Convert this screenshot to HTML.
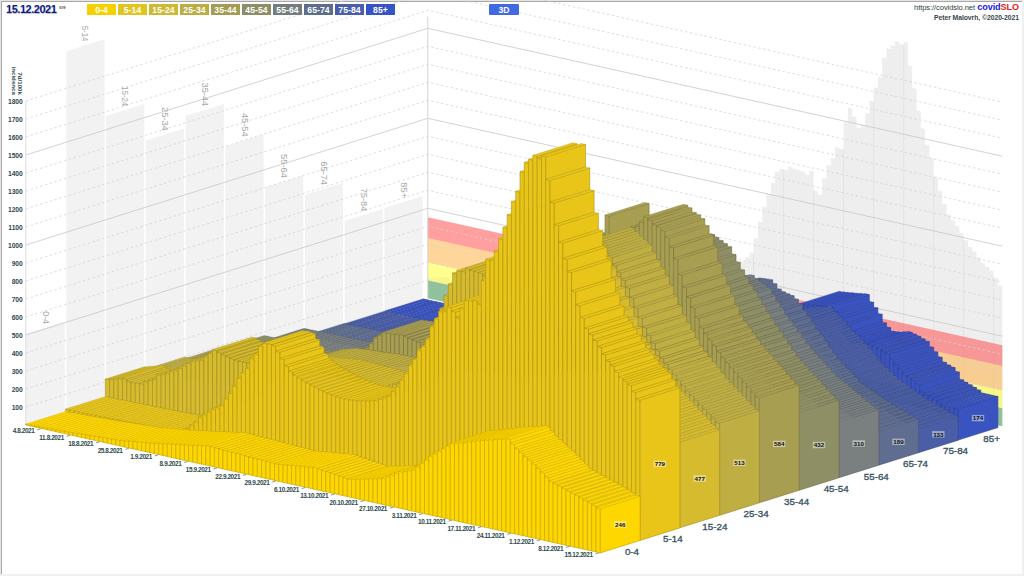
<!DOCTYPE html>
<html><head><meta charset="utf-8"><style>
html,body{margin:0;padding:0;background:#fff;}
body{width:1024px;height:576px;position:relative;overflow:hidden;font-family:"Liberation Sans","DejaVu Sans",sans-serif;}
.lg,#b3d,#date,#dow,#url,#brand,#auth{z-index:5}
#frame{position:absolute;left:0;top:0;width:1024px;height:576px;box-sizing:border-box;}
.bt{position:absolute;left:0;top:0;width:1024px;height:1px;background:#e4e4e4}
.bt2{position:absolute;left:1px;top:1px;width:1021px;height:1px;background:#a8a8a8}
.bl{position:absolute;left:0;top:0;width:1px;height:576px;background:#e4e4e4}
.bl2{position:absolute;left:1px;top:1px;width:1px;height:573px;background:#a8a8a8}
.br{position:absolute;left:1022px;top:0;width:2px;height:576px;background:#f0f0f0}
.bb{position:absolute;left:0;top:574px;width:1024px;height:2px;background:#f0f0f0}
#date{position:absolute;left:5.5px;top:3.2px;font:bold 11.5px "Liberation Sans",sans-serif;color:#0d1a8c;letter-spacing:-0.45px;text-shadow:0.6px 0.8px 0.6px rgba(0,0,0,0.25);transform:scaleX(0.95);transform-origin:0 0;}
#dow{position:absolute;left:59px;top:4.5px;font:bold 4.5px "Liberation Sans",sans-serif;color:#555;}
.lg{position:absolute;top:4px;width:29px;height:10.5px;color:#fff;font:bold 8.6px "Liberation Sans",sans-serif;text-align:center;line-height:12px;letter-spacing:0.1px;overflow:hidden}
#b3d{position:absolute;left:489px;top:4px;width:30px;height:10.6px;background:#4169e1;color:#fff;font:bold 8.6px "Liberation Sans",sans-serif;text-align:center;line-height:12px;border-radius:1px;overflow:hidden}
#url{position:absolute;right:49px;top:3.3px;font:7.6px "Liberation Sans",sans-serif;color:#2f3f40;letter-spacing:-0.1px}
#brand{position:absolute;right:5px;top:2.3px;font:bold 9.1px "Liberation Sans",sans-serif;letter-spacing:-0.1px}
#auth{position:absolute;right:5px;top:13.5px;font:bold 6.8px "Liberation Sans",sans-serif;color:#34464a;letter-spacing:-0.05px}
svg text{font-family:"Liberation Sans","DejaVu Sans",sans-serif;}
.wl{font-size:9.2px;fill:#a8a8a8;}
.vl{font-size:6.2px;fill:#111;font-weight:bold}
.al{font-size:9.8px;fill:#3b5464;stroke:#3b5464;stroke-width:0.35px}
.dl{font-size:6.4px;fill:#2e4a4e;font-weight:bold;letter-spacing:-0.4px}
.yl{font-size:6.7px;fill:#2e4a4e;font-weight:bold;letter-spacing:0px}
.yt{font-size:6.2px;fill:#2e4a4e;font-weight:bold}
</style></head><body>
<div class="bt"></div><div class="bl"></div><div class="bt2"></div><div class="bl2"></div><div class="br"></div><div class="bb"></div>
<div id="date">15.12.2021</div><div id="dow">sre</div>
<div class="lg" style="left:87px;background:#f7d000">0-4</div>
<div class="lg" style="left:118px;background:#e2c41e">5-14</div>
<div class="lg" style="left:149px;background:#d0b832">15-24</div>
<div class="lg" style="left:180px;background:#bcac44">25-34</div>
<div class="lg" style="left:211px;background:#a49c52">35-44</div>
<div class="lg" style="left:242px;background:#8e8e66">45-54</div>
<div class="lg" style="left:273px;background:#737d7e">55-64</div>
<div class="lg" style="left:304px;background:#5e6c8e">65-74</div>
<div class="lg" style="left:335px;background:#4a5eac">75-84</div>
<div class="lg" style="left:366px;background:#3654c6">85+</div>
<div id="b3d">3D</div>
<div id="url">https://covidslo.net</div>
<div id="brand"><span style="color:#1414f0">covid</span><span style="color:#f01818">SLO</span></div>
<div id="auth">Peter Malovrh, ©2020-2021</div>
<svg width="1024" height="576" viewBox="0 0 1024 576" style="position:absolute;left:0;top:0">
<style>.t{stroke-opacity:0.5}</style>
<polygon points="25.8,425.0 64.8,412.7 64.8,321.8 25.8,334.1" fill="#f2f2f2"/>
<polygon points="66.3,412.2 104.6,400.2 104.6,39.1 66.3,51.2" fill="#f2f2f2"/>
<polygon points="106.1,399.7 144.3,387.6 144.3,104.0 106.1,116.0" fill="#f2f2f2"/>
<polygon points="145.8,387.2 184.1,375.1 184.1,128.5 145.8,140.6" fill="#f2f2f2"/>
<polygon points="185.6,374.6 223.8,362.6 223.8,103.9 185.6,116.0" fill="#f2f2f2"/>
<polygon points="225.4,362.1 263.6,350.1 263.6,134.4 225.4,146.5" fill="#f2f2f2"/>
<polygon points="265.1,349.6 303.4,337.5 303.4,175.5 265.1,187.6" fill="#f2f2f2"/>
<polygon points="304.9,337.1 343.1,325.0 343.1,182.8 304.9,194.9" fill="#f2f2f2"/>
<polygon points="344.6,324.5 382.9,312.5 382.9,209.0 344.6,221.0" fill="#f2f2f2"/>
<polygon points="384.4,312.0 422.6,299.9 422.6,195.9 384.4,208.0" fill="#f2f2f2"/>
<polygon points="427.8,298.3 427.8,277.4 432.1,278.4 432.1,277.2 436.3,278.1 436.3,276.9 440.6,277.9 440.6,276.7 444.9,277.6 444.9,276.4 449.2,277.4 449.2,279.7 453.5,280.6 453.5,280.3 457.8,281.3 457.8,281.0 462.1,282.0 462.1,281.7 466.4,282.6 466.4,279.6 470.6,280.5 470.6,278.3 474.9,279.3 474.9,277.1 479.2,278.1 479.2,272.7 483.5,273.7 483.5,271.9 487.8,272.9 487.8,271.2 492.1,272.1 492.1,269.6 496.4,270.6 496.4,268.1 500.7,269.0 500.7,265.9 504.9,266.8 504.9,263.7 509.2,264.6 509.2,261.5 513.5,262.4 513.5,259.3 517.8,260.2 517.8,258.7 522.1,259.7 522.1,258.1 526.4,259.1 526.4,254.8 530.7,255.7 530.7,251.4 535.0,252.3 535.0,248.0 539.2,249.0 539.2,250.4 543.5,251.4 543.5,252.8 547.8,253.8 547.8,254.7 552.1,255.7 552.1,256.6 556.4,257.6 556.4,258.6 560.7,259.5 560.7,259.3 565.0,260.3 565.0,260.1 569.3,261.1 569.3,260.9 573.5,261.8 573.5,261.7 577.8,262.6 577.8,262.4 582.1,263.4 582.1,263.2 586.4,264.2 586.4,264.0 590.7,264.9 590.7,264.8 595.0,265.7 595.0,265.5 599.3,266.5 599.3,263.8 603.6,264.7 603.6,258.1 607.8,259.0 607.8,253.8 612.1,254.8 612.1,244.0 616.4,244.9 616.4,239.5 620.7,240.5 620.7,231.8 625.0,232.8 625.0,228.8 629.3,229.8 629.3,229.4 633.6,230.4 633.6,231.1 637.9,232.1 637.9,237.1 642.1,238.0 642.1,244.3 646.4,245.3 646.4,251.6 650.7,252.6 650.7,257.1 655.0,258.0 655.0,260.7 659.3,261.7 659.3,263.5 663.6,264.4 663.6,266.2 667.9,267.2 667.9,268.5 672.1,269.5 672.1,270.8 676.4,271.8 676.4,273.1 680.7,274.1 680.7,275.4 685.0,276.4 685.0,277.3 689.3,278.2 689.3,279.1 693.6,280.1 693.6,281.0 697.9,282.0 697.9,282.3 702.2,283.2 702.2,283.5 706.4,284.5 706.4,284.8 710.7,285.7 710.7,283.6 715.0,284.5 715.0,282.4 719.3,283.3 719.3,281.1 723.6,282.1 723.6,279.9 727.9,280.9 727.9,278.7 732.2,279.7 732.2,274.3 736.5,275.2 736.5,269.8 740.7,270.8 740.7,261.1 745.0,262.0 745.0,256.7 749.3,257.7 749.3,252.4 753.6,253.3 753.6,237.8 757.9,238.8 757.9,221.3 762.2,222.3 762.2,206.6 766.5,207.6 766.5,193.5 770.8,194.5 770.8,182.4 775.0,183.4 775.0,171.3 779.3,172.3 779.3,168.7 783.6,169.6 783.6,169.5 787.9,170.4 787.9,166.6 792.2,167.6 792.2,168.3 796.5,169.3 796.5,169.6 800.8,170.6 800.8,170.9 805.1,171.9 805.1,174.2 809.3,175.2 809.3,170.3 813.6,171.3 813.6,190.4 817.9,191.3 817.9,194.4 822.2,195.3 822.2,177.9 826.5,178.8 826.5,165.0 830.8,165.9 830.8,157.8 835.1,158.8 835.1,146.9 839.4,147.9 839.4,148.6 843.6,149.5 843.6,121.4 847.9,122.4 847.9,107.5 852.2,108.4 852.2,116.2 856.5,117.1 856.5,127.4 860.8,128.3 860.8,124.2 865.1,125.1 865.1,113.1 869.4,114.0 869.4,100.5 873.7,101.5 873.7,87.3 877.9,88.2 877.9,77.1 882.2,78.0 882.2,57.5 886.5,58.5 886.5,48.2 890.8,49.1 890.8,45.0 895.1,46.0 895.1,41.1 899.4,42.1 899.4,44.0 903.7,45.0 903.7,41.8 908.0,42.7 908.0,65.4 912.2,66.3 912.2,87.9 916.5,88.9 916.5,110.6 920.8,111.5 920.8,127.9 925.1,128.9 925.1,144.3 929.4,145.2 929.4,157.3 933.7,158.3 933.7,176.8 938.0,177.7 938.0,190.6 942.2,191.5 942.2,203.4 946.5,204.3 946.5,213.9 950.8,214.9 950.8,219.7 955.1,220.7 955.1,225.8 959.4,226.8 959.4,232.4 963.7,233.4 963.7,239.7 968.0,240.7 968.0,246.4 972.3,247.4 972.3,251.1 976.5,252.0 976.5,257.3 980.8,258.3 980.8,262.8 985.1,263.8 985.1,266.4 989.4,267.3 989.4,270.3 993.7,271.2 993.7,277.3 998.0,278.3 998.0,285.1 1002.3,286.0 1002.3,426.2" fill="#eeeeee"/>
<line x1="453.5" y1="304.0" x2="453.5" y2="280.6" stroke="#e3e3e3" stroke-width="1"/>
<line x1="483.5" y1="310.7" x2="483.5" y2="273.7" stroke="#e3e3e3" stroke-width="1"/>
<line x1="513.5" y1="317.4" x2="513.5" y2="262.4" stroke="#e3e3e3" stroke-width="1"/>
<line x1="543.5" y1="324.1" x2="543.5" y2="252.8" stroke="#e3e3e3" stroke-width="1"/>
<line x1="573.5" y1="330.8" x2="573.5" y2="261.8" stroke="#e3e3e3" stroke-width="1"/>
<line x1="603.6" y1="337.5" x2="603.6" y2="264.7" stroke="#e3e3e3" stroke-width="1"/>
<line x1="633.6" y1="344.1" x2="633.6" y2="231.1" stroke="#e3e3e3" stroke-width="1"/>
<line x1="663.6" y1="350.8" x2="663.6" y2="266.2" stroke="#e3e3e3" stroke-width="1"/>
<line x1="693.6" y1="357.5" x2="693.6" y2="281.0" stroke="#e3e3e3" stroke-width="1"/>
<line x1="723.6" y1="364.2" x2="723.6" y2="282.1" stroke="#e3e3e3" stroke-width="1"/>
<line x1="753.6" y1="370.9" x2="753.6" y2="253.3" stroke="#e3e3e3" stroke-width="1"/>
<line x1="783.6" y1="377.5" x2="783.6" y2="169.6" stroke="#e3e3e3" stroke-width="1"/>
<line x1="813.6" y1="384.2" x2="813.6" y2="190.4" stroke="#e3e3e3" stroke-width="1"/>
<line x1="843.6" y1="390.9" x2="843.6" y2="149.5" stroke="#e3e3e3" stroke-width="1"/>
<line x1="873.7" y1="397.6" x2="873.7" y2="101.5" stroke="#e3e3e3" stroke-width="1"/>
<line x1="903.7" y1="404.3" x2="903.7" y2="45.0" stroke="#e3e3e3" stroke-width="1"/>
<line x1="933.7" y1="411.0" x2="933.7" y2="176.8" stroke="#e3e3e3" stroke-width="1"/>
<line x1="963.7" y1="417.6" x2="963.7" y2="239.7" stroke="#e3e3e3" stroke-width="1"/>
<line x1="993.7" y1="424.3" x2="993.7" y2="277.3" stroke="#e3e3e3" stroke-width="1"/>
<polygon points="427.8,298.3 1002.3,426.2 1002.3,408.2 427.8,280.3" fill="rgba(60,150,80,0.52)"/>
<polygon points="427.8,280.3 1002.3,408.2 1002.3,390.2 427.8,262.3" fill="rgba(255,255,40,0.52)"/>
<polygon points="427.8,262.3 1002.3,390.2 1002.3,365.9 427.8,238.0" fill="rgba(255,175,60,0.52)"/>
<polygon points="427.8,238.0 1002.3,365.9 1002.3,345.2 427.8,217.3" fill="rgba(255,70,70,0.52)"/>
<polyline points="25.8,407.0 427.8,280.3 1002.3,408.2" fill="none" stroke="#d4d4d4" stroke-width="0.8" stroke-dasharray="2.5,2.5"/>
<polyline points="25.8,389.0 427.8,262.3 1002.3,390.2" fill="none" stroke="#d4d4d4" stroke-width="0.8" stroke-dasharray="2.5,2.5"/>
<polyline points="25.8,371.0 427.8,244.3 1002.3,372.2" fill="none" stroke="#d4d4d4" stroke-width="0.8" stroke-dasharray="2.5,2.5"/>
<polyline points="25.8,353.0 427.8,226.3 1002.3,354.2" fill="none" stroke="#d4d4d4" stroke-width="0.8" stroke-dasharray="2.5,2.5"/>
<polyline points="25.8,335.0 427.8,208.3 1002.3,336.2" fill="none" stroke="#c8c8c8" stroke-width="0.8"/>
<polyline points="25.8,317.0 427.8,190.3 1002.3,318.2" fill="none" stroke="#d4d4d4" stroke-width="0.8" stroke-dasharray="2.5,2.5"/>
<polyline points="25.8,299.0 427.8,172.3 1002.3,300.2" fill="none" stroke="#d4d4d4" stroke-width="0.8" stroke-dasharray="2.5,2.5"/>
<polyline points="25.8,281.0 427.8,154.3 1002.3,282.2" fill="none" stroke="#d4d4d4" stroke-width="0.8" stroke-dasharray="2.5,2.5"/>
<polyline points="25.8,263.0 427.8,136.3 1002.3,264.2" fill="none" stroke="#d4d4d4" stroke-width="0.8" stroke-dasharray="2.5,2.5"/>
<polyline points="25.8,245.0 427.8,118.3 1002.3,246.2" fill="none" stroke="#c8c8c8" stroke-width="0.8"/>
<polyline points="25.8,227.0 427.8,100.3 1002.3,228.2" fill="none" stroke="#d4d4d4" stroke-width="0.8" stroke-dasharray="2.5,2.5"/>
<polyline points="25.8,209.0 427.8,82.3 1002.3,210.2" fill="none" stroke="#d4d4d4" stroke-width="0.8" stroke-dasharray="2.5,2.5"/>
<polyline points="25.8,191.0 427.8,64.3 1002.3,192.2" fill="none" stroke="#d4d4d4" stroke-width="0.8" stroke-dasharray="2.5,2.5"/>
<polyline points="25.8,173.0 427.8,46.3 1002.3,174.2" fill="none" stroke="#d4d4d4" stroke-width="0.8" stroke-dasharray="2.5,2.5"/>
<polyline points="25.8,155.0 427.8,28.3 1002.3,156.2" fill="none" stroke="#c8c8c8" stroke-width="0.8"/>
<polyline points="25.8,137.0 427.8,10.3 1002.3,138.2" fill="none" stroke="#d4d4d4" stroke-width="0.8" stroke-dasharray="2.5,2.5"/>
<polyline points="25.8,119.0 427.8,-7.7 1002.3,120.2" fill="none" stroke="#d4d4d4" stroke-width="0.8" stroke-dasharray="2.5,2.5"/>
<polyline points="25.8,101.0 427.8,-25.7 1002.3,102.2" fill="none" stroke="#d4d4d4" stroke-width="0.8" stroke-dasharray="2.5,2.5"/>
<line x1="25.8" y1="425.0" x2="25.8" y2="101.0" stroke="#dcdcdc" stroke-width="1"/>
<line x1="427.8" y1="298.3" x2="427.8" y2="16.6" stroke="#d4d4d4" stroke-width="1"/>
<text transform="translate(42.7,324.0) rotate(90)" text-anchor="end" class="wl" textLength="12.7" lengthAdjust="spacingAndGlyphs">0-4</text>
<text transform="translate(82.4,41.3) rotate(90)" text-anchor="end" class="wl" textLength="15.5" lengthAdjust="spacingAndGlyphs">5-14</text>
<text transform="translate(122.2,106.2) rotate(90)" text-anchor="end" class="wl" textLength="20.1" lengthAdjust="spacingAndGlyphs">15-24</text>
<text transform="translate(162.0,130.7) rotate(90)" text-anchor="end" class="wl" textLength="23.7" lengthAdjust="spacingAndGlyphs">25-34</text>
<text transform="translate(201.7,106.2) rotate(90)" text-anchor="end" class="wl" textLength="23.7" lengthAdjust="spacingAndGlyphs">35-44</text>
<text transform="translate(241.5,136.6) rotate(90)" text-anchor="end" class="wl" textLength="23.7" lengthAdjust="spacingAndGlyphs">45-54</text>
<text transform="translate(281.2,177.8) rotate(90)" text-anchor="end" class="wl" textLength="23.7" lengthAdjust="spacingAndGlyphs">55-64</text>
<text transform="translate(321.0,185.0) rotate(90)" text-anchor="end" class="wl" textLength="23.7" lengthAdjust="spacingAndGlyphs">65-74</text>
<text transform="translate(360.8,211.2) rotate(90)" text-anchor="end" class="wl" textLength="23.3" lengthAdjust="spacingAndGlyphs">75-84</text>
<text transform="translate(400.5,198.1) rotate(90)" text-anchor="end" class="wl" textLength="15.8" lengthAdjust="spacingAndGlyphs">85+</text>
<g fill="#3953c0" stroke="#2b3e90" stroke-width="0.6" stroke-linejoin="round"><path class="t" d="M383.6,311.3l4.3,1l39.8,-12.5l-4.3,-1z"/><path class="t" d="M387.9,312.3l4.3,1l39.8,-12.5l-4.3,-1z"/><path class="t" d="M392.2,313.2l4.3,1l39.8,-12.5l-4.3,-1z"/><path class="t" d="M396.5,314.1l4.3,1l39.8,-12.5l-4.3,-1z"/><path class="t" d="M400.8,315l4.3,1l39.8,-12.5l-4.3,-1z"/><path class="t" d="M405.1,316l4.3,1l39.8,-12.5l-4.3,-1z"/><path class="t" d="M409.4,316.9l4.3,1l39.8,-12.5l-4.3,-1z"/><path class="t" d="M413.7,317.8l4.3,1l39.8,-12.5l-4.3,-1z"/><path class="t" d="M417.9,318.8l4.3,1l39.8,-12.5l-4.3,-1z"/><path class="t" d="M422.2,319.7l4.3,1l39.8,-12.5l-4.3,-1z"/><path class="t" d="M426.5,320.6l4.3,1l39.8,-12.5l-4.3,-1z"/><path class="t" d="M430.8,321.5l4.3,1l39.8,-12.5l-4.3,-1z"/><path class="t" d="M435.1,322.5l4.3,1l39.8,-12.5l-4.3,-1z"/><path class="t" d="M439.4,323.4l4.3,1l39.8,-12.5l-4.3,-1z"/><path class="t" d="M443.7,324.3l4.3,1l39.8,-12.5l-4.3,-1z"/><path class="t" d="M447.9,325.2l4.3,1l39.8,-12.5l-4.3,-1z"/><path class="t" d="M452.2,326.2l4.3,1l39.8,-12.5l-4.3,-1z"/><path class="t" d="M456.5,327.1l4.3,1l39.8,-12.5l-4.3,-1z"/><path class="t" d="M460.8,328l4.3,1l39.8,-12.5l-4.3,-1z"/><path class="t" d="M465.1,329l4.3,1l39.8,-12.5l-4.3,-1z"/><path class="t" d="M469.4,329.9l4.3,1l39.8,-12.5l-4.3,-1z"/><path class="t" d="M473.7,330.6l4.3,1l39.8,-12.5l-4.3,-1z"/><path class="t" d="M478,331.4l4.3,1l39.8,-12.5l-4.3,-1z"/><path class="t" d="M482.2,332.1l4.3,1l39.8,-12.5l-4.3,-1z"/><path class="t" d="M486.5,332.8l4.3,1l39.8,-12.5l-4.3,-1z"/><path class="t" d="M490.8,333.6l4.3,1l39.8,-12.5l-4.3,-1z"/><path class="t" d="M495.1,334.3l4.3,1l39.8,-12.5l-4.3,-1z"/><path class="t" d="M499.4,335l4.3,1l39.8,-12.5l-4.3,-1z"/><path class="t" d="M503.7,335.8l4.3,1l39.8,-12.5l-4.3,-1z"/><path class="t" d="M508,336.5l4.3,1l39.8,-12.5l-4.3,-1z"/><path class="t" d="M512.3,337.3l4.3,1l39.8,-12.5l-4.3,-1z"/><path class="t" d="M516.5,337.9l4.3,1l39.8,-12.5l-4.3,-1z"/><path class="t" d="M520.8,338.5l4.3,1l39.8,-12.5l-4.3,-1z"/><path class="t" d="M525.1,339l4.3,1l39.8,-12.5l-4.3,-1z"/><path class="t" d="M529.4,339.6l4.3,1l39.8,-12.5l-4.3,-1z"/><path class="t" d="M533.7,340.2l4.3,1l39.8,-12.5l-4.3,-1z"/><path class="t" d="M538,340.8l4.3,1l39.8,-12.5l-4.3,-1z"/><path class="t" d="M542.3,341.4l4.3,1l39.8,-12.5l-4.3,-1z"/><path class="t" d="M546.6,342l4.3,1l39.8,-12.5l-4.3,-1z"/><path class="t" d="M550.8,342.6l4.3,1l39.8,-12.5l-4.3,-1z"/><path class="t" d="M555.1,343.2l4.3,1l39.8,-12.5l-4.3,-1z"/><path class="t" d="M559.4,343.8l4.3,1l39.8,-12.5l-4.3,-1z"/><path class="t" d="M563.7,344.4l4.3,1l39.8,-12.5l-4.3,-1z"/><path class="t" d="M568,345l4.3,1l39.8,-12.5l-4.3,-1z"/><path class="t" d="M572.3,345.6l4.3,1l39.8,-12.5l-4.3,-1z"/><path class="t" d="M576.6,346.2l4.3,1l39.8,-12.5l-4.3,-1z"/><path class="t" d="M580.9,346.8l4.3,1l39.8,-12.5l-4.3,-1z"/><path class="t" d="M585.1,347.4l4.3,1l39.8,-12.5l-4.3,-1z"/><path class="t" d="M589.4,348l4.3,1l39.8,-12.5l-4.3,-1z"/><path class="t" d="M593.7,348.6l4.3,1l39.8,-12.5l-4.3,-1z"/><path class="t" d="M598,349.2l4.3,1l39.8,-12.5l-4.3,-1z"/><path class="t" d="M602.3,349.7l4.3,1l39.8,-12.5l-4.3,-1z"/><path class="t" d="M606.6,350.3l4.3,1l39.8,-12.5l-4.3,-1z"/><path class="t" d="M610.9,350.9l4.3,1l39.8,-12.5l-4.3,-1z"/><path class="t" d="M615.2,351.5l4.3,1l39.8,-12.5l-4.3,-1z"/><path class="t" d="M619.4,352.1l4.3,1l39.8,-12.5l-4.3,-1z"/><path class="t" d="M623.7,352.7l4.3,1l39.8,-12.5l-4.3,-1z"/><path class="t" d="M628,353.3l4.3,1l39.8,-12.5l-4.3,-1z"/><path class="t" d="M632.3,353.9l4.3,1l39.8,-12.5l-4.3,-1z"/><path class="t" d="M636.6,354.5l4.3,1l39.8,-12.5l-4.3,-1z"/><path class="t" d="M640.9,355.1l4.3,1l39.8,-12.5l-4.3,-1z"/><path class="t" d="M645.2,355.5l4.3,1l39.8,-12.5l-4.3,-1z"/><path class="t" d="M649.5,355.9l4.3,1l39.8,-12.5l-4.3,-1z"/><path class="t" d="M653.7,356.3l4.3,1l39.8,-12.5l-4.3,-1z"/><path class="t" d="M658,356.8l4.3,1l39.8,-12.5l-4.3,-1z"/><path class="t" d="M662.3,357.2l4.3,1l39.8,-12.5l-4.3,-1z"/><path class="t" d="M666.6,357.6l4.3,1l39.8,-12.5l-4.3,-1z"/><path class="t" d="M670.9,358l4.3,1l39.8,-12.5l-4.3,-1z"/><path class="t" d="M675.2,358.4l4.3,1l39.8,-12.5l-4.3,-1z"/><path class="t" d="M679.5,358.8l4.3,1l39.8,-12.5l-4.3,-1z"/><path class="t" d="M683.8,359.2l4.3,1l39.8,-12.5l-4.3,-1z"/><path class="t" d="M688,357.7l4.3,1l39.8,-12.5l-4.3,-1z"/><path class="t" d="M692.3,356.1l4.3,1l39.8,-12.5l-4.3,-1z"/><path d="M696.6,354.9l4.3,1v-.4l-4.3,-1z"/><path class="t" d="M696.6,354.5l4.3,1l39.8,-12.5l-4.3,-1z"/><path d="M700.9,354.1l4.3,1v-1.1l-4.3,-1z"/><path class="t" d="M700.9,353l4.3,1l39.8,-12.5l-4.3,-1z"/><path d="M705.2,353.2l4.3,1v-1.8l-4.3,-1z"/><path class="t" d="M705.2,351.4l4.3,1l39.8,-12.5l-4.3,-1z"/><path d="M709.5,352.4l4.3,1v-2.5l-4.3,-1z"/><path class="t" d="M709.5,349.9l4.3,1l39.8,-12.5l-4.3,-1z"/><path d="M713.8,351.5l4.3,1v-3.2l-4.3,-1z"/><path class="t" d="M713.8,348.3l4.3,1l39.8,-12.5l-4.3,-1z"/><path d="M718,350.7l4.3,1v-4l-4.3,-1z"/><path class="t" d="M718,346.7l4.3,1l39.8,-12.5l-4.3,-1z"/><path d="M722.3,349.8l4.3,1v-4.7l-4.3,-1z"/><path class="t" d="M722.3,345.2l4.3,1l39.8,-12.5l-4.3,-1z"/><path d="M726.6,349l4.3,1v-5.4l-4.3,-1z"/><path class="t" d="M726.6,343.6l4.3,1l39.8,-12.5l-4.3,-1z"/><path d="M730.9,347l4.3,1v-7.1l-4.3,-1z"/><path class="t" d="M730.9,339.9l4.3,1l39.8,-12.5l-4.3,-1z"/><path d="M735.2,345l4.3,1v-8.8l-4.3,-1z"/><path class="t" d="M735.2,336.2l4.3,1l39.8,-12.5l-4.3,-1z"/><path d="M739.5,343.1l4.3,1v-10.5l-4.3,-1z"/><path class="t" d="M739.5,332.6l4.3,1l39.8,-12.5l-4.3,-1z"/><path d="M743.8,341.1l4.3,1v-12.2l-4.3,-1z"/><path class="t" d="M743.8,328.9l4.3,1l39.8,-12.5l-4.3,-1z"/><path d="M748.1,339.1l4.3,1v-13.9l-4.3,-1z"/><path class="t" d="M748.1,325.2l4.3,1l39.8,-12.5l-4.3,-1z"/><path d="M752.3,337.2l4.3,1v-15.6l-4.3,-1z"/><path class="t" d="M752.3,321.5l4.3,1l39.8,-12.5l-4.3,-1z"/><path d="M756.6,335.2l4.3,1v-17.3l-4.3,-1z"/><path class="t" d="M756.6,317.9l4.3,1l39.8,-12.5l-4.3,-1z"/><path d="M760.9,333.2l4.3,1v-14.7l-4.3,-1z"/><path class="t" d="M760.9,318.5l4.3,1l39.8,-12.5l-4.3,-1z"/><path d="M765.2,331.3l4.3,1v-12.1l-4.3,-1z"/><path class="t" d="M765.2,319.2l4.3,1l39.8,-12.5l-4.3,-1z"/><path d="M769.5,329.3l4.3,1v-9.4l-4.3,-1z"/><path class="t" d="M769.5,319.8l4.3,1l39.8,-12.5l-4.3,-1z"/><path d="M773.8,327.3l4.3,1v-6.8l-4.3,-1z"/><path class="t" d="M773.8,320.5l4.3,1l39.8,-12.5l-4.3,-1z"/><path d="M778.1,325.3l4.3,1v-4.2l-4.3,-1z"/><path class="t" d="M778.1,321.1l4.3,1l39.8,-12.5l-4.3,-1z"/><path d="M782.4,323.4l4.3,1v-1.6l-4.3,-1z"/><path class="t" d="M782.4,321.8l4.3,1l39.8,-12.5l-4.3,-1z"/><path class="t" d="M786.6,322.5l4.3,1l39.8,-12.5l-4.3,-1z"/><path class="t" d="M790.9,323.1l4.3,1l39.8,-12.5l-4.3,-1z"/><path class="t" d="M795.2,323.8l4.3,1l39.8,-12.5l-4.3,-1z"/><path d="M799.5,314.8l4.3,1v-11.2l-4.3,-1z"/><path class="t" d="M799.5,303.7l4.3,1l39.8,-12.5l-4.3,-1z"/><path d="M803.8,312.2l4.3,1v-8l-4.3,-1z"/><path class="t" d="M803.8,304.2l4.3,1l39.8,-12.5l-4.3,-1z"/><path d="M808.1,309.5l4.3,1v-4.9l-4.3,-1z"/><path class="t" d="M808.1,304.7l4.3,1l39.8,-12.5l-4.3,-1z"/><path d="M812.4,306.9l4.3,1v-1.9l-4.3,-1z"/><path class="t" d="M812.4,305l4.3,1l39.8,-12.5l-4.3,-1z"/><path d="M816.7,306.8l4.3,1v-1.5l-4.3,-1z"/><path class="t" d="M816.7,305.4l4.3,1l39.8,-12.5l-4.3,-1z"/><path d="M820.9,306.8l4.3,1v-1.1l-4.3,-1z"/><path class="t" d="M820.9,305.7l4.3,1l39.8,-12.5l-4.3,-1z"/><path d="M825.2,306.8l4.3,1v-.6l-4.3,-1z"/><path d="M829.5,313.8l39.8,-12.5v-6.7l-39.8,12.5z"/><path class="t" d="M825.2,306.1l4.3,1l39.8,-12.5l-4.3,-1z"/><path d="M833.8,319.4l39.8,-12.5v-4.7l-39.8,12.5z"/><path class="t" d="M829.5,313.8l4.3,1l39.8,-12.5l-4.3,-1z"/><path d="M838.1,325.7l39.8,-12.5v-5.4l-39.8,12.5z"/><path class="t" d="M833.8,319.4l4.3,1l39.8,-12.5l-4.3,-1z"/><path d="M842.4,334.4l39.8,-12.5v-7.7l-39.8,12.5z"/><path class="t" d="M838.1,325.7l4.3,1l39.8,-12.5l-4.3,-1z"/><path d="M846.7,339.2l39.8,-12.5v-3.8l-39.8,12.5z"/><path class="t" d="M842.4,334.4l4.3,1l39.8,-12.5l-4.3,-1z"/><path d="M851,343.2l39.8,-12.5v-3.1l-39.8,12.5z"/><path class="t" d="M846.7,339.2l4.3,1l39.8,-12.5l-4.3,-1z"/><path class="t" d="M851,343.2l4.3,1l39.8,-12.5l-4.3,-1z"/><path class="t" d="M855.2,343.7l4.3,1l39.8,-12.5l-4.3,-1z"/><path class="t" d="M859.5,344.2l4.3,1l39.8,-12.5l-4.3,-1z"/><path class="t" d="M863.8,344l4.3,1l39.8,-12.5l-4.3,-1z"/><path d="M868.1,348.5l4.3,1v-4.8l-4.3,-1z"/><path d="M872.4,345.8l39.8,-12.5v-1.1l-39.8,12.5z"/><path class="t" d="M868.1,343.8l4.3,1l39.8,-12.5l-4.3,-1z"/><path d="M872.4,353.5l4.3,1v-7.7l-4.3,-1z"/><path d="M876.7,347.8l39.8,-12.5v-1.1l-39.8,12.5z"/><path class="t" d="M872.4,345.8l4.3,1l39.8,-12.5l-4.3,-1z"/><path d="M876.7,358.5l4.3,1v-10.7l-4.3,-1z"/><path d="M881,350.5l39.8,-12.5v-1.7l-39.8,12.5z"/><path class="t" d="M876.7,347.8l4.3,1l39.8,-12.5l-4.3,-1z"/><path d="M881,363.6l4.3,1v-13l-4.3,-1z"/><path d="M885.3,353.2l39.8,-12.5v-1.7l-39.8,12.5z"/><path class="t" d="M881,350.5l4.3,1l39.8,-12.5l-4.3,-1z"/><path d="M885.3,367.7l4.3,1v-14.5l-4.3,-1z"/><path d="M889.5,358.8l39.8,-12.5v-4.7l-39.8,12.5z"/><path class="t" d="M885.3,353.2l4.3,1l39.8,-12.5l-4.3,-1z"/><path d="M889.5,371.8l4.3,1v-13l-4.3,-1z"/><path d="M893.8,363.5l39.8,-12.5v-3.8l-39.8,12.5z"/><path class="t" d="M889.5,358.8l4.3,1l39.8,-12.5l-4.3,-1z"/><path d="M893.8,375.9l4.3,1v-12.3l-4.3,-1z"/><path d="M898.1,368.8l39.8,-12.5v-4.3l-39.8,12.5z"/><path class="t" d="M893.8,363.5l4.3,1l39.8,-12.5l-4.3,-1z"/><path d="M898.1,380l4.3,1v-11.2l-4.3,-1z"/><path d="M902.4,373.9l39.8,-12.5v-4.1l-39.8,12.5z"/><path class="t" d="M898.1,368.8l4.3,1l39.8,-12.5l-4.3,-1z"/><path d="M902.4,383l4.3,1v-9.1l-4.3,-1z"/><path d="M906.7,376.7l39.8,-12.5v-1.8l-39.8,12.5z"/><path class="t" d="M902.4,373.9l4.3,1l39.8,-12.5l-4.3,-1z"/><path d="M906.7,386.1l4.3,1v-9.4l-4.3,-1z"/><path d="M911,379.1l39.8,-12.5v-1.4l-39.8,12.5z"/><path class="t" d="M906.7,376.7l4.3,1l39.8,-12.5l-4.3,-1z"/><path d="M911,389.1l4.3,1v-10.1l-4.3,-1z"/><path d="M915.3,383.6l39.8,-12.5v-3.6l-39.8,12.5z"/><path class="t" d="M911,379.1l4.3,1l39.8,-12.5l-4.3,-1z"/><path d="M915.3,392.2l4.3,1v-8.6l-4.3,-1z"/><path d="M919.6,391.4l39.8,-12.5v-6.8l-39.8,12.5z"/><path class="t" d="M915.3,383.6l4.3,1l39.8,-12.5l-4.3,-1z"/><path d="M919.6,395.2l4.3,1v-3.8l-4.3,-1z"/><path d="M923.8,394l39.8,-12.5v-1.6l-39.8,12.5z"/><path class="t" d="M919.6,391.4l4.3,1l39.8,-12.5l-4.3,-1z"/><path d="M923.8,398.3l4.3,1v-4.3l-4.3,-1z"/><path d="M928.1,396.4l39.8,-12.5v-1.4l-39.8,12.5z"/><path class="t" d="M923.8,394l4.3,1l39.8,-12.5l-4.3,-1z"/><path d="M928.1,400.7l4.3,1v-4.3l-4.3,-1z"/><path d="M932.4,399.1l39.8,-12.5v-1.8l-39.8,12.5z"/><path class="t" d="M928.1,396.4l4.3,1l39.8,-12.5l-4.3,-1z"/><path d="M932.4,403.1l4.3,1v-4l-4.3,-1z"/><path d="M936.7,401.7l39.8,-12.5v-1.6l-39.8,12.5z"/><path class="t" d="M932.4,399.1l4.3,1l39.8,-12.5l-4.3,-1z"/><path d="M936.7,405.6l4.3,1v-3.9l-4.3,-1z"/><path d="M941,405l39.8,-12.5v-2.3l-39.8,12.5z"/><path class="t" d="M936.7,401.7l4.3,1l39.8,-12.5l-4.3,-1z"/><path d="M941,408l4.3,1v-3l-4.3,-1z"/><path class="t" d="M941,405l4.3,1l39.8,-12.5l-4.3,-1z"/><path d="M945.3,410.4l4.3,1v-4.4l-4.3,-1z"/><path class="t" d="M945.3,405.9l4.3,1l39.8,-12.5l-4.3,-1z"/><path d="M949.6,412.8l4.3,1v-5.9l-4.3,-1z"/><path class="t" d="M949.6,406.9l4.3,1l39.8,-12.5l-4.3,-1z"/><path d="M953.9,415.2l4.3,1v-7.4l-4.3,-1z"/><path d="M958.1,440.1l39.8,-12.5v-31.3l-39.8,12.5z"/><path class="t" d="M953.9,407.9l4.3,1l39.8,-12.5l-4.3,-1z"/></g>
<g fill="#4a5ea8" stroke="#37467e" stroke-width="0.6" stroke-linejoin="round"><path class="t" d="M343.9,323.9l4.3,1l39.8,-12.5l-4.3,-1z"/><path class="t" d="M348.2,324.8l4.3,1l39.8,-12.5l-4.3,-1z"/><path class="t" d="M352.5,325.7l4.3,1l39.8,-12.5l-4.3,-1z"/><path class="t" d="M356.7,326.6l4.3,1l39.8,-12.5l-4.3,-1z"/><path class="t" d="M361,327.5l4.3,1l39.8,-12.5l-4.3,-1z"/><path class="t" d="M365.3,328.4l4.3,1l39.8,-12.5l-4.3,-1z"/><path class="t" d="M369.6,329.3l4.3,1l39.8,-12.5l-4.3,-1z"/><path class="t" d="M373.9,330.2l4.3,1l39.8,-12.5l-4.3,-1z"/><path class="t" d="M378.2,331.1l4.3,1l39.8,-12.5l-4.3,-1z"/><path class="t" d="M382.5,332l4.3,1l39.8,-12.5l-4.3,-1z"/><path class="t" d="M386.8,333l4.3,1l39.8,-12.5l-4.3,-1z"/><path class="t" d="M391,333.9l4.3,1l39.8,-12.5l-4.3,-1z"/><path class="t" d="M395.3,334.8l4.3,1l39.8,-12.5l-4.3,-1z"/><path class="t" d="M399.6,335.7l4.3,1l39.8,-12.5l-4.3,-1z"/><path class="t" d="M403.9,336.6l4.3,1l39.8,-12.5l-4.3,-1z"/><path class="t" d="M408.2,337.5l4.3,1l39.8,-12.5l-4.3,-1z"/><path class="t" d="M412.5,338.4l4.3,1l39.8,-12.5l-4.3,-1z"/><path class="t" d="M416.8,339.3l4.3,1l39.8,-12.5l-4.3,-1z"/><path class="t" d="M421.1,340.2l4.3,1l39.8,-12.5l-4.3,-1z"/><path class="t" d="M425.3,341.1l4.3,1l39.8,-12.5l-4.3,-1z"/><path class="t" d="M429.6,342l4.3,1l39.8,-12.5l-4.3,-1z"/><path class="t" d="M433.9,342.7l4.3,1l39.8,-12.5l-4.3,-1z"/><path class="t" d="M438.2,343.4l4.3,1l39.8,-12.5l-4.3,-1z"/><path class="t" d="M442.5,344.1l4.3,1l39.8,-12.5l-4.3,-1z"/><path class="t" d="M446.8,344.8l4.3,1l39.8,-12.5l-4.3,-1z"/><path class="t" d="M451.1,345.5l4.3,1l39.8,-12.5l-4.3,-1z"/><path class="t" d="M455.3,346.2l4.3,1l39.8,-12.5l-4.3,-1z"/><path class="t" d="M459.6,346.8l4.3,1l39.8,-12.5l-4.3,-1z"/><path class="t" d="M463.9,347.5l4.3,1l39.8,-12.5l-4.3,-1z"/><path class="t" d="M468.2,348.2l4.3,1l39.8,-12.5l-4.3,-1z"/><path class="t" d="M472.5,348.9l4.3,1l39.8,-12.5l-4.3,-1z"/><path class="t" d="M476.8,349.4l4.3,1l39.8,-12.5l-4.3,-1z"/><path class="t" d="M481.1,349.9l4.3,1l39.8,-12.5l-4.3,-1z"/><path class="t" d="M485.4,350.4l4.3,1l39.8,-12.5l-4.3,-1z"/><path class="t" d="M489.6,350.9l4.3,1l39.8,-12.5l-4.3,-1z"/><path class="t" d="M493.9,351.4l4.3,1l39.8,-12.5l-4.3,-1z"/><path class="t" d="M498.2,351.9l4.3,1l39.8,-12.5l-4.3,-1z"/><path class="t" d="M502.5,352.4l4.3,1l39.8,-12.5l-4.3,-1z"/><path class="t" d="M506.8,352.9l4.3,1l39.8,-12.5l-4.3,-1z"/><path class="t" d="M511.1,353.4l4.3,1l39.8,-12.5l-4.3,-1z"/><path class="t" d="M515.4,353.9l4.3,1l39.8,-12.5l-4.3,-1z"/><path class="t" d="M519.7,354.5l4.3,1l39.8,-12.5l-4.3,-1z"/><path class="t" d="M523.9,355.1l4.3,1l39.8,-12.5l-4.3,-1z"/><path class="t" d="M528.2,355.7l4.3,1l39.8,-12.5l-4.3,-1z"/><path class="t" d="M532.5,356.3l4.3,1l39.8,-12.5l-4.3,-1z"/><path class="t" d="M536.8,356.9l4.3,1l39.8,-12.5l-4.3,-1z"/><path class="t" d="M541.1,357.5l4.3,1l39.8,-12.5l-4.3,-1z"/><path class="t" d="M545.4,358.1l4.3,1l39.8,-12.5l-4.3,-1z"/><path class="t" d="M549.7,358.7l4.3,1l39.8,-12.5l-4.3,-1z"/><path class="t" d="M554,359.3l4.3,1l39.8,-12.5l-4.3,-1z"/><path class="t" d="M558.2,359.9l4.3,1l39.8,-12.5l-4.3,-1z"/><path class="t" d="M562.5,360.5l4.3,1l39.8,-12.5l-4.3,-1z"/><path class="t" d="M566.8,361.1l4.3,1l39.8,-12.5l-4.3,-1z"/><path class="t" d="M571.1,361.7l4.3,1l39.8,-12.5l-4.3,-1z"/><path class="t" d="M575.4,362.3l4.3,1l39.8,-12.5l-4.3,-1z"/><path class="t" d="M579.7,362.9l4.3,1l39.8,-12.5l-4.3,-1z"/><path class="t" d="M584,363.5l4.3,1l39.8,-12.5l-4.3,-1z"/><path class="t" d="M588.3,364l4.3,1l39.8,-12.5l-4.3,-1z"/><path class="t" d="M592.5,364.6l4.3,1l39.8,-12.5l-4.3,-1z"/><path class="t" d="M596.8,365.2l4.3,1l39.8,-12.5l-4.3,-1z"/><path class="t" d="M601.1,365.8l4.3,1l39.8,-12.5l-4.3,-1z"/><path class="t" d="M605.4,366.2l4.3,1l39.8,-12.5l-4.3,-1z"/><path class="t" d="M609.7,366.7l4.3,1l39.8,-12.5l-4.3,-1z"/><path class="t" d="M614,367.1l4.3,1l39.8,-12.5l-4.3,-1z"/><path class="t" d="M618.3,367.5l4.3,1l39.8,-12.5l-4.3,-1z"/><path class="t" d="M622.6,367.9l4.3,1l39.8,-12.5l-4.3,-1z"/><path class="t" d="M626.8,368.3l4.3,1l39.8,-12.5l-4.3,-1z"/><path class="t" d="M631.1,368.7l4.3,1l39.8,-12.5l-4.3,-1z"/><path class="t" d="M635.4,369.1l4.3,1l39.8,-12.5l-4.3,-1z"/><path class="t" d="M639.7,369.6l4.3,1l39.8,-12.5l-4.3,-1z"/><path class="t" d="M644,370l4.3,1l39.8,-12.5l-4.3,-1z"/><path class="t" d="M648.3,369.1l4.3,1l39.8,-12.5l-4.3,-1z"/><path class="t" d="M652.6,368.3l4.3,1l39.8,-12.5l-4.3,-1z"/><path class="t" d="M656.9,367.4l4.3,1l39.8,-12.5l-4.3,-1z"/><path class="t" d="M661.1,366.6l4.3,1l39.8,-12.5l-4.3,-1z"/><path class="t" d="M665.4,365.7l4.3,1l39.8,-12.5l-4.3,-1z"/><path class="t" d="M669.7,364.9l4.3,1l39.8,-12.5l-4.3,-1z"/><path class="t" d="M674,364.1l4.3,1l39.8,-12.5l-4.3,-1z"/><path class="t" d="M678.3,363.2l4.3,1l39.8,-12.5l-4.3,-1z"/><path class="t" d="M682.6,362.4l4.3,1l39.8,-12.5l-4.3,-1z"/><path class="t" d="M686.9,361.5l4.3,1l39.8,-12.5l-4.3,-1z"/><path class="t" d="M691.2,359.5l4.3,1l39.8,-12.5l-4.3,-1z"/><path class="t" d="M695.4,357.6l4.3,1l39.8,-12.5l-4.3,-1z"/><path class="t" d="M699.7,355.6l4.3,1l39.8,-12.5l-4.3,-1z"/><path class="t" d="M704,353.6l4.3,1l39.8,-12.5l-4.3,-1z"/><path class="t" d="M708.3,351.7l4.3,1l39.8,-12.5l-4.3,-1z"/><path class="t" d="M712.6,349.7l4.3,1l39.8,-12.5l-4.3,-1z"/><path class="t" d="M716.9,347.7l4.3,1l39.8,-12.5l-4.3,-1z"/><path class="t" d="M721.2,345.8l4.3,1l39.8,-12.5l-4.3,-1z"/><path class="t" d="M725.4,343.8l4.3,1l39.8,-12.5l-4.3,-1z"/><path class="t" d="M729.7,341.8l4.3,1l39.8,-12.5l-4.3,-1z"/><path class="t" d="M734,339.8l4.3,1l39.8,-12.5l-4.3,-1z"/><path class="t" d="M738.3,337.9l4.3,1l39.8,-12.5l-4.3,-1z"/><path class="t" d="M742.6,335.9l4.3,1l39.8,-12.5l-4.3,-1z"/><path class="t" d="M746.9,333.9l4.3,1l39.8,-12.5l-4.3,-1z"/><path class="t" d="M751.2,332l4.3,1l39.8,-12.5l-4.3,-1z"/><path class="t" d="M755.5,330l4.3,1l39.8,-12.5l-4.3,-1z"/><path class="t" d="M759.7,327.3l4.3,1l39.8,-12.5l-4.3,-1z"/><path class="t" d="M764,324.7l4.3,1l39.8,-12.5l-4.3,-1z"/><path class="t" d="M768.3,322.1l4.3,1l39.8,-12.5l-4.3,-1z"/><path class="t" d="M772.6,319.4l4.3,1l39.8,-12.5l-4.3,-1z"/><path class="t" d="M776.9,319.4l4.3,1l39.8,-12.5l-4.3,-1z"/><path class="t" d="M781.2,319.3l4.3,1l39.8,-12.5l-4.3,-1z"/><path class="t" d="M785.5,319.3l4.3,1l39.8,-12.5l-4.3,-1z"/><path d="M794,323.9l39.8,-12.5v-3.7l-39.8,12.5z"/><path class="t" d="M789.8,319.3l4.3,1l39.8,-12.5l-4.3,-1z"/><path d="M798.3,328.6l39.8,-12.5v-3.7l-39.8,12.5z"/><path class="t" d="M794,323.9l4.3,1l39.8,-12.5l-4.3,-1z"/><path d="M802.6,333.2l39.8,-12.5v-3.7l-39.8,12.5z"/><path class="t" d="M798.3,328.6l4.3,1l39.8,-12.5l-4.3,-1z"/><path d="M806.9,337.8l39.8,-12.5v-3.7l-39.8,12.5z"/><path class="t" d="M802.6,333.2l4.3,1l39.8,-12.5l-4.3,-1z"/><path d="M811.2,342.4l39.8,-12.5v-3.6l-39.8,12.5z"/><path class="t" d="M806.9,337.8l4.3,1l39.8,-12.5l-4.3,-1z"/><path d="M815.5,347l39.8,-12.5v-3.6l-39.8,12.5z"/><path class="t" d="M811.2,342.4l4.3,1l39.8,-12.5l-4.3,-1z"/><path d="M819.8,351.5l39.8,-12.5v-3.6l-39.8,12.5z"/><path class="t" d="M815.5,347l4.3,1l39.8,-12.5l-4.3,-1z"/><path d="M824.1,356.1l39.8,-12.5v-3.6l-39.8,12.5z"/><path class="t" d="M819.8,351.5l4.3,1l39.8,-12.5l-4.3,-1z"/><path d="M828.3,361.1l39.8,-12.5v-4l-39.8,12.5z"/><path class="t" d="M824.1,356.1l4.3,1l39.8,-12.5l-4.3,-1z"/><path d="M832.6,366.1l39.8,-12.5v-4l-39.8,12.5z"/><path class="t" d="M828.3,361.1l4.3,1l39.8,-12.5l-4.3,-1z"/><path d="M836.9,371.1l39.8,-12.5v-4l-39.8,12.5z"/><path class="t" d="M832.6,366.1l4.3,1l39.8,-12.5l-4.3,-1z"/><path d="M841.2,376.1l39.8,-12.5v-4l-39.8,12.5z"/><path class="t" d="M836.9,371.1l4.3,1l39.8,-12.5l-4.3,-1z"/><path d="M845.5,380.2l39.8,-12.5v-3.1l-39.8,12.5z"/><path class="t" d="M841.2,376.1l4.3,1l39.8,-12.5l-4.3,-1z"/><path d="M849.8,384.3l39.8,-12.5v-3.1l-39.8,12.5z"/><path class="t" d="M845.5,380.2l4.3,1l39.8,-12.5l-4.3,-1z"/><path d="M854.1,388.4l39.8,-12.5v-3.1l-39.8,12.5z"/><path class="t" d="M849.8,384.3l4.3,1l39.8,-12.5l-4.3,-1z"/><path d="M858.4,392.5l39.8,-12.5v-3.1l-39.8,12.5z"/><path class="t" d="M854.1,388.4l4.3,1l39.8,-12.5l-4.3,-1z"/><path d="M862.6,395.6l39.8,-12.5v-2.1l-39.8,12.5z"/><path class="t" d="M858.4,392.5l4.3,1l39.8,-12.5l-4.3,-1z"/><path d="M866.9,398.6l39.8,-12.5v-2.1l-39.8,12.5z"/><path class="t" d="M862.6,395.6l4.3,1l39.8,-12.5l-4.3,-1z"/><path d="M871.2,401.7l39.8,-12.5v-2.1l-39.8,12.5z"/><path class="t" d="M866.9,398.6l4.3,1l39.8,-12.5l-4.3,-1z"/><path d="M875.5,404.7l39.8,-12.5v-2.1l-39.8,12.5z"/><path class="t" d="M871.2,401.7l4.3,1l39.8,-12.5l-4.3,-1z"/><path d="M879.8,407.8l39.8,-12.5v-2.1l-39.8,12.5z"/><path class="t" d="M875.5,404.7l4.3,1l39.8,-12.5l-4.3,-1z"/><path d="M884.1,410.8l39.8,-12.5v-2.1l-39.8,12.5z"/><path class="t" d="M879.8,407.8l4.3,1l39.8,-12.5l-4.3,-1z"/><path d="M888.4,413.2l39.8,-12.5v-1.5l-39.8,12.5z"/><path class="t" d="M884.1,410.8l4.3,1l39.8,-12.5l-4.3,-1z"/><path d="M892.7,415.7l39.8,-12.5v-1.5l-39.8,12.5z"/><path class="t" d="M888.4,413.2l4.3,1l39.8,-12.5l-4.3,-1z"/><path d="M896.9,418.1l39.8,-12.5v-1.5l-39.8,12.5z"/><path class="t" d="M892.7,415.7l4.3,1l39.8,-12.5l-4.3,-1z"/><path d="M901.2,420.5l39.8,-12.5v-1.5l-39.8,12.5z"/><path class="t" d="M896.9,418.1l4.3,1l39.8,-12.5l-4.3,-1z"/><path d="M905.5,422.9l39.8,-12.5v-1.5l-39.8,12.5z"/><path class="t" d="M901.2,420.5l4.3,1l39.8,-12.5l-4.3,-1z"/><path d="M909.8,425.3l39.8,-12.5v-1.5l-39.8,12.5z"/><path class="t" d="M905.5,422.9l4.3,1l39.8,-12.5l-4.3,-1z"/><path d="M914.1,427.8l39.8,-12.5v-1.5l-39.8,12.5z"/><path class="t" d="M909.8,425.3l4.3,1l39.8,-12.5l-4.3,-1z"/><path d="M918.4,452.7l39.8,-12.5v-23.9l-39.8,12.5z"/><path class="t" d="M914.1,427.8l4.3,1l39.8,-12.5l-4.3,-1z"/></g>
<g fill="#5f6e90" stroke="#475270" stroke-width="0.6" stroke-linejoin="round"><path class="t" d="M304.1,335.9l4.3,1l39.8,-12.5l-4.3,-1z"/><path class="t" d="M308.4,336.7l4.3,1l39.8,-12.5l-4.3,-1z"/><path class="t" d="M312.7,337.6l4.3,1l39.8,-12.5l-4.3,-1z"/><path class="t" d="M317,338.5l4.3,1l39.8,-12.5l-4.3,-1z"/><path class="t" d="M321.3,339.4l4.3,1l39.8,-12.5l-4.3,-1z"/><path class="t" d="M325.6,340.3l4.3,1l39.8,-12.5l-4.3,-1z"/><path class="t" d="M329.8,341.2l4.3,1l39.8,-12.5l-4.3,-1z"/><path class="t" d="M334.1,342.1l4.3,1l39.8,-12.5l-4.3,-1z"/><path class="t" d="M338.4,343l4.3,1l39.8,-12.5l-4.3,-1z"/><path class="t" d="M342.7,343.9l4.3,1l39.8,-12.5l-4.3,-1z"/><path class="t" d="M347,344.8l4.3,1l39.8,-12.5l-4.3,-1z"/><path class="t" d="M351.3,345.7l4.3,1l39.8,-12.5l-4.3,-1z"/><path class="t" d="M355.6,346.5l4.3,1l39.8,-12.5l-4.3,-1z"/><path class="t" d="M359.9,347.4l4.3,1l39.8,-12.5l-4.3,-1z"/><path class="t" d="M364.1,348.3l4.3,1l39.8,-12.5l-4.3,-1z"/><path class="t" d="M368.4,349.2l4.3,1l39.8,-12.5l-4.3,-1z"/><path class="t" d="M372.7,350.1l4.3,1l39.8,-12.5l-4.3,-1z"/><path class="t" d="M377,351l4.3,1l39.8,-12.5l-4.3,-1z"/><path class="t" d="M381.3,351.9l4.3,1l39.8,-12.5l-4.3,-1z"/><path class="t" d="M385.6,352.8l4.3,1l39.8,-12.5l-4.3,-1z"/><path class="t" d="M389.9,353.7l4.3,1l39.8,-12.5l-4.3,-1z"/><path class="t" d="M394.2,354.2l4.3,1l39.8,-12.5l-4.3,-1z"/><path class="t" d="M398.4,354.7l4.3,1l39.8,-12.5l-4.3,-1z"/><path class="t" d="M402.7,355.2l4.3,1l39.8,-12.5l-4.3,-1z"/><path class="t" d="M407,355.7l4.3,1l39.8,-12.5l-4.3,-1z"/><path class="t" d="M411.3,356.2l4.3,1l39.8,-12.5l-4.3,-1z"/><path class="t" d="M415.6,356.7l4.3,1l39.8,-12.5l-4.3,-1z"/><path class="t" d="M419.9,357.2l4.3,1l39.8,-12.5l-4.3,-1z"/><path class="t" d="M424.2,357.7l4.3,1l39.8,-12.5l-4.3,-1z"/><path class="t" d="M428.5,358.2l4.3,1l39.8,-12.5l-4.3,-1z"/><path class="t" d="M432.7,358.7l4.3,1l39.8,-12.5l-4.3,-1z"/><path class="t" d="M437,358.8l4.3,1l39.8,-12.5l-4.3,-1z"/><path class="t" d="M441.3,358.8l4.3,1l39.8,-12.5l-4.3,-1z"/><path class="t" d="M445.6,358.9l4.3,1l39.8,-12.5l-4.3,-1z"/><path class="t" d="M449.9,358.9l4.3,1l39.8,-12.5l-4.3,-1z"/><path class="t" d="M454.2,359l4.3,1l39.8,-12.5l-4.3,-1z"/><path class="t" d="M458.5,359.1l4.3,1l39.8,-12.5l-4.3,-1z"/><path class="t" d="M462.8,359.1l4.3,1l39.8,-12.5l-4.3,-1z"/><path class="t" d="M467,359.2l4.3,1l39.8,-12.5l-4.3,-1z"/><path class="t" d="M471.3,359.2l4.3,1l39.8,-12.5l-4.3,-1z"/><path class="t" d="M475.6,359.3l4.3,1l39.8,-12.5l-4.3,-1z"/><path class="t" d="M479.9,359.7l4.3,1l39.8,-12.5l-4.3,-1z"/><path class="t" d="M484.2,360.1l4.3,1l39.8,-12.5l-4.3,-1z"/><path class="t" d="M488.5,360.5l4.3,1l39.8,-12.5l-4.3,-1z"/><path class="t" d="M492.8,360.9l4.3,1l39.8,-12.5l-4.3,-1z"/><path class="t" d="M497,361.3l4.3,1l39.8,-12.5l-4.3,-1z"/><path class="t" d="M501.3,361.8l4.3,1l39.8,-12.5l-4.3,-1z"/><path class="t" d="M505.6,362.2l4.3,1l39.8,-12.5l-4.3,-1z"/><path class="t" d="M509.9,362.6l4.3,1l39.8,-12.5l-4.3,-1z"/><path class="t" d="M514.2,363l4.3,1l39.8,-12.5l-4.3,-1z"/><path class="t" d="M518.5,363.4l4.3,1l39.8,-12.5l-4.3,-1z"/><path class="t" d="M522.8,364l4.3,1l39.8,-12.5l-4.3,-1z"/><path class="t" d="M527.1,364.6l4.3,1l39.8,-12.5l-4.3,-1z"/><path class="t" d="M531.3,365.2l4.3,1l39.8,-12.5l-4.3,-1z"/><path class="t" d="M535.6,365.8l4.3,1l39.8,-12.5l-4.3,-1z"/><path class="t" d="M539.9,366.4l4.3,1l39.8,-12.5l-4.3,-1z"/><path class="t" d="M544.2,367l4.3,1l39.8,-12.5l-4.3,-1z"/><path class="t" d="M548.5,367.6l4.3,1l39.8,-12.5l-4.3,-1z"/><path class="t" d="M552.8,368.2l4.3,1l39.8,-12.5l-4.3,-1z"/><path class="t" d="M557.1,368.8l4.3,1l39.8,-12.5l-4.3,-1z"/><path class="t" d="M561.4,369.4l4.3,1l39.8,-12.5l-4.3,-1z"/><path class="t" d="M565.6,369.6l4.3,1l39.8,-12.5l-4.3,-1z"/><path class="t" d="M569.9,369.8l4.3,1l39.8,-12.5l-4.3,-1z"/><path class="t" d="M574.2,370.1l4.3,1l39.8,-12.5l-4.3,-1z"/><path class="t" d="M578.5,370.3l4.3,1l39.8,-12.5l-4.3,-1z"/><path class="t" d="M582.8,370.5l4.3,1l39.8,-12.5l-4.3,-1z"/><path class="t" d="M587.1,370.8l4.3,1l39.8,-12.5l-4.3,-1z"/><path class="t" d="M591.4,371l4.3,1l39.8,-12.5l-4.3,-1z"/><path class="t" d="M595.7,371.2l4.3,1l39.8,-12.5l-4.3,-1z"/><path class="t" d="M599.9,371.5l4.3,1l39.8,-12.5l-4.3,-1z"/><path class="t" d="M604.2,371.7l4.3,1l39.8,-12.5l-4.3,-1z"/><path class="t" d="M608.5,370.5l4.3,1l39.8,-12.5l-4.3,-1z"/><path class="t" d="M612.8,369.3l4.3,1l39.8,-12.5l-4.3,-1z"/><path class="t" d="M617.1,368.1l4.3,1l39.8,-12.5l-4.3,-1z"/><path class="t" d="M621.4,366.9l4.3,1l39.8,-12.5l-4.3,-1z"/><path class="t" d="M625.7,365.7l4.3,1l39.8,-12.5l-4.3,-1z"/><path class="t" d="M630,364.5l4.3,1l39.8,-12.5l-4.3,-1z"/><path class="t" d="M634.2,363.3l4.3,1l39.8,-12.5l-4.3,-1z"/><path class="t" d="M638.5,362.1l4.3,1l39.8,-12.5l-4.3,-1z"/><path class="t" d="M642.8,360.9l4.3,1l39.8,-12.5l-4.3,-1z"/><path class="t" d="M647.1,359.7l4.3,1l39.8,-12.5l-4.3,-1z"/><path class="t" d="M651.4,356.6l4.3,1l39.8,-12.5l-4.3,-1z"/><path class="t" d="M655.7,353.5l4.3,1l39.8,-12.5l-4.3,-1z"/><path class="t" d="M660,350.4l4.3,1l39.8,-12.5l-4.3,-1z"/><path class="t" d="M664.3,347.3l4.3,1l39.8,-12.5l-4.3,-1z"/><path class="t" d="M668.5,344.2l4.3,1l39.8,-12.5l-4.3,-1z"/><path class="t" d="M672.8,341.1l4.3,1l39.8,-12.5l-4.3,-1z"/><path class="t" d="M677.1,338l4.3,1l39.8,-12.5l-4.3,-1z"/><path class="t" d="M681.4,334.9l4.3,1l39.8,-12.5l-4.3,-1z"/><path class="t" d="M685.7,328.1l4.3,1l39.8,-12.5l-4.3,-1z"/><path class="t" d="M690,321.3l4.3,1l39.8,-12.5l-4.3,-1z"/><path class="t" d="M694.3,314.4l4.3,1l39.8,-12.5l-4.3,-1z"/><path class="t" d="M698.6,307.6l4.3,1l39.8,-12.5l-4.3,-1z"/><path class="t" d="M702.8,300.8l4.3,1l39.8,-12.5l-4.3,-1z"/><path class="t" d="M707.1,294l4.3,1l39.8,-12.5l-4.3,-1z"/><path class="t" d="M711.4,292.7l4.3,1l39.8,-12.5l-4.3,-1z"/><path class="t" d="M715.7,291.5l4.3,1l39.8,-12.5l-4.3,-1z"/><path class="t" d="M720,290.2l4.3,1l39.8,-12.5l-4.3,-1z"/><path class="t" d="M724.3,290.8l4.3,1l39.8,-12.5l-4.3,-1z"/><path d="M732.9,295.4l39.8,-12.5v-3.1l-39.8,12.5z"/><path class="t" d="M728.6,291.4l4.3,1l39.8,-12.5l-4.3,-1z"/><path d="M737.1,300.7l39.8,-12.5v-4.3l-39.8,12.5z"/><path class="t" d="M732.9,295.4l4.3,1l39.8,-12.5l-4.3,-1z"/><path d="M741.4,303.6l39.8,-12.5v-2l-39.8,12.5z"/><path class="t" d="M737.1,300.7l4.3,1l39.8,-12.5l-4.3,-1z"/><path d="M745.7,305.5l39.8,-12.5v-.9l-39.8,12.5z"/><path class="t" d="M741.4,303.6l4.3,1l39.8,-12.5l-4.3,-1z"/><path d="M750,307.3l39.8,-12.5v-.9l-39.8,12.5z"/><path class="t" d="M745.7,305.5l4.3,1l39.8,-12.5l-4.3,-1z"/><path d="M754.3,310.8l39.8,-12.5v-2.5l-39.8,12.5z"/><path class="t" d="M750,307.3l4.3,1l39.8,-12.5l-4.3,-1z"/><path d="M758.6,315.7l39.8,-12.5v-4l-39.8,12.5z"/><path class="t" d="M754.3,310.8l4.3,1l39.8,-12.5l-4.3,-1z"/><path d="M762.9,322.2l39.8,-12.5v-5.5l-39.8,12.5z"/><path class="t" d="M758.6,315.7l4.3,1l39.8,-12.5l-4.3,-1z"/><path d="M767.1,328.6l39.8,-12.5v-5.5l-39.8,12.5z"/><path class="t" d="M762.9,322.2l4.3,1l39.8,-12.5l-4.3,-1z"/><path d="M771.4,335l39.8,-12.5v-5.5l-39.8,12.5z"/><path class="t" d="M767.1,328.6l4.3,1l39.8,-12.5l-4.3,-1z"/><path d="M775.7,341.5l39.8,-12.5v-5.5l-39.8,12.5z"/><path class="t" d="M771.4,335l4.3,1l39.8,-12.5l-4.3,-1z"/><path d="M780,347.5l39.8,-12.5v-5l-39.8,12.5z"/><path class="t" d="M775.7,341.5l4.3,1l39.8,-12.5l-4.3,-1z"/><path d="M784.3,353.5l39.8,-12.5v-5l-39.8,12.5z"/><path class="t" d="M780,347.5l4.3,1l39.8,-12.5l-4.3,-1z"/><path d="M788.6,359.5l39.8,-12.5v-5l-39.8,12.5z"/><path class="t" d="M784.3,353.5l4.3,1l39.8,-12.5l-4.3,-1z"/><path d="M792.9,365.5l39.8,-12.5v-5l-39.8,12.5z"/><path class="t" d="M788.6,359.5l4.3,1l39.8,-12.5l-4.3,-1z"/><path d="M797.2,371.5l39.8,-12.5v-5l-39.8,12.5z"/><path class="t" d="M792.9,365.5l4.3,1l39.8,-12.5l-4.3,-1z"/><path d="M801.4,376l39.8,-12.5v-3.6l-39.8,12.5z"/><path class="t" d="M797.2,371.5l4.3,1l39.8,-12.5l-4.3,-1z"/><path d="M805.7,380.6l39.8,-12.5v-3.6l-39.8,12.5z"/><path class="t" d="M801.4,376l4.3,1l39.8,-12.5l-4.3,-1z"/><path d="M810,385.1l39.8,-12.5v-3.6l-39.8,12.5z"/><path class="t" d="M805.7,380.6l4.3,1l39.8,-12.5l-4.3,-1z"/><path d="M814.3,389.7l39.8,-12.5v-3.6l-39.8,12.5z"/><path class="t" d="M810,385.1l4.3,1l39.8,-12.5l-4.3,-1z"/><path d="M818.6,394.2l39.8,-12.5v-3.6l-39.8,12.5z"/><path class="t" d="M814.3,389.7l4.3,1l39.8,-12.5l-4.3,-1z"/><path d="M822.9,397.3l39.8,-12.5v-2.1l-39.8,12.5z"/><path class="t" d="M818.6,394.2l4.3,1l39.8,-12.5l-4.3,-1z"/><path d="M827.2,400.3l39.8,-12.5v-2.1l-39.8,12.5z"/><path class="t" d="M822.9,397.3l4.3,1l39.8,-12.5l-4.3,-1z"/><path d="M831.5,403.4l39.8,-12.5v-2.1l-39.8,12.5z"/><path class="t" d="M827.2,400.3l4.3,1l39.8,-12.5l-4.3,-1z"/><path d="M835.7,406.4l39.8,-12.5v-2.1l-39.8,12.5z"/><path class="t" d="M831.5,403.4l4.3,1l39.8,-12.5l-4.3,-1z"/><path d="M840,409.5l39.8,-12.5v-2.1l-39.8,12.5z"/><path class="t" d="M835.7,406.4l4.3,1l39.8,-12.5l-4.3,-1z"/><path d="M844.3,412.6l39.8,-12.5v-2.1l-39.8,12.5z"/><path class="t" d="M840,409.5l4.3,1l39.8,-12.5l-4.3,-1z"/><path d="M848.6,415.1l39.8,-12.5v-1.6l-39.8,12.5z"/><path class="t" d="M844.3,412.6l4.3,1l39.8,-12.5l-4.3,-1z"/><path d="M852.9,417.7l39.8,-12.5v-1.6l-39.8,12.5z"/><path class="t" d="M848.6,415.1l4.3,1l39.8,-12.5l-4.3,-1z"/><path d="M857.2,420.2l39.8,-12.5v-1.6l-39.8,12.5z"/><path class="t" d="M852.9,417.7l4.3,1l39.8,-12.5l-4.3,-1z"/><path d="M861.5,422.8l39.8,-12.5v-1.6l-39.8,12.5z"/><path class="t" d="M857.2,420.2l4.3,1l39.8,-12.5l-4.3,-1z"/><path d="M865.8,425.3l39.8,-12.5v-1.6l-39.8,12.5z"/><path class="t" d="M861.5,422.8l4.3,1l39.8,-12.5l-4.3,-1z"/><path d="M870,427.8l39.8,-12.5v-1.6l-39.8,12.5z"/><path class="t" d="M865.8,425.3l4.3,1l39.8,-12.5l-4.3,-1z"/><path d="M874.3,430.2l39.8,-12.5v-1.4l-39.8,12.5z"/><path class="t" d="M870,427.8l4.3,1l39.8,-12.5l-4.3,-1z"/><path d="M878.6,465.2l39.8,-12.5v-34l-39.8,12.5z"/><path class="t" d="M874.3,430.2l4.3,1l39.8,-12.5l-4.3,-1z"/></g>
<g fill="#7a8080" stroke="#5b6060" stroke-width="0.6" stroke-linejoin="round"><path class="t" d="M264.4,340.8l4.3,1l39.8,-12.5l-4.3,-1z"/><path class="t" d="M268.6,341.7l4.3,1l39.8,-12.5l-4.3,-1z"/><path class="t" d="M272.9,342.6l4.3,1l39.8,-12.5l-4.3,-1z"/><path class="t" d="M277.2,343.5l4.3,1l39.8,-12.5l-4.3,-1z"/><path class="t" d="M281.5,344.5l4.3,1l39.8,-12.5l-4.3,-1z"/><path class="t" d="M285.8,345.4l4.3,1l39.8,-12.5l-4.3,-1z"/><path class="t" d="M290.1,346.3l4.3,1l39.8,-12.5l-4.3,-1z"/><path class="t" d="M294.4,347.2l4.3,1l39.8,-12.5l-4.3,-1z"/><path class="t" d="M298.7,348.1l4.3,1l39.8,-12.5l-4.3,-1z"/><path class="t" d="M302.9,349l4.3,1l39.8,-12.5l-4.3,-1z"/><path class="t" d="M307.2,349.9l4.3,1l39.8,-12.5l-4.3,-1z"/><path class="t" d="M311.5,350.8l4.3,1l39.8,-12.5l-4.3,-1z"/><path class="t" d="M315.8,351.7l4.3,1l39.8,-12.5l-4.3,-1z"/><path class="t" d="M320.1,352.6l4.3,1l39.8,-12.5l-4.3,-1z"/><path class="t" d="M324.4,353.6l4.3,1l39.8,-12.5l-4.3,-1z"/><path class="t" d="M328.7,354.5l4.3,1l39.8,-12.5l-4.3,-1z"/><path class="t" d="M333,355.4l4.3,1l39.8,-12.5l-4.3,-1z"/><path class="t" d="M337.2,356.3l4.3,1l39.8,-12.5l-4.3,-1z"/><path class="t" d="M341.5,357.2l4.3,1l39.8,-12.5l-4.3,-1z"/><path class="t" d="M345.8,358.1l4.3,1l39.8,-12.5l-4.3,-1z"/><path class="t" d="M350.1,359l4.3,1l39.8,-12.5l-4.3,-1z"/><path class="t" d="M354.4,359.7l4.3,1l39.8,-12.5l-4.3,-1z"/><path class="t" d="M358.7,360.4l4.3,1l39.8,-12.5l-4.3,-1z"/><path class="t" d="M363,361.1l4.3,1l39.8,-12.5l-4.3,-1z"/><path class="t" d="M367.3,361.7l4.3,1l39.8,-12.5l-4.3,-1z"/><path class="t" d="M371.5,362.4l4.3,1l39.8,-12.5l-4.3,-1z"/><path class="t" d="M375.8,363.1l4.3,1l39.8,-12.5l-4.3,-1z"/><path class="t" d="M380.1,363.8l4.3,1l39.8,-12.5l-4.3,-1z"/><path class="t" d="M384.4,364.5l4.3,1l39.8,-12.5l-4.3,-1z"/><path class="t" d="M388.7,365.2l4.3,1l39.8,-12.5l-4.3,-1z"/><path class="t" d="M393,365.9l4.3,1l39.8,-12.5l-4.3,-1z"/><path class="t" d="M397.3,365.9l4.3,1l39.8,-12.5l-4.3,-1z"/><path class="t" d="M401.6,366l4.3,1l39.8,-12.5l-4.3,-1z"/><path class="t" d="M405.8,366l4.3,1l39.8,-12.5l-4.3,-1z"/><path class="t" d="M410.1,366.1l4.3,1l39.8,-12.5l-4.3,-1z"/><path class="t" d="M414.4,366.1l4.3,1l39.8,-12.5l-4.3,-1z"/><path class="t" d="M418.7,366.2l4.3,1l39.8,-12.5l-4.3,-1z"/><path class="t" d="M423,366.2l4.3,1l39.8,-12.5l-4.3,-1z"/><path class="t" d="M427.3,366.3l4.3,1l39.8,-12.5l-4.3,-1z"/><path class="t" d="M431.6,366.3l4.3,1l39.8,-12.5l-4.3,-1z"/><path class="t" d="M435.9,366.4l4.3,1l39.8,-12.5l-4.3,-1z"/><path class="t" d="M440.1,366.8l4.3,1l39.8,-12.5l-4.3,-1z"/><path class="t" d="M444.4,367.2l4.3,1l39.8,-12.5l-4.3,-1z"/><path class="t" d="M448.7,367.6l4.3,1l39.8,-12.5l-4.3,-1z"/><path class="t" d="M453,368.1l4.3,1l39.8,-12.5l-4.3,-1z"/><path class="t" d="M457.3,368.5l4.3,1l39.8,-12.5l-4.3,-1z"/><path class="t" d="M461.6,368.9l4.3,1l39.8,-12.5l-4.3,-1z"/><path class="t" d="M465.9,369.3l4.3,1l39.8,-12.5l-4.3,-1z"/><path class="t" d="M470.2,369.7l4.3,1l39.8,-12.5l-4.3,-1z"/><path class="t" d="M474.4,370.1l4.3,1l39.8,-12.5l-4.3,-1z"/><path class="t" d="M478.7,370.5l4.3,1l39.8,-12.5l-4.3,-1z"/><path class="t" d="M483,371.1l4.3,1l39.8,-12.5l-4.3,-1z"/><path class="t" d="M487.3,371.7l4.3,1l39.8,-12.5l-4.3,-1z"/><path class="t" d="M491.6,372.3l4.3,1l39.8,-12.5l-4.3,-1z"/><path class="t" d="M495.9,372.9l4.3,1l39.8,-12.5l-4.3,-1z"/><path class="t" d="M500.2,373.5l4.3,1l39.8,-12.5l-4.3,-1z"/><path class="t" d="M504.4,374.1l4.3,1l39.8,-12.5l-4.3,-1z"/><path class="t" d="M508.7,374.7l4.3,1l39.8,-12.5l-4.3,-1z"/><path class="t" d="M513,375.3l4.3,1l39.8,-12.5l-4.3,-1z"/><path class="t" d="M517.3,375.9l4.3,1l39.8,-12.5l-4.3,-1z"/><path class="t" d="M521.6,376.5l4.3,1l39.8,-12.5l-4.3,-1z"/><path class="t" d="M525.9,376l4.3,1l39.8,-12.5l-4.3,-1z"/><path class="t" d="M530.2,375.5l4.3,1l39.8,-12.5l-4.3,-1z"/><path class="t" d="M534.5,375l4.3,1l39.8,-12.5l-4.3,-1z"/><path class="t" d="M538.7,374.5l4.3,1l39.8,-12.5l-4.3,-1z"/><path class="t" d="M543,374.1l4.3,1l39.8,-12.5l-4.3,-1z"/><path class="t" d="M547.3,373.6l4.3,1l39.8,-12.5l-4.3,-1z"/><path class="t" d="M551.6,373.1l4.3,1l39.8,-12.5l-4.3,-1z"/><path class="t" d="M555.9,372.6l4.3,1l39.8,-12.5l-4.3,-1z"/><path class="t" d="M560.2,372.1l4.3,1l39.8,-12.5l-4.3,-1z"/><path class="t" d="M564.5,371.6l4.3,1l39.8,-12.5l-4.3,-1z"/><path class="t" d="M568.8,369l4.3,1l39.8,-12.5l-4.3,-1z"/><path class="t" d="M573,366.3l4.3,1l39.8,-12.5l-4.3,-1z"/><path class="t" d="M577.3,363.7l4.3,1l39.8,-12.5l-4.3,-1z"/><path class="t" d="M581.6,361.1l4.3,1l39.8,-12.5l-4.3,-1z"/><path class="t" d="M585.9,358.4l4.3,1l39.8,-12.5l-4.3,-1z"/><path class="t" d="M590.2,355.8l4.3,1l39.8,-12.5l-4.3,-1z"/><path class="t" d="M594.5,353.1l4.3,1l39.8,-12.5l-4.3,-1z"/><path class="t" d="M598.8,350.5l4.3,1l39.8,-12.5l-4.3,-1z"/><path class="t" d="M603.1,347.8l4.3,1l39.8,-12.5l-4.3,-1z"/><path class="t" d="M607.3,345.2l4.3,1l39.8,-12.5l-4.3,-1z"/><path class="t" d="M611.6,342.5l4.3,1l39.8,-12.5l-4.3,-1z"/><path class="t" d="M615.9,339.9l4.3,1l39.8,-12.5l-4.3,-1z"/><path class="t" d="M620.2,337.2l4.3,1l39.8,-12.5l-4.3,-1z"/><path class="t" d="M624.5,334.6l4.3,1l39.8,-12.5l-4.3,-1z"/><path class="t" d="M628.8,332l4.3,1l39.8,-12.5l-4.3,-1z"/><path class="t" d="M633.1,329.3l4.3,1l39.8,-12.5l-4.3,-1z"/><path class="t" d="M637.4,326.7l4.3,1l39.8,-12.5l-4.3,-1z"/><path class="t" d="M641.6,324l4.3,1l39.8,-12.5l-4.3,-1z"/><path class="t" d="M645.9,321.4l4.3,1l39.8,-12.5l-4.3,-1z"/><path class="t" d="M650.2,318.7l4.3,1l39.8,-12.5l-4.3,-1z"/><path class="t" d="M654.5,315.2l4.3,1l39.8,-12.5l-4.3,-1z"/><path class="t" d="M658.8,311.6l4.3,1l39.8,-12.5l-4.3,-1z"/><path class="t" d="M663.1,308.1l4.3,1l39.8,-12.5l-4.3,-1z"/><path class="t" d="M667.4,304.5l4.3,1l39.8,-12.5l-4.3,-1z"/><path class="t" d="M671.7,301l4.3,1l39.8,-12.5l-4.3,-1z"/><path class="t" d="M675.9,297.5l4.3,1l39.8,-12.5l-4.3,-1z"/><path class="t" d="M680.2,293.9l4.3,1l39.8,-12.5l-4.3,-1z"/><path class="t" d="M684.5,290.4l4.3,1l39.8,-12.5l-4.3,-1z"/><path class="t" d="M688.8,289.8l4.3,1l39.8,-12.5l-4.3,-1z"/><path class="t" d="M693.1,289.3l4.3,1l39.8,-12.5l-4.3,-1z"/><path class="t" d="M697.4,288.7l4.3,1l39.8,-12.5l-4.3,-1z"/><path class="t" d="M701.7,288.2l4.3,1l39.8,-12.5l-4.3,-1z"/><path class="t" d="M706,287.6l4.3,1l39.8,-12.5l-4.3,-1z"/><path d="M714.5,290.3l39.8,-12.5v-2.2l-39.8,12.5z"/><path class="t" d="M710.2,287.1l4.3,1l39.8,-12.5l-4.3,-1z"/><path d="M718.8,293.5l39.8,-12.5v-2.2l-39.8,12.5z"/><path class="t" d="M714.5,290.3l4.3,1l39.8,-12.5l-4.3,-1z"/><path d="M723.1,296.7l39.8,-12.5v-2.2l-39.8,12.5z"/><path class="t" d="M718.8,293.5l4.3,1l39.8,-12.5l-4.3,-1z"/><path d="M727.4,299.9l39.8,-12.5v-2.2l-39.8,12.5z"/><path class="t" d="M723.1,296.7l4.3,1l39.8,-12.5l-4.3,-1z"/><path d="M731.7,306.7l39.8,-12.5v-5.8l-39.8,12.5z"/><path class="t" d="M727.4,299.9l4.3,1l39.8,-12.5l-4.3,-1z"/><path d="M736,313.5l39.8,-12.5v-5.8l-39.8,12.5z"/><path class="t" d="M731.7,306.7l4.3,1l39.8,-12.5l-4.3,-1z"/><path d="M740.3,320.3l39.8,-12.5v-5.8l-39.8,12.5z"/><path class="t" d="M736,313.5l4.3,1l39.8,-12.5l-4.3,-1z"/><path d="M744.5,327.1l39.8,-12.5v-5.8l-39.8,12.5z"/><path class="t" d="M740.3,320.3l4.3,1l39.8,-12.5l-4.3,-1z"/><path d="M748.8,332.9l39.8,-12.5v-4.8l-39.8,12.5z"/><path class="t" d="M744.5,327.1l4.3,1l39.8,-12.5l-4.3,-1z"/><path d="M753.1,338.6l39.8,-12.5v-4.8l-39.8,12.5z"/><path class="t" d="M748.8,332.9l4.3,1l39.8,-12.5l-4.3,-1z"/><path d="M757.4,344.4l39.8,-12.5v-4.8l-39.8,12.5z"/><path class="t" d="M753.1,338.6l4.3,1l39.8,-12.5l-4.3,-1z"/><path d="M761.7,350.1l39.8,-12.5v-4.8l-39.8,12.5z"/><path class="t" d="M757.4,344.4l4.3,1l39.8,-12.5l-4.3,-1z"/><path d="M766,355.9l39.8,-12.5v-4.8l-39.8,12.5z"/><path class="t" d="M761.7,350.1l4.3,1l39.8,-12.5l-4.3,-1z"/><path d="M770.3,361.7l39.8,-12.5v-4.8l-39.8,12.5z"/><path class="t" d="M766,355.9l4.3,1l39.8,-12.5l-4.3,-1z"/><path d="M774.5,366.2l39.8,-12.5v-3.6l-39.8,12.5z"/><path class="t" d="M770.3,361.7l4.3,1l39.8,-12.5l-4.3,-1z"/><path d="M778.8,370.8l39.8,-12.5v-3.6l-39.8,12.5z"/><path class="t" d="M774.5,366.2l4.3,1l39.8,-12.5l-4.3,-1z"/><path d="M783.1,375.3l39.8,-12.5v-3.6l-39.8,12.5z"/><path class="t" d="M778.8,370.8l4.3,1l39.8,-12.5l-4.3,-1z"/><path d="M787.4,379.9l39.8,-12.5v-3.6l-39.8,12.5z"/><path class="t" d="M783.1,375.3l4.3,1l39.8,-12.5l-4.3,-1z"/><path d="M791.7,384.4l39.8,-12.5v-3.6l-39.8,12.5z"/><path class="t" d="M787.4,379.9l4.3,1l39.8,-12.5l-4.3,-1z"/><path d="M796,389l39.8,-12.5v-3.6l-39.8,12.5z"/><path class="t" d="M791.7,384.4l4.3,1l39.8,-12.5l-4.3,-1z"/><path d="M800.3,392.5l39.8,-12.5v-2.6l-39.8,12.5z"/><path class="t" d="M796,389l4.3,1l39.8,-12.5l-4.3,-1z"/><path d="M804.6,396.1l39.8,-12.5v-2.6l-39.8,12.5z"/><path class="t" d="M800.3,392.5l4.3,1l39.8,-12.5l-4.3,-1z"/><path d="M808.8,399.6l39.8,-12.5v-2.6l-39.8,12.5z"/><path class="t" d="M804.6,396.1l4.3,1l39.8,-12.5l-4.3,-1z"/><path d="M813.1,403.2l39.8,-12.5v-2.6l-39.8,12.5z"/><path class="t" d="M808.8,399.6l4.3,1l39.8,-12.5l-4.3,-1z"/><path d="M817.4,406.8l39.8,-12.5v-2.6l-39.8,12.5z"/><path class="t" d="M813.1,403.2l4.3,1l39.8,-12.5l-4.3,-1z"/><path d="M821.7,410.3l39.8,-12.5v-2.6l-39.8,12.5z"/><path class="t" d="M817.4,406.8l4.3,1l39.8,-12.5l-4.3,-1z"/><path d="M826,413.9l39.8,-12.5v-2.6l-39.8,12.5z"/><path class="t" d="M821.7,410.3l4.3,1l39.8,-12.5l-4.3,-1z"/><path d="M830.3,417.4l39.8,-12.5v-2.6l-39.8,12.5z"/><path class="t" d="M826,413.9l4.3,1l39.8,-12.5l-4.3,-1z"/><path d="M834.6,421l39.8,-12.5v-2.6l-39.8,12.5z"/><path class="t" d="M830.3,417.4l4.3,1l39.8,-12.5l-4.3,-1z"/><path d="M838.9,477.7l39.8,-12.5v-55.8l-39.8,12.5z"/><path class="t" d="M834.6,421l4.3,1l39.8,-12.5l-4.3,-1z"/></g>
<g fill="#8f8f66" stroke="#6b6b4c" stroke-width="0.6" stroke-linejoin="round"><path class="t" d="M224.6,348l4.3,1l39.8,-12.5l-4.3,-1z"/><path class="t" d="M228.9,348.9l4.3,1l39.8,-12.5l-4.3,-1z"/><path class="t" d="M233.2,349.9l4.3,1l39.8,-12.5l-4.3,-1z"/><path class="t" d="M237.5,350.8l4.3,1l39.8,-12.5l-4.3,-1z"/><path class="t" d="M241.7,351.8l4.3,1l39.8,-12.5l-4.3,-1z"/><path class="t" d="M246,352.7l4.3,1l39.8,-12.5l-4.3,-1z"/><path class="t" d="M250.3,353.7l4.3,1l39.8,-12.5l-4.3,-1z"/><path class="t" d="M254.6,354.6l4.3,1l39.8,-12.5l-4.3,-1z"/><path class="t" d="M258.9,355.6l4.3,1l39.8,-12.5l-4.3,-1z"/><path class="t" d="M263.2,356.5l4.3,1l39.8,-12.5l-4.3,-1z"/><path class="t" d="M267.5,357.5l4.3,1l39.8,-12.5l-4.3,-1z"/><path class="t" d="M271.8,358.4l4.3,1l39.8,-12.5l-4.3,-1z"/><path class="t" d="M276,359.4l4.3,1l39.8,-12.5l-4.3,-1z"/><path class="t" d="M280.3,360.4l4.3,1l39.8,-12.5l-4.3,-1z"/><path class="t" d="M284.6,361.3l4.3,1l39.8,-12.5l-4.3,-1z"/><path class="t" d="M288.9,362.3l4.3,1l39.8,-12.5l-4.3,-1z"/><path class="t" d="M293.2,363.2l4.3,1l39.8,-12.5l-4.3,-1z"/><path class="t" d="M297.5,364.2l4.3,1l39.8,-12.5l-4.3,-1z"/><path class="t" d="M301.8,365.1l4.3,1l39.8,-12.5l-4.3,-1z"/><path class="t" d="M306.1,366.1l4.3,1l39.8,-12.5l-4.3,-1z"/><path class="t" d="M310.3,367l4.3,1l39.8,-12.5l-4.3,-1z"/><path class="t" d="M314.6,367.3l4.3,1l39.8,-12.5l-4.3,-1z"/><path class="t" d="M318.9,367.5l4.3,1l39.8,-12.5l-4.3,-1z"/><path class="t" d="M323.2,367.7l4.3,1l39.8,-12.5l-4.3,-1z"/><path class="t" d="M327.5,368l4.3,1l39.8,-12.5l-4.3,-1z"/><path class="t" d="M331.8,368.2l4.3,1l39.8,-12.5l-4.3,-1z"/><path class="t" d="M336.1,368.4l4.3,1l39.8,-12.5l-4.3,-1z"/><path class="t" d="M340.4,368.7l4.3,1l39.8,-12.5l-4.3,-1z"/><path class="t" d="M344.6,368.9l4.3,1l39.8,-12.5l-4.3,-1z"/><path class="t" d="M348.9,369.2l4.3,1l39.8,-12.5l-4.3,-1z"/><path class="t" d="M353.2,369.4l4.3,1l39.8,-12.5l-4.3,-1z"/><path class="t" d="M357.5,368.9l4.3,1l39.8,-12.5l-4.3,-1z"/><path class="t" d="M361.8,368.4l4.3,1l39.8,-12.5l-4.3,-1z"/><path class="t" d="M366.1,367.9l4.3,1l39.8,-12.5l-4.3,-1z"/><path class="t" d="M370.4,367.4l4.3,1l39.8,-12.5l-4.3,-1z"/><path class="t" d="M374.7,367l4.3,1l39.8,-12.5l-4.3,-1z"/><path class="t" d="M378.9,366.5l4.3,1l39.8,-12.5l-4.3,-1z"/><path class="t" d="M383.2,366l4.3,1l39.8,-12.5l-4.3,-1z"/><path class="t" d="M387.5,365.5l4.3,1l39.8,-12.5l-4.3,-1z"/><path class="t" d="M391.8,365l4.3,1l39.8,-12.5l-4.3,-1z"/><path class="t" d="M396.1,364.5l4.3,1l39.8,-12.5l-4.3,-1z"/><path class="t" d="M400.4,364.6l4.3,1l39.8,-12.5l-4.3,-1z"/><path class="t" d="M404.7,364.6l4.3,1l39.8,-12.5l-4.3,-1z"/><path class="t" d="M409,364.7l4.3,1l39.8,-12.5l-4.3,-1z"/><path class="t" d="M413.2,364.7l4.3,1l39.8,-12.5l-4.3,-1z"/><path class="t" d="M417.5,364.8l4.3,1l39.8,-12.5l-4.3,-1z"/><path class="t" d="M421.8,364.9l4.3,1l39.8,-12.5l-4.3,-1z"/><path class="t" d="M426.1,364.9l4.3,1l39.8,-12.5l-4.3,-1z"/><path class="t" d="M430.4,365l4.3,1l39.8,-12.5l-4.3,-1z"/><path class="t" d="M434.7,365l4.3,1l39.8,-12.5l-4.3,-1z"/><path class="t" d="M439,365.1l4.3,1l39.8,-12.5l-4.3,-1z"/><path class="t" d="M443.3,365.8l4.3,1l39.8,-12.5l-4.3,-1z"/><path class="t" d="M447.5,366.6l4.3,1l39.8,-12.5l-4.3,-1z"/><path class="t" d="M451.8,367.4l4.3,1l39.8,-12.5l-4.3,-1z"/><path class="t" d="M456.1,368.2l4.3,1l39.8,-12.5l-4.3,-1z"/><path class="t" d="M460.4,368.9l4.3,1l39.8,-12.5l-4.3,-1z"/><path class="t" d="M464.7,369.7l4.3,1l39.8,-12.5l-4.3,-1z"/><path class="t" d="M469,370.5l4.3,1l39.8,-12.5l-4.3,-1z"/><path class="t" d="M473.3,371.3l4.3,1l39.8,-12.5l-4.3,-1z"/><path class="t" d="M477.6,372l4.3,1l39.8,-12.5l-4.3,-1z"/><path class="t" d="M481.8,372.8l4.3,1l39.8,-12.5l-4.3,-1z"/><path class="t" d="M486.1,372.3l4.3,1l39.8,-12.5l-4.3,-1z"/><path class="t" d="M490.4,371.8l4.3,1l39.8,-12.5l-4.3,-1z"/><path class="t" d="M494.7,371.4l4.3,1l39.8,-12.5l-4.3,-1z"/><path class="t" d="M499,370.9l4.3,1l39.8,-12.5l-4.3,-1z"/><path class="t" d="M503.3,370.4l4.3,1l39.8,-12.5l-4.3,-1z"/><path class="t" d="M507.6,369.9l4.3,1l39.8,-12.5l-4.3,-1z"/><path class="t" d="M511.8,369.4l4.3,1l39.8,-12.5l-4.3,-1z"/><path class="t" d="M516.1,368.9l4.3,1l39.8,-12.5l-4.3,-1z"/><path class="t" d="M520.4,368.5l4.3,1l39.8,-12.5l-4.3,-1z"/><path class="t" d="M524.7,368l4.3,1l39.8,-12.5l-4.3,-1z"/><path class="t" d="M529,364.2l4.3,1l39.8,-12.5l-4.3,-1z"/><path class="t" d="M533.3,360.5l4.3,1l39.8,-12.5l-4.3,-1z"/><path class="t" d="M537.6,356.8l4.3,1l39.8,-12.5l-4.3,-1z"/><path class="t" d="M541.9,353.1l4.3,1l39.8,-12.5l-4.3,-1z"/><path class="t" d="M546.1,349.3l4.3,1l39.8,-12.5l-4.3,-1z"/><path class="t" d="M550.4,345.6l4.3,1l39.8,-12.5l-4.3,-1z"/><path class="t" d="M554.7,341.9l4.3,1l39.8,-12.5l-4.3,-1z"/><path class="t" d="M559,338.2l4.3,1l39.8,-12.5l-4.3,-1z"/><path class="t" d="M563.3,334.4l4.3,1l39.8,-12.5l-4.3,-1z"/><path class="t" d="M567.6,330.7l4.3,1l39.8,-12.5l-4.3,-1z"/><path class="t" d="M571.9,327.2l4.3,1l39.8,-12.5l-4.3,-1z"/><path class="t" d="M576.2,323.6l4.3,1l39.8,-12.5l-4.3,-1z"/><path class="t" d="M580.4,320.1l4.3,1l39.8,-12.5l-4.3,-1z"/><path class="t" d="M584.7,316.5l4.3,1l39.8,-12.5l-4.3,-1z"/><path class="t" d="M589,313l4.3,1l39.8,-12.5l-4.3,-1z"/><path class="t" d="M593.3,309.4l4.3,1l39.8,-12.5l-4.3,-1z"/><path class="t" d="M597.6,305.9l4.3,1l39.8,-12.5l-4.3,-1z"/><path class="t" d="M601.9,302.3l4.3,1l39.8,-12.5l-4.3,-1z"/><path class="t" d="M606.2,298.8l4.3,1l39.8,-12.5l-4.3,-1z"/><path class="t" d="M610.5,295.3l4.3,1l39.8,-12.5l-4.3,-1z"/><path class="t" d="M614.7,290.6l4.3,1l39.8,-12.5l-4.3,-1z"/><path class="t" d="M619,285.9l4.3,1l39.8,-12.5l-4.3,-1z"/><path class="t" d="M623.3,281.2l4.3,1l39.8,-12.5l-4.3,-1z"/><path class="t" d="M627.6,276.6l4.3,1l39.8,-12.5l-4.3,-1z"/><path class="t" d="M631.9,271.9l4.3,1l39.8,-12.5l-4.3,-1z"/><path class="t" d="M636.2,267.2l4.3,1l39.8,-12.5l-4.3,-1z"/><path class="t" d="M640.5,262.6l4.3,1l39.8,-12.5l-4.3,-1z"/><path class="t" d="M644.8,257.9l4.3,1l39.8,-12.5l-4.3,-1z"/><path class="t" d="M649,255.9l4.3,1l39.8,-12.5l-4.3,-1z"/><path class="t" d="M653.3,253.9l4.3,1l39.8,-12.5l-4.3,-1z"/><path class="t" d="M657.6,251.9l4.3,1l39.8,-12.5l-4.3,-1z"/><path class="t" d="M661.9,249.9l4.3,1l39.8,-12.5l-4.3,-1z"/><path class="t" d="M666.2,248l4.3,1l39.8,-12.5l-4.3,-1z"/><path d="M674.8,249.1l39.8,-12.5v-2.2l-39.8,12.5z"/><path class="t" d="M670.5,246l4.3,1l39.8,-12.5l-4.3,-1z"/><path d="M679.1,252.2l39.8,-12.5v-2.2l-39.8,12.5z"/><path class="t" d="M674.8,249.1l4.3,1l39.8,-12.5l-4.3,-1z"/><path d="M683.3,255.3l39.8,-12.5v-2.2l-39.8,12.5z"/><path class="t" d="M679.1,252.2l4.3,1l39.8,-12.5l-4.3,-1z"/><path d="M687.6,258.4l39.8,-12.5v-2.2l-39.8,12.5z"/><path class="t" d="M683.3,255.3l4.3,1l39.8,-12.5l-4.3,-1z"/><path d="M691.9,266.1l39.8,-12.5v-6.8l-39.8,12.5z"/><path class="t" d="M687.6,258.4l4.3,1l39.8,-12.5l-4.3,-1z"/><path d="M696.2,273.8l39.8,-12.5v-6.8l-39.8,12.5z"/><path class="t" d="M691.9,266.1l4.3,1l39.8,-12.5l-4.3,-1z"/><path d="M700.5,281.5l39.8,-12.5v-6.8l-39.8,12.5z"/><path class="t" d="M696.2,273.8l4.3,1l39.8,-12.5l-4.3,-1z"/><path d="M704.8,289.3l39.8,-12.5v-6.8l-39.8,12.5z"/><path class="t" d="M700.5,281.5l4.3,1l39.8,-12.5l-4.3,-1z"/><path d="M709.1,296.2l39.8,-12.5v-6l-39.8,12.5z"/><path class="t" d="M704.8,289.3l4.3,1l39.8,-12.5l-4.3,-1z"/><path d="M713.4,303.2l39.8,-12.5v-6l-39.8,12.5z"/><path class="t" d="M709.1,296.2l4.3,1l39.8,-12.5l-4.3,-1z"/><path d="M717.6,310.1l39.8,-12.5v-6l-39.8,12.5z"/><path class="t" d="M713.4,303.2l4.3,1l39.8,-12.5l-4.3,-1z"/><path d="M721.9,317.1l39.8,-12.5v-6l-39.8,12.5z"/><path class="t" d="M717.6,310.1l4.3,1l39.8,-12.5l-4.3,-1z"/><path d="M726.2,324l39.8,-12.5v-6l-39.8,12.5z"/><path class="t" d="M721.9,317.1l4.3,1l39.8,-12.5l-4.3,-1z"/><path d="M730.5,331l39.8,-12.5v-6l-39.8,12.5z"/><path class="t" d="M726.2,324l4.3,1l39.8,-12.5l-4.3,-1z"/><path d="M734.8,337.3l39.8,-12.5v-5.4l-39.8,12.5z"/><path class="t" d="M730.5,331l4.3,1l39.8,-12.5l-4.3,-1z"/><path d="M739.1,343.7l39.8,-12.5v-5.4l-39.8,12.5z"/><path class="t" d="M734.8,337.3l4.3,1l39.8,-12.5l-4.3,-1z"/><path d="M743.4,350l39.8,-12.5v-5.4l-39.8,12.5z"/><path class="t" d="M739.1,343.7l4.3,1l39.8,-12.5l-4.3,-1z"/><path d="M747.7,356.4l39.8,-12.5v-5.4l-39.8,12.5z"/><path class="t" d="M743.4,350l4.3,1l39.8,-12.5l-4.3,-1z"/><path d="M751.9,362.8l39.8,-12.5v-5.4l-39.8,12.5z"/><path class="t" d="M747.7,356.4l4.3,1l39.8,-12.5l-4.3,-1z"/><path d="M756.2,369.1l39.8,-12.5v-5.4l-39.8,12.5z"/><path class="t" d="M751.9,362.8l4.3,1l39.8,-12.5l-4.3,-1z"/><path d="M760.5,373.8l39.8,-12.5v-3.8l-39.8,12.5z"/><path class="t" d="M756.2,369.1l4.3,1l39.8,-12.5l-4.3,-1z"/><path d="M764.8,378.5l39.8,-12.5v-3.8l-39.8,12.5z"/><path class="t" d="M760.5,373.8l4.3,1l39.8,-12.5l-4.3,-1z"/><path d="M769.1,383.3l39.8,-12.5v-3.8l-39.8,12.5z"/><path class="t" d="M764.8,378.5l4.3,1l39.8,-12.5l-4.3,-1z"/><path d="M773.4,388l39.8,-12.5v-3.8l-39.8,12.5z"/><path class="t" d="M769.1,383.3l4.3,1l39.8,-12.5l-4.3,-1z"/><path d="M777.7,392.7l39.8,-12.5v-3.8l-39.8,12.5z"/><path class="t" d="M773.4,388l4.3,1l39.8,-12.5l-4.3,-1z"/><path d="M781.9,397.4l39.8,-12.5v-3.8l-39.8,12.5z"/><path class="t" d="M777.7,392.7l4.3,1l39.8,-12.5l-4.3,-1z"/><path d="M786.2,402.1l39.8,-12.5v-3.8l-39.8,12.5z"/><path class="t" d="M781.9,397.4l4.3,1l39.8,-12.5l-4.3,-1z"/><path d="M790.5,406.8l39.8,-12.5v-3.8l-39.8,12.5z"/><path class="t" d="M786.2,402.1l4.3,1l39.8,-12.5l-4.3,-1z"/><path d="M794.8,411.5l39.8,-12.5v-3.8l-39.8,12.5z"/><path class="t" d="M790.5,406.8l4.3,1l39.8,-12.5l-4.3,-1z"/><path d="M799.1,490.3l39.8,-12.5v-77.8l-39.8,12.5z"/><path class="t" d="M794.8,411.5l4.3,1l39.8,-12.5l-4.3,-1z"/></g>
<g fill="#a89e52" stroke="#7e763e" stroke-width="0.6" stroke-linejoin="round"><path class="t" d="M184.8,358.7l4.3,1l39.8,-12.5l-4.3,-1z"/><path class="t" d="M189.1,359.5l4.3,1l39.8,-12.5l-4.3,-1z"/><path class="t" d="M193.4,360.4l4.3,1l39.8,-12.5l-4.3,-1z"/><path class="t" d="M197.7,361.3l4.3,1l39.8,-12.5l-4.3,-1z"/><path class="t" d="M202,362.1l4.3,1l39.8,-12.5l-4.3,-1z"/><path class="t" d="M206.3,363l4.3,1l39.8,-12.5l-4.3,-1z"/><path class="t" d="M210.6,363.9l4.3,1l39.8,-12.5l-4.3,-1z"/><path class="t" d="M214.9,364.7l4.3,1l39.8,-12.5l-4.3,-1z"/><path class="t" d="M219.1,365.6l4.3,1l39.8,-12.5l-4.3,-1z"/><path class="t" d="M223.4,366.5l4.3,1l39.8,-12.5l-4.3,-1z"/><path class="t" d="M227.7,367.3l4.3,1l39.8,-12.5l-4.3,-1z"/><path class="t" d="M232,368.2l4.3,1l39.8,-12.5l-4.3,-1z"/><path class="t" d="M236.3,369.1l4.3,1l39.8,-12.5l-4.3,-1z"/><path class="t" d="M240.6,369.9l4.3,1l39.8,-12.5l-4.3,-1z"/><path class="t" d="M244.9,370.8l4.3,1l39.8,-12.5l-4.3,-1z"/><path class="t" d="M249.1,371.6l4.3,1l39.8,-12.5l-4.3,-1z"/><path class="t" d="M253.4,372.5l4.3,1l39.8,-12.5l-4.3,-1z"/><path class="t" d="M257.7,373.4l4.3,1l39.8,-12.5l-4.3,-1z"/><path class="t" d="M262,374.2l4.3,1l39.8,-12.5l-4.3,-1z"/><path class="t" d="M266.3,375.1l4.3,1l39.8,-12.5l-4.3,-1z"/><path class="t" d="M270.6,376l4.3,1l39.8,-12.5l-4.3,-1z"/><path class="t" d="M274.9,375.5l4.3,1l39.8,-12.5l-4.3,-1z"/><path class="t" d="M279.2,375l4.3,1l39.8,-12.5l-4.3,-1z"/><path class="t" d="M283.4,374.5l4.3,1l39.8,-12.5l-4.3,-1z"/><path class="t" d="M287.7,374l4.3,1l39.8,-12.5l-4.3,-1z"/><path class="t" d="M292,373.5l4.3,1l39.8,-12.5l-4.3,-1z"/><path class="t" d="M296.3,373.1l4.3,1l39.8,-12.5l-4.3,-1z"/><path class="t" d="M300.6,372.6l4.3,1l39.8,-12.5l-4.3,-1z"/><path class="t" d="M304.9,372.1l4.3,1l39.8,-12.5l-4.3,-1z"/><path class="t" d="M309.2,371.6l4.3,1l39.8,-12.5l-4.3,-1z"/><path class="t" d="M313.5,371.1l4.3,1l39.8,-12.5l-4.3,-1z"/><path class="t" d="M317.7,368.5l4.3,1l39.8,-12.5l-4.3,-1z"/><path class="t" d="M322,365.8l4.3,1l39.8,-12.5l-4.3,-1z"/><path class="t" d="M326.3,363.2l4.3,1l39.8,-12.5l-4.3,-1z"/><path class="t" d="M330.6,360.5l4.3,1l39.8,-12.5l-4.3,-1z"/><path class="t" d="M334.9,357.9l4.3,1l39.8,-12.5l-4.3,-1z"/><path class="t" d="M339.2,356.4l4.3,1l39.8,-12.5l-4.3,-1z"/><path class="t" d="M343.5,355l4.3,1l39.8,-12.5l-4.3,-1z"/><path class="t" d="M347.8,353.6l4.3,1l39.8,-12.5l-4.3,-1z"/><path class="t" d="M352,352.3l4.3,1l39.8,-12.5l-4.3,-1z"/><path class="t" d="M356.3,351l4.3,1l39.8,-12.5l-4.3,-1z"/><path class="t" d="M360.6,349.7l4.3,1l39.8,-12.5l-4.3,-1z"/><path d="M364.9,349.4l4.3,1v-1.1l-4.3,-1z"/><path class="t" d="M364.9,348.4l4.3,1l39.8,-12.5l-4.3,-1z"/><path d="M369.2,350l4.3,1v-7l-4.3,-1z"/><path class="t" d="M369.2,343l4.3,1l39.8,-12.5l-4.3,-1z"/><path d="M373.5,350.6l4.3,1v-13l-4.3,-1z"/><path class="t" d="M373.5,337.7l4.3,1l39.8,-12.5l-4.3,-1z"/><path d="M377.8,351.2l4.3,1v-16.2l-4.3,-1z"/><path class="t" d="M377.8,335l4.3,1l39.8,-12.5l-4.3,-1z"/><path d="M382.1,351.8l4.3,1v-19.4l-4.3,-1z"/><path class="t" d="M382.1,332.4l4.3,1l39.8,-12.5l-4.3,-1z"/><path d="M386.3,352.4l4.3,1v-19.5l-4.3,-1z"/><path class="t" d="M386.3,332.9l4.3,1l39.8,-12.5l-4.3,-1z"/><path d="M390.6,353l4.3,1v-19.6l-4.3,-1z"/><path class="t" d="M390.6,333.4l4.3,1l39.8,-12.5l-4.3,-1z"/><path d="M394.9,353.6l4.3,1v-19.7l-4.3,-1z"/><path class="t" d="M394.9,333.9l4.3,1l39.8,-12.5l-4.3,-1z"/><path d="M399.2,354.2l4.3,1v-19.8l-4.3,-1z"/><path d="M403.5,336.3l39.8,-12.5v-.9l-39.8,12.5z"/><path class="t" d="M399.2,334.4l4.3,1l39.8,-12.5l-4.3,-1z"/><path d="M403.5,355.2l4.3,1v-18.9l-4.3,-1z"/><path d="M407.8,338.1l39.8,-12.5v-.9l-39.8,12.5z"/><path class="t" d="M403.5,336.3l4.3,1l39.8,-12.5l-4.3,-1z"/><path d="M407.8,356.1l4.3,1v-18l-4.3,-1z"/><path d="M412.1,340l39.8,-12.5v-.9l-39.8,12.5z"/><path class="t" d="M407.8,338.1l4.3,1l39.8,-12.5l-4.3,-1z"/><path d="M412.1,357.1l4.3,1v-17.1l-4.3,-1z"/><path d="M416.4,341.8l39.8,-12.5v-.9l-39.8,12.5z"/><path class="t" d="M412.1,340l4.3,1l39.8,-12.5l-4.3,-1z"/><path d="M416.4,358l4.3,1v-16.2l-4.3,-1z"/><path d="M420.6,345.8l39.8,-12.5v-3l-39.8,12.5z"/><path class="t" d="M416.4,341.8l4.3,1l39.8,-12.5l-4.3,-1z"/><path d="M420.6,359l4.3,1v-13.2l-4.3,-1z"/><path d="M424.9,349.7l39.8,-12.5v-3l-39.8,12.5z"/><path class="t" d="M420.6,345.8l4.3,1l39.8,-12.5l-4.3,-1z"/><path d="M424.9,359.9l4.3,1v-10.2l-4.3,-1z"/><path d="M429.2,353.7l39.8,-12.5v-3l-39.8,12.5z"/><path class="t" d="M424.9,349.7l4.3,1l39.8,-12.5l-4.3,-1z"/><path d="M429.2,360.9l4.3,1v-7.2l-4.3,-1z"/><path d="M433.5,356.4l39.8,-12.5v-1.8l-39.8,12.5z"/><path class="t" d="M429.2,353.7l4.3,1l39.8,-12.5l-4.3,-1z"/><path d="M433.5,361.8l4.3,1v-5.4l-4.3,-1z"/><path d="M437.8,359.2l39.8,-12.5v-1.8l-39.8,12.5z"/><path class="t" d="M433.5,356.4l4.3,1l39.8,-12.5l-4.3,-1z"/><path d="M437.8,362.8l4.3,1v-3.6l-4.3,-1z"/><path d="M442.1,361.9l39.8,-12.5v-1.8l-39.8,12.5z"/><path class="t" d="M437.8,359.2l4.3,1l39.8,-12.5l-4.3,-1z"/><path d="M442.1,363.8l4.3,1v-1.8l-4.3,-1z"/><path class="t" d="M442.1,361.9l4.3,1l39.8,-12.5l-4.3,-1z"/><path d="M446.4,363.4l4.3,1v-1.3l-4.3,-1z"/><path class="t" d="M446.4,362.2l4.3,1l39.8,-12.5l-4.3,-1z"/><path d="M450.7,363.1l4.3,1v-.7l-4.3,-1z"/><path class="t" d="M450.7,362.4l4.3,1l39.8,-12.5l-4.3,-1z"/><path d="M454.9,362.8l4.3,1v-.2l-4.3,-1z"/><path class="t" d="M454.9,362.7l4.3,1l39.8,-12.5l-4.3,-1z"/><path class="t" d="M459.2,362.9l4.3,1l39.8,-12.5l-4.3,-1z"/><path class="t" d="M463.5,363.1l4.3,1l39.8,-12.5l-4.3,-1z"/><path class="t" d="M467.8,363.4l4.3,1l39.8,-12.5l-4.3,-1z"/><path class="t" d="M472.1,363.6l4.3,1l39.8,-12.5l-4.3,-1z"/><path class="t" d="M476.4,363.8l4.3,1l39.8,-12.5l-4.3,-1z"/><path class="t" d="M480.7,364.1l4.3,1l39.8,-12.5l-4.3,-1z"/><path class="t" d="M485,364.3l4.3,1l39.8,-12.5l-4.3,-1z"/><path class="t" d="M489.2,360.4l4.3,1l39.8,-12.5l-4.3,-1z"/><path class="t" d="M493.5,356.5l4.3,1l39.8,-12.5l-4.3,-1z"/><path class="t" d="M497.8,352.6l4.3,1l39.8,-12.5l-4.3,-1z"/><path class="t" d="M502.1,348.7l4.3,1l39.8,-12.5l-4.3,-1z"/><path class="t" d="M506.4,344.8l4.3,1l39.8,-12.5l-4.3,-1z"/><path class="t" d="M510.7,340.9l4.3,1l39.8,-12.5l-4.3,-1z"/><path class="t" d="M515,337l4.3,1l39.8,-12.5l-4.3,-1z"/><path class="t" d="M519.2,333.1l4.3,1l39.8,-12.5l-4.3,-1z"/><path class="t" d="M523.5,329.1l4.3,1l39.8,-12.5l-4.3,-1z"/><path class="t" d="M527.8,325.2l4.3,1l39.8,-12.5l-4.3,-1z"/><path class="t" d="M532.1,320.8l4.3,1l39.8,-12.5l-4.3,-1z"/><path class="t" d="M536.4,316.3l4.3,1l39.8,-12.5l-4.3,-1z"/><path class="t" d="M540.7,311.9l4.3,1l39.8,-12.5l-4.3,-1z"/><path class="t" d="M545,307.5l4.3,1l39.8,-12.5l-4.3,-1z"/><path class="t" d="M549.3,303l4.3,1l39.8,-12.5l-4.3,-1z"/><path class="t" d="M553.5,298.6l4.3,1l39.8,-12.5l-4.3,-1z"/><path class="t" d="M557.8,294.1l4.3,1l39.8,-12.5l-4.3,-1z"/><path class="t" d="M562.1,289.7l4.3,1l39.8,-12.5l-4.3,-1z"/><path class="t" d="M566.4,285.2l4.3,1l39.8,-12.5l-4.3,-1z"/><path class="t" d="M570.7,280.8l4.3,1l39.8,-12.5l-4.3,-1z"/><path d="M575,275.3l4.3,1v-1.3l-4.3,-1z"/><path class="t" d="M575,274l4.3,1l39.8,-12.5l-4.3,-1z"/><path d="M579.3,271.1l4.3,1v-3.9l-4.3,-1z"/><path class="t" d="M579.3,267.3l4.3,1l39.8,-12.5l-4.3,-1z"/><path d="M583.6,266.9l4.3,1v-6.4l-4.3,-1z"/><path class="t" d="M583.6,260.5l4.3,1l39.8,-12.5l-4.3,-1z"/><path d="M587.8,262.7l4.3,1v-9l-4.3,-1z"/><path class="t" d="M587.8,253.7l4.3,1l39.8,-12.5l-4.3,-1z"/><path d="M592.1,258.6l4.3,1v-11.6l-4.3,-1z"/><path class="t" d="M592.1,247l4.3,1l39.8,-12.5l-4.3,-1z"/><path d="M596.4,254.1l4.3,1v-13.9l-4.3,-1z"/><path class="t" d="M596.4,240.2l4.3,1l39.8,-12.5l-4.3,-1z"/><path d="M600.7,249.7l4.3,1v-16.2l-4.3,-1z"/><path class="t" d="M600.7,233.5l4.3,1l39.8,-12.5l-4.3,-1z"/><path d="M605,245.2l4.3,1v-30.2l-4.3,-1z"/><path d="M609.3,235.4l39.8,-12.5v-19.4l-39.8,12.5z"/><path class="t" d="M605,215l4.3,1l39.8,-12.5l-4.3,-1z"/><path d="M609.3,240.8l4.3,1v-5.4l-4.3,-1z"/><path class="t" d="M609.3,235.4l4.3,1l39.8,-12.5l-4.3,-1z"/><path d="M613.6,236.3l4.3,1v-1.8l-4.3,-1z"/><path class="t" d="M613.6,234.5l4.3,1l39.8,-12.5l-4.3,-1z"/><path d="M617.9,234.1l4.3,1v-.4l-4.3,-1z"/><path class="t" d="M617.9,233.7l4.3,1l39.8,-12.5l-4.3,-1z"/><path class="t" d="M622.1,232.8l4.3,1l39.8,-12.5l-4.3,-1z"/><path class="t" d="M626.4,232l4.3,1l39.8,-12.5l-4.3,-1z"/><path d="M630.7,227.5l4.3,1v-.9l-4.3,-1z"/><path class="t" d="M630.7,226.6l4.3,1l39.8,-12.5l-4.3,-1z"/><path d="M635,231.7l4.3,1v-6l-4.3,-1z"/><path class="t" d="M635,225.6l4.3,1l39.8,-12.5l-4.3,-1z"/><path d="M639.3,235.8l4.3,1v-14.2l-4.3,-1z"/><path class="t" d="M639.3,221.5l4.3,1l39.8,-12.5l-4.3,-1z"/><path d="M643.6,239.9l4.3,1v-23.1l-4.3,-1z"/><path d="M647.9,219.5l39.8,-12.5v-1.8l-39.8,12.5z"/><path class="t" d="M643.6,216.7l4.3,1l39.8,-12.5l-4.3,-1z"/><path d="M647.9,244l4.3,1v-24.5l-4.3,-1z"/><path d="M652.2,224.2l39.8,-12.5v-3.8l-39.8,12.5z"/><path class="t" d="M647.9,219.5l4.3,1l39.8,-12.5l-4.3,-1z"/><path d="M652.2,251.7l4.3,1v-27.4l-4.3,-1z"/><path d="M656.4,226.4l39.8,-12.5v-1.3l-39.8,12.5z"/><path class="t" d="M652.2,224.2l4.3,1l39.8,-12.5l-4.3,-1z"/><path d="M656.4,259.4l4.3,1v-32.9l-4.3,-1z"/><path d="M660.7,230.3l39.8,-12.5v-2.9l-39.8,12.5z"/><path class="t" d="M656.4,226.4l4.3,1l39.8,-12.5l-4.3,-1z"/><path d="M660.7,267.1l4.3,1v-36.8l-4.3,-1z"/><path d="M665,237.2l39.8,-12.5v-5.9l-39.8,12.5z"/><path class="t" d="M660.7,230.3l4.3,1l39.8,-12.5l-4.3,-1z"/><path d="M665,274.8l4.3,1v-37.6l-4.3,-1z"/><path d="M669.3,246.8l39.8,-12.5v-8.6l-39.8,12.5z"/><path class="t" d="M665,237.2l4.3,1l39.8,-12.5l-4.3,-1z"/><path d="M669.3,284.7l4.3,1v-38l-4.3,-1z"/><path d="M673.6,258.3l39.8,-12.5v-10.6l-39.8,12.5z"/><path class="t" d="M669.3,246.8l4.3,1l39.8,-12.5l-4.3,-1z"/><path d="M673.6,294.7l4.3,1v-36.4l-4.3,-1z"/><path d="M677.9,274l39.8,-12.5v-14.8l-39.8,12.5z"/><path class="t" d="M673.6,258.3l4.3,1l39.8,-12.5l-4.3,-1z"/><path d="M677.9,304.6l4.3,1v-30.6l-4.3,-1z"/><path d="M682.2,286.7l39.8,-12.5v-11.7l-39.8,12.5z"/><path class="t" d="M677.9,274l4.3,1l39.8,-12.5l-4.3,-1z"/><path d="M682.2,314.6l4.3,1v-27.9l-4.3,-1z"/><path d="M686.5,296.9l39.8,-12.5v-9.2l-39.8,12.5z"/><path class="t" d="M682.2,286.7l4.3,1l39.8,-12.5l-4.3,-1z"/><path d="M686.5,322.3l4.3,1v-25.4l-4.3,-1z"/><path d="M690.7,307.1l39.8,-12.5v-9.2l-39.8,12.5z"/><path class="t" d="M686.5,296.9l4.3,1l39.8,-12.5l-4.3,-1z"/><path d="M690.7,330l4.3,1v-22.9l-4.3,-1z"/><path d="M695,317.2l39.8,-12.5v-9.2l-39.8,12.5z"/><path class="t" d="M690.7,307.1l4.3,1l39.8,-12.5l-4.3,-1z"/><path d="M695,337.7l4.3,1v-20.5l-4.3,-1z"/><path d="M699.3,327.4l39.8,-12.5v-9.2l-39.8,12.5z"/><path class="t" d="M695,317.2l4.3,1l39.8,-12.5l-4.3,-1z"/><path d="M699.3,345.4l4.3,1v-18l-4.3,-1z"/><path d="M703.6,333.4l39.8,-12.5v-5l-39.8,12.5z"/><path class="t" d="M699.3,327.4l4.3,1l39.8,-12.5l-4.3,-1z"/><path d="M703.6,350.9l4.3,1v-17.5l-4.3,-1z"/><path d="M707.9,339.4l39.8,-12.5v-5l-39.8,12.5z"/><path class="t" d="M703.6,333.4l4.3,1l39.8,-12.5l-4.3,-1z"/><path d="M707.9,356.3l4.3,1v-16.9l-4.3,-1z"/><path d="M712.2,345.4l39.8,-12.5v-5l-39.8,12.5z"/><path class="t" d="M707.9,339.4l4.3,1l39.8,-12.5l-4.3,-1z"/><path d="M712.2,361.8l4.3,1v-16.4l-4.3,-1z"/><path d="M716.5,351.4l39.8,-12.5v-5l-39.8,12.5z"/><path class="t" d="M712.2,345.4l4.3,1l39.8,-12.5l-4.3,-1z"/><path d="M716.5,367.2l4.3,1v-15.8l-4.3,-1z"/><path d="M720.8,357.4l39.8,-12.5v-5l-39.8,12.5z"/><path class="t" d="M716.5,351.4l4.3,1l39.8,-12.5l-4.3,-1z"/><path d="M720.8,372.7l4.3,1v-15.3l-4.3,-1z"/><path d="M725,362.3l39.8,-12.5v-4l-39.8,12.5z"/><path class="t" d="M720.8,357.4l4.3,1l39.8,-12.5l-4.3,-1z"/><path d="M725,378.1l4.3,1v-15.8l-4.3,-1z"/><path d="M729.3,367.2l39.8,-12.5v-4l-39.8,12.5z"/><path class="t" d="M725,362.3l4.3,1l39.8,-12.5l-4.3,-1z"/><path d="M729.3,382.6l4.3,1v-15.4l-4.3,-1z"/><path d="M733.6,372.1l39.8,-12.5v-4l-39.8,12.5z"/><path class="t" d="M729.3,367.2l4.3,1l39.8,-12.5l-4.3,-1z"/><path d="M733.6,387.1l4.3,1v-15l-4.3,-1z"/><path d="M737.9,377.1l39.8,-12.5v-4l-39.8,12.5z"/><path class="t" d="M733.6,372.1l4.3,1l39.8,-12.5l-4.3,-1z"/><path d="M737.9,391.6l4.3,1v-14.5l-4.3,-1z"/><path d="M742.2,382l39.8,-12.5v-4l-39.8,12.5z"/><path class="t" d="M737.9,377.1l4.3,1l39.8,-12.5l-4.3,-1z"/><path d="M742.2,396.1l4.3,1v-14.1l-4.3,-1z"/><path d="M746.5,386.9l39.8,-12.5v-4l-39.8,12.5z"/><path class="t" d="M742.2,382l4.3,1l39.8,-12.5l-4.3,-1z"/><path d="M746.5,400.5l4.3,1v-13.7l-4.3,-1z"/><path d="M750.8,391.8l39.8,-12.5v-4l-39.8,12.5z"/><path class="t" d="M746.5,386.9l4.3,1l39.8,-12.5l-4.3,-1z"/><path d="M750.8,405l4.3,1v-13.2l-4.3,-1z"/><path d="M755.1,396.7l39.8,-12.5v-4l-39.8,12.5z"/><path class="t" d="M750.8,391.8l4.3,1l39.8,-12.5l-4.3,-1z"/><path d="M755.1,409.5l4.3,1v-12.8l-4.3,-1z"/><path d="M759.3,502.8l39.8,-12.5v-105.1l-39.8,12.5z"/><path class="t" d="M755.1,396.7l4.3,1l39.8,-12.5l-4.3,-1z"/></g>
<g fill="#bfae42" stroke="#8f8232" stroke-width="0.6" stroke-linejoin="round"><path class="t" d="M145.1,369.4l4.3,1l39.8,-12.5l-4.3,-1z"/><path class="t" d="M149.4,370.3l4.3,1l39.8,-12.5l-4.3,-1z"/><path class="t" d="M153.7,371.1l4.3,1l39.8,-12.5l-4.3,-1z"/><path class="t" d="M157.9,372l4.3,1l39.8,-12.5l-4.3,-1z"/><path class="t" d="M162.2,372.9l4.3,1l39.8,-12.5l-4.3,-1z"/><path class="t" d="M166.5,373.7l4.3,1l39.8,-12.5l-4.3,-1z"/><path class="t" d="M170.8,374.6l4.3,1l39.8,-12.5l-4.3,-1z"/><path class="t" d="M175.1,375.5l4.3,1l39.8,-12.5l-4.3,-1z"/><path class="t" d="M179.4,376.3l4.3,1l39.8,-12.5l-4.3,-1z"/><path class="t" d="M183.7,377.2l4.3,1l39.8,-12.5l-4.3,-1z"/><path class="t" d="M188,378.1l4.3,1l39.8,-12.5l-4.3,-1z"/><path class="t" d="M192.2,378.9l4.3,1l39.8,-12.5l-4.3,-1z"/><path class="t" d="M196.5,379.8l4.3,1l39.8,-12.5l-4.3,-1z"/><path class="t" d="M200.8,380.6l4.3,1l39.8,-12.5l-4.3,-1z"/><path class="t" d="M205.1,381.5l4.3,1l39.8,-12.5l-4.3,-1z"/><path class="t" d="M209.4,382.4l4.3,1l39.8,-12.5l-4.3,-1z"/><path class="t" d="M213.7,383.2l4.3,1l39.8,-12.5l-4.3,-1z"/><path class="t" d="M218,384.1l4.3,1l39.8,-12.5l-4.3,-1z"/><path class="t" d="M222.3,385l4.3,1l39.8,-12.5l-4.3,-1z"/><path class="t" d="M226.5,385.8l4.3,1l39.8,-12.5l-4.3,-1z"/><path class="t" d="M230.8,386.7l4.3,1l39.8,-12.5l-4.3,-1z"/><path class="t" d="M235.1,386.1l4.3,1l39.8,-12.5l-4.3,-1z"/><path class="t" d="M239.4,385.5l4.3,1l39.8,-12.5l-4.3,-1z"/><path class="t" d="M243.7,384.9l4.3,1l39.8,-12.5l-4.3,-1z"/><path class="t" d="M248,384.3l4.3,1l39.8,-12.5l-4.3,-1z"/><path class="t" d="M252.3,383.8l4.3,1l39.8,-12.5l-4.3,-1z"/><path class="t" d="M256.5,383.2l4.3,1l39.8,-12.5l-4.3,-1z"/><path class="t" d="M260.8,382.6l4.3,1l39.8,-12.5l-4.3,-1z"/><path class="t" d="M265.1,381.1l4.3,1l39.8,-12.5l-4.3,-1z"/><path class="t" d="M269.4,379.7l4.3,1l39.8,-12.5l-4.3,-1z"/><path class="t" d="M273.7,378.2l4.3,1l39.8,-12.5l-4.3,-1z"/><path class="t" d="M278,375.6l4.3,1l39.8,-12.5l-4.3,-1z"/><path class="t" d="M282.3,373l4.3,1l39.8,-12.5l-4.3,-1z"/><path class="t" d="M286.6,370.3l4.3,1l39.8,-12.5l-4.3,-1z"/><path class="t" d="M290.8,367.7l4.3,1l39.8,-12.5l-4.3,-1z"/><path class="t" d="M295.1,365.6l4.3,1l39.8,-12.5l-4.3,-1z"/><path class="t" d="M299.4,363.6l4.3,1l39.8,-12.5l-4.3,-1z"/><path class="t" d="M303.7,361.5l4.3,1l39.8,-12.5l-4.3,-1z"/><path class="t" d="M308,361.3l4.3,1l39.8,-12.5l-4.3,-1z"/><path class="t" d="M312.3,361l4.3,1l39.8,-12.5l-4.3,-1z"/><path class="t" d="M316.6,360.8l4.3,1l39.8,-12.5l-4.3,-1z"/><path class="t" d="M320.9,361.4l4.3,1l39.8,-12.5l-4.3,-1z"/><path class="t" d="M325.1,362l4.3,1l39.8,-12.5l-4.3,-1z"/><path class="t" d="M329.4,362.6l4.3,1l39.8,-12.5l-4.3,-1z"/><path class="t" d="M333.7,363.2l4.3,1l39.8,-12.5l-4.3,-1z"/><path class="t" d="M338,363.8l4.3,1l39.8,-12.5l-4.3,-1z"/><path class="t" d="M342.3,364.4l4.3,1l39.8,-12.5l-4.3,-1z"/><path class="t" d="M346.6,365l4.3,1l39.8,-12.5l-4.3,-1z"/><path class="t" d="M350.9,365.5l4.3,1l39.8,-12.5l-4.3,-1z"/><path class="t" d="M355.2,366.1l4.3,1l39.8,-12.5l-4.3,-1z"/><path class="t" d="M359.4,366.7l4.3,1l39.8,-12.5l-4.3,-1z"/><path class="t" d="M363.7,367.7l4.3,1l39.8,-12.5l-4.3,-1z"/><path class="t" d="M368,368.6l4.3,1l39.8,-12.5l-4.3,-1z"/><path class="t" d="M372.3,369.6l4.3,1l39.8,-12.5l-4.3,-1z"/><path class="t" d="M376.6,370.6l4.3,1l39.8,-12.5l-4.3,-1z"/><path class="t" d="M380.9,371.5l4.3,1l39.8,-12.5l-4.3,-1z"/><path class="t" d="M385.2,372.5l4.3,1l39.8,-12.5l-4.3,-1z"/><path class="t" d="M389.5,373.4l4.3,1l39.8,-12.5l-4.3,-1z"/><path class="t" d="M393.7,374.4l4.3,1l39.8,-12.5l-4.3,-1z"/><path class="t" d="M398,375.3l4.3,1l39.8,-12.5l-4.3,-1z"/><path class="t" d="M402.3,376.3l4.3,1l39.8,-12.5l-4.3,-1z"/><path class="t" d="M406.6,376l4.3,1l39.8,-12.5l-4.3,-1z"/><path class="t" d="M410.9,375.7l4.3,1l39.8,-12.5l-4.3,-1z"/><path class="t" d="M415.2,375.4l4.3,1l39.8,-12.5l-4.3,-1z"/><path class="t" d="M419.5,375.1l4.3,1l39.8,-12.5l-4.3,-1z"/><path class="t" d="M423.8,374.8l4.3,1l39.8,-12.5l-4.3,-1z"/><path class="t" d="M428,374.4l4.3,1l39.8,-12.5l-4.3,-1z"/><path class="t" d="M432.3,374.1l4.3,1l39.8,-12.5l-4.3,-1z"/><path class="t" d="M436.6,373.8l4.3,1l39.8,-12.5l-4.3,-1z"/><path class="t" d="M440.9,373.5l4.3,1l39.8,-12.5l-4.3,-1z"/><path class="t" d="M445.2,373.2l4.3,1l39.8,-12.5l-4.3,-1z"/><path class="t" d="M449.5,368.8l4.3,1l39.8,-12.5l-4.3,-1z"/><path class="t" d="M453.8,364.3l4.3,1l39.8,-12.5l-4.3,-1z"/><path class="t" d="M458.1,359.9l4.3,1l39.8,-12.5l-4.3,-1z"/><path class="t" d="M462.3,355.4l4.3,1l39.8,-12.5l-4.3,-1z"/><path class="t" d="M466.6,351l4.3,1l39.8,-12.5l-4.3,-1z"/><path class="t" d="M470.9,346.6l4.3,1l39.8,-12.5l-4.3,-1z"/><path class="t" d="M475.2,342.1l4.3,1l39.8,-12.5l-4.3,-1z"/><path class="t" d="M479.5,337.7l4.3,1l39.8,-12.5l-4.3,-1z"/><path class="t" d="M483.8,333.2l4.3,1l39.8,-12.5l-4.3,-1z"/><path class="t" d="M488.1,328.8l4.3,1l39.8,-12.5l-4.3,-1z"/><path class="t" d="M492.4,325.2l4.3,1l39.8,-12.5l-4.3,-1z"/><path class="t" d="M496.6,321.7l4.3,1l39.8,-12.5l-4.3,-1z"/><path class="t" d="M500.9,318.1l4.3,1l39.8,-12.5l-4.3,-1z"/><path class="t" d="M505.2,314.6l4.3,1l39.8,-12.5l-4.3,-1z"/><path class="t" d="M509.5,311l4.3,1l39.8,-12.5l-4.3,-1z"/><path class="t" d="M513.8,307.5l4.3,1l39.8,-12.5l-4.3,-1z"/><path class="t" d="M518.1,304l4.3,1l39.8,-12.5l-4.3,-1z"/><path class="t" d="M522.4,300.4l4.3,1l39.8,-12.5l-4.3,-1z"/><path class="t" d="M526.6,296.2l4.3,1l39.8,-12.5l-4.3,-1z"/><path class="t" d="M530.9,292l4.3,1l39.8,-12.5l-4.3,-1z"/><path class="t" d="M535.2,287.8l4.3,1l39.8,-12.5l-4.3,-1z"/><path class="t" d="M539.5,283.7l4.3,1l39.8,-12.5l-4.3,-1z"/><path class="t" d="M543.8,279.5l4.3,1l39.8,-12.5l-4.3,-1z"/><path class="t" d="M548.1,275.3l4.3,1l39.8,-12.5l-4.3,-1z"/><path class="t" d="M552.4,271.1l4.3,1l39.8,-12.5l-4.3,-1z"/><path class="t" d="M556.7,266.6l4.3,1l39.8,-12.5l-4.3,-1z"/><path class="t" d="M560.9,262.2l4.3,1l39.8,-12.5l-4.3,-1z"/><path class="t" d="M565.2,257.8l4.3,1l39.8,-12.5l-4.3,-1z"/><path class="t" d="M569.5,253.3l4.3,1l39.8,-12.5l-4.3,-1z"/><path class="t" d="M573.8,248.9l4.3,1l39.8,-12.5l-4.3,-1z"/><path class="t" d="M578.1,246.7l4.3,1l39.8,-12.5l-4.3,-1z"/><path class="t" d="M582.4,244.5l4.3,1l39.8,-12.5l-4.3,-1z"/><path class="t" d="M586.7,242.3l4.3,1l39.8,-12.5l-4.3,-1z"/><path d="M595.2,244.2l39.8,-12.5v-3.1l-39.8,12.5z"/><path class="t" d="M591,240.1l4.3,1l39.8,-12.5l-4.3,-1z"/><path d="M599.5,248.3l39.8,-12.5v-3.1l-39.8,12.5z"/><path class="t" d="M595.2,244.2l4.3,1l39.8,-12.5l-4.3,-1z"/><path d="M603.8,252.4l39.8,-12.5v-3.1l-39.8,12.5z"/><path class="t" d="M599.5,248.3l4.3,1l39.8,-12.5l-4.3,-1z"/><path d="M608.1,256.5l39.8,-12.5v-3.1l-39.8,12.5z"/><path class="t" d="M603.8,252.4l4.3,1l39.8,-12.5l-4.3,-1z"/><path d="M612.4,264.2l39.8,-12.5v-6.8l-39.8,12.5z"/><path class="t" d="M608.1,256.5l4.3,1l39.8,-12.5l-4.3,-1z"/><path d="M612.4,266.5l4.3,1v-2.2l-4.3,-1z"/><path d="M616.7,271.9l39.8,-12.5v-6.8l-39.8,12.5z"/><path class="t" d="M612.4,264.2l4.3,1l39.8,-12.5l-4.3,-1z"/><path d="M616.7,276.4l4.3,1v-4.5l-4.3,-1z"/><path d="M621,279.6l39.8,-12.5v-6.8l-39.8,12.5z"/><path class="t" d="M616.7,271.9l4.3,1l39.8,-12.5l-4.3,-1z"/><path d="M621,286.4l4.3,1v-6.8l-4.3,-1z"/><path d="M625.3,287.3l39.8,-12.5v-6.8l-39.8,12.5z"/><path class="t" d="M621,279.6l4.3,1l39.8,-12.5l-4.3,-1z"/><path d="M625.3,296.3l4.3,1v-9l-4.3,-1z"/><path d="M629.5,297.3l39.8,-12.5v-9l-39.8,12.5z"/><path class="t" d="M625.3,287.3l4.3,1l39.8,-12.5l-4.3,-1z"/><path d="M629.5,306.3l4.3,1v-9l-4.3,-1z"/><path d="M633.8,307.2l39.8,-12.5v-9l-39.8,12.5z"/><path class="t" d="M629.5,297.3l4.3,1l39.8,-12.5l-4.3,-1z"/><path d="M633.8,316.2l4.3,1v-9l-4.3,-1z"/><path d="M638.1,317.2l39.8,-12.5v-9l-39.8,12.5z"/><path class="t" d="M633.8,307.2l4.3,1l39.8,-12.5l-4.3,-1z"/><path d="M638.1,326.2l4.3,1v-9l-4.3,-1z"/><path d="M642.4,327.1l39.8,-12.5v-9l-39.8,12.5z"/><path class="t" d="M638.1,317.2l4.3,1l39.8,-12.5l-4.3,-1z"/><path d="M642.4,336.1l4.3,1v-9l-4.3,-1z"/><path d="M646.7,334.8l39.8,-12.5v-6.8l-39.8,12.5z"/><path class="t" d="M642.4,327.1l4.3,1l39.8,-12.5l-4.3,-1z"/><path d="M646.7,342.5l4.3,1v-7.6l-4.3,-1z"/><path d="M651,342.5l39.8,-12.5v-6.8l-39.8,12.5z"/><path class="t" d="M646.7,334.8l4.3,1l39.8,-12.5l-4.3,-1z"/><path d="M651,348.8l4.3,1v-6.3l-4.3,-1z"/><path d="M655.3,350.2l39.8,-12.5v-6.8l-39.8,12.5z"/><path class="t" d="M651,342.5l4.3,1l39.8,-12.5l-4.3,-1z"/><path d="M655.3,355.2l4.3,1v-5l-4.3,-1z"/><path d="M659.6,357.9l39.8,-12.5v-6.8l-39.8,12.5z"/><path class="t" d="M655.3,350.2l4.3,1l39.8,-12.5l-4.3,-1z"/><path d="M659.6,361.5l4.3,1v-3.6l-4.3,-1z"/><path d="M663.8,363.4l39.8,-12.5v-4.5l-39.8,12.5z"/><path class="t" d="M659.6,357.9l4.3,1l39.8,-12.5l-4.3,-1z"/><path d="M663.8,367.5l4.3,1v-4.1l-4.3,-1z"/><path d="M668.1,368.9l39.8,-12.5v-4.5l-39.8,12.5z"/><path class="t" d="M663.8,363.4l4.3,1l39.8,-12.5l-4.3,-1z"/><path d="M668.1,373.5l4.3,1v-4.7l-4.3,-1z"/><path d="M672.4,374.3l39.8,-12.5v-4.5l-39.8,12.5z"/><path class="t" d="M668.1,368.9l4.3,1l39.8,-12.5l-4.3,-1z"/><path d="M672.4,379.5l4.3,1v-5.2l-4.3,-1z"/><path d="M676.7,379.8l39.8,-12.5v-4.5l-39.8,12.5z"/><path class="t" d="M672.4,374.3l4.3,1l39.8,-12.5l-4.3,-1z"/><path d="M676.7,385.5l4.3,1v-5.8l-4.3,-1z"/><path d="M681,385.2l39.8,-12.5v-4.5l-39.8,12.5z"/><path class="t" d="M676.7,379.8l4.3,1l39.8,-12.5l-4.3,-1z"/><path d="M681,391.5l4.3,1v-6.3l-4.3,-1z"/><path d="M685.3,390.7l39.8,-12.5v-4.5l-39.8,12.5z"/><path class="t" d="M681,385.2l4.3,1l39.8,-12.5l-4.3,-1z"/><path d="M685.3,396.1l4.3,1v-5.5l-4.3,-1z"/><path d="M689.6,395.2l39.8,-12.5v-3.5l-39.8,12.5z"/><path class="t" d="M685.3,390.7l4.3,1l39.8,-12.5l-4.3,-1z"/><path d="M689.6,400.8l4.3,1v-5.6l-4.3,-1z"/><path d="M693.9,399.6l39.8,-12.5v-3.5l-39.8,12.5z"/><path class="t" d="M689.6,395.2l4.3,1l39.8,-12.5l-4.3,-1z"/><path d="M693.9,405.4l4.3,1v-5.8l-4.3,-1z"/><path d="M698.1,404.1l39.8,-12.5v-3.5l-39.8,12.5z"/><path class="t" d="M693.9,399.6l4.3,1l39.8,-12.5l-4.3,-1z"/><path d="M698.1,410l4.3,1v-5.9l-4.3,-1z"/><path d="M702.4,408.6l39.8,-12.5v-3.5l-39.8,12.5z"/><path class="t" d="M698.1,404.1l4.3,1l39.8,-12.5l-4.3,-1z"/><path d="M702.4,414.6l4.3,1v-6l-4.3,-1z"/><path d="M706.7,413.1l39.8,-12.5v-3.5l-39.8,12.5z"/><path class="t" d="M702.4,408.6l4.3,1l39.8,-12.5l-4.3,-1z"/><path d="M706.7,419.3l4.3,1v-6.2l-4.3,-1z"/><path d="M711,417.5l39.8,-12.5v-3.5l-39.8,12.5z"/><path class="t" d="M706.7,413.1l4.3,1l39.8,-12.5l-4.3,-1z"/><path d="M711,423.9l4.3,1v-6.3l-4.3,-1z"/><path d="M715.3,422l39.8,-12.5v-3.5l-39.8,12.5z"/><path class="t" d="M711,417.5l4.3,1l39.8,-12.5l-4.3,-1z"/><path d="M715.3,428.5l4.3,1v-6.5l-4.3,-1z"/><path d="M719.6,515.3l39.8,-12.5v-92.3l-39.8,12.5z"/><path class="t" d="M715.3,422l4.3,1l39.8,-12.5l-4.3,-1z"/></g>
<g fill="#d5bb2d" stroke="#a08c22" stroke-width="0.6" stroke-linejoin="round"><path d="M105.3,396.5l4.3,1v-17.5l-4.3,-1z"/><path class="t" d="M105.3,379.1l4.3,1l39.8,-12.5l-4.3,-1z"/><path d="M109.6,397.4l4.3,1v-18.6l-4.3,-1z"/><path class="t" d="M109.6,378.8l4.3,1l39.8,-12.5l-4.3,-1z"/><path d="M113.9,398.3l4.3,1v-19.7l-4.3,-1z"/><path class="t" d="M113.9,378.5l4.3,1l39.8,-12.5l-4.3,-1z"/><path d="M118.2,399.2l4.3,1v-20.9l-4.3,-1z"/><path class="t" d="M118.2,378.3l4.3,1l39.8,-12.5l-4.3,-1z"/><path d="M122.5,400l4.3,1v-22l-4.3,-1z"/><path d="M126.8,381.3l39.8,-12.5v-2.3l-39.8,12.5z"/><path class="t" d="M122.5,378l4.3,1l39.8,-12.5l-4.3,-1z"/><path d="M126.8,400.9l4.3,1v-19.6l-4.3,-1z"/><path class="t" d="M126.8,381.3l4.3,1l39.8,-12.5l-4.3,-1z"/><path d="M131,401.8l4.3,1v-19.8l-4.3,-1z"/><path class="t" d="M131,382l4.3,1l39.8,-12.5l-4.3,-1z"/><path d="M135.3,402.7l4.3,1v-20l-4.3,-1z"/><path class="t" d="M135.3,382.6l4.3,1l39.8,-12.5l-4.3,-1z"/><path d="M139.6,403.5l4.3,1v-20.3l-4.3,-1z"/><path class="t" d="M139.6,383.3l4.3,1l39.8,-12.5l-4.3,-1z"/><path d="M143.9,404.4l4.3,1v-23.2l-4.3,-1z"/><path class="t" d="M143.9,381.2l4.3,1l39.8,-12.5l-4.3,-1z"/><path d="M148.2,405.3l4.3,1v-25.3l-4.3,-1z"/><path class="t" d="M148.2,380l4.3,1l39.8,-12.5l-4.3,-1z"/><path d="M152.5,406.2l4.3,1v-27.4l-4.3,-1z"/><path class="t" d="M152.5,378.8l4.3,1l39.8,-12.5l-4.3,-1z"/><path d="M156.8,407l4.3,1v-32.7l-4.3,-1z"/><path class="t" d="M156.8,374.3l4.3,1l39.8,-12.5l-4.3,-1z"/><path d="M161.1,407.9l4.3,1v-34.4l-4.3,-1z"/><path class="t" d="M161.1,373.6l4.3,1l39.8,-12.5l-4.3,-1z"/><path d="M165.3,408.8l4.3,1v-36l-4.3,-1z"/><path class="t" d="M165.3,372.8l4.3,1l39.8,-12.5l-4.3,-1z"/><path d="M169.6,409.6l4.3,1v-38.4l-4.3,-1z"/><path class="t" d="M169.6,371.2l4.3,1l39.8,-12.5l-4.3,-1z"/><path d="M173.9,410.4l4.3,1v-40.7l-4.3,-1z"/><path class="t" d="M173.9,369.7l4.3,1l39.8,-12.5l-4.3,-1z"/><path d="M178.2,411.2l4.3,1v-43.7l-4.3,-1z"/><path class="t" d="M178.2,367.5l4.3,1l39.8,-12.5l-4.3,-1z"/><path d="M182.5,412l4.3,1v-46.7l-4.3,-1z"/><path class="t" d="M182.5,365.3l4.3,1l39.8,-12.5l-4.3,-1z"/><path d="M186.8,412.8l4.3,1v-49.7l-4.3,-1z"/><path class="t" d="M186.8,363.1l4.3,1l39.8,-12.5l-4.3,-1z"/><path d="M191.1,413.6l4.3,1v-52.7l-4.3,-1z"/><path class="t" d="M191.1,360.9l4.3,1l39.8,-12.5l-4.3,-1z"/><path d="M195.4,414.4l4.3,1v-54.1l-4.3,-1z"/><path class="t" d="M195.4,360.3l4.3,1l39.8,-12.5l-4.3,-1z"/><path d="M199.6,415.2l4.3,1v-55.5l-4.3,-1z"/><path class="t" d="M199.6,359.7l4.3,1l39.8,-12.5l-4.3,-1z"/><path d="M203.9,416l4.3,1v-59.7l-4.3,-1z"/><path class="t" d="M203.9,356.4l4.3,1l39.8,-12.5l-4.3,-1z"/><path d="M208.2,416.8l4.3,1v-63.8l-4.3,-1z"/><path class="t" d="M208.2,353l4.3,1l39.8,-12.5l-4.3,-1z"/><path d="M212.5,417.7l4.3,1v-68l-4.3,-1z"/><path d="M216.8,352l39.8,-12.5v-1.4l-39.8,12.5z"/><path class="t" d="M212.5,349.6l4.3,1l39.8,-12.5l-4.3,-1z"/><path d="M216.8,418.5l4.3,1v-66.4l-4.3,-1z"/><path d="M221.1,354.4l39.8,-12.5v-1.4l-39.8,12.5z"/><path class="t" d="M216.8,352l4.3,1l39.8,-12.5l-4.3,-1z"/><path d="M221.1,417.2l4.3,1v-62.7l-4.3,-1z"/><path d="M225.4,356.3l39.8,-12.5v-1l-39.8,12.5z"/><path class="t" d="M221.1,354.4l4.3,1l39.8,-12.5l-4.3,-1z"/><path d="M225.4,415.9l4.3,1v-59.5l-4.3,-1z"/><path d="M229.7,358.3l39.8,-12.5v-1l-39.8,12.5z"/><path class="t" d="M225.4,356.3l4.3,1l39.8,-12.5l-4.3,-1z"/><path d="M229.7,412.3l4.3,1v-54.1l-4.3,-1z"/><path d="M233.9,360.2l39.8,-12.5v-1l-39.8,12.5z"/><path class="t" d="M229.7,358.3l4.3,1l39.8,-12.5l-4.3,-1z"/><path d="M233.9,408.8l4.3,1v-48.6l-4.3,-1z"/><path class="t" d="M233.9,360.2l4.3,1l39.8,-12.5l-4.3,-1z"/><path d="M238.2,404.3l4.3,1v-43.4l-4.3,-1z"/><path class="t" d="M238.2,360.9l4.3,1l39.8,-12.5l-4.3,-1z"/><path d="M242.5,401.7l4.3,1v-40l-4.3,-1z"/><path class="t" d="M242.5,361.7l4.3,1l39.8,-12.5l-4.3,-1z"/><path d="M246.8,399l4.3,1v-36.5l-4.3,-1z"/><path class="t" d="M246.8,362.5l4.3,1l39.8,-12.5l-4.3,-1z"/><path d="M251.1,396.4l4.3,1v-33.1l-4.3,-1z"/><path class="t" d="M251.1,363.3l4.3,1l39.8,-12.5l-4.3,-1z"/><path d="M255.4,394.6l4.3,1v-30.6l-4.3,-1z"/><path class="t" d="M255.4,364l4.3,1l39.8,-12.5l-4.3,-1z"/><path d="M259.7,392.5l4.3,1v-27.7l-4.3,-1z"/><path class="t" d="M259.7,364.8l4.3,1l39.8,-12.5l-4.3,-1z"/><path d="M264,385.8l4.3,1v-20.2l-4.3,-1z"/><path class="t" d="M264,365.6l4.3,1l39.8,-12.5l-4.3,-1z"/><path d="M268.2,380.2l4.3,1v-13.9l-4.3,-1z"/><path class="t" d="M268.2,366.4l4.3,1l39.8,-12.5l-4.3,-1z"/><path d="M272.5,373.3l4.3,1v-6.1l-4.3,-1z"/><path class="t" d="M272.5,367.1l4.3,1l39.8,-12.5l-4.3,-1z"/><path class="t" d="M276.8,367.9l4.3,1l39.8,-12.5l-4.3,-1z"/><path class="t" d="M281.1,368.3l4.3,1l39.8,-12.5l-4.3,-1z"/><path class="t" d="M285.4,368.7l4.3,1l39.8,-12.5l-4.3,-1z"/><path class="t" d="M289.7,369.2l4.3,1l39.8,-12.5l-4.3,-1z"/><path class="t" d="M294,369.6l4.3,1l39.8,-12.5l-4.3,-1z"/><path class="t" d="M298.2,370l4.3,1l39.8,-12.5l-4.3,-1z"/><path class="t" d="M302.5,370.4l4.3,1l39.8,-12.5l-4.3,-1z"/><path class="t" d="M306.8,370.8l4.3,1l39.8,-12.5l-4.3,-1z"/><path class="t" d="M311.1,371.2l4.3,1l39.8,-12.5l-4.3,-1z"/><path class="t" d="M315.4,371.7l4.3,1l39.8,-12.5l-4.3,-1z"/><path d="M324,373.2l39.8,-12.5v-.2l-39.8,12.5z"/><path class="t" d="M319.7,372.1l4.3,1l39.8,-12.5l-4.3,-1z"/><path d="M328.3,374.3l39.8,-12.5v-.2l-39.8,12.5z"/><path class="t" d="M324,373.2l4.3,1l39.8,-12.5l-4.3,-1z"/><path d="M332.5,375.5l39.8,-12.5v-.2l-39.8,12.5z"/><path class="t" d="M328.3,374.3l4.3,1l39.8,-12.5l-4.3,-1z"/><path d="M336.8,376.6l39.8,-12.5v-.2l-39.8,12.5z"/><path class="t" d="M332.5,375.5l4.3,1l39.8,-12.5l-4.3,-1z"/><path d="M341.1,377.7l39.8,-12.5v-.2l-39.8,12.5z"/><path class="t" d="M336.8,376.6l4.3,1l39.8,-12.5l-4.3,-1z"/><path d="M345.4,378.9l39.8,-12.5v-.2l-39.8,12.5z"/><path class="t" d="M341.1,377.7l4.3,1l39.8,-12.5l-4.3,-1z"/><path d="M349.7,380l39.8,-12.5v-.2l-39.8,12.5z"/><path class="t" d="M345.4,378.9l4.3,1l39.8,-12.5l-4.3,-1z"/><path d="M354,381.1l39.8,-12.5v-.2l-39.8,12.5z"/><path class="t" d="M349.7,380l4.3,1l39.8,-12.5l-4.3,-1z"/><path d="M358.3,382.3l39.8,-12.5v-.2l-39.8,12.5z"/><path class="t" d="M354,381.1l4.3,1l39.8,-12.5l-4.3,-1z"/><path d="M362.6,383.4l39.8,-12.5v-.2l-39.8,12.5z"/><path class="t" d="M358.3,382.3l4.3,1l39.8,-12.5l-4.3,-1z"/><path class="t" d="M362.6,383.4l4.3,1l39.8,-12.5l-4.3,-1z"/><path class="t" d="M366.8,384l4.3,1l39.8,-12.5l-4.3,-1z"/><path class="t" d="M371.1,384.6l4.3,1l39.8,-12.5l-4.3,-1z"/><path class="t" d="M375.4,385.2l4.3,1l39.8,-12.5l-4.3,-1z"/><path class="t" d="M379.7,385.8l4.3,1l39.8,-12.5l-4.3,-1z"/><path class="t" d="M384,386.4l4.3,1l39.8,-12.5l-4.3,-1z"/><path d="M388.3,386.9l4.3,1v-1.7l-4.3,-1z"/><path class="t" d="M388.3,385.2l4.3,1l39.8,-12.5l-4.3,-1z"/><path d="M392.6,387.3l4.3,1v-3.4l-4.3,-1z"/><path class="t" d="M392.6,384l4.3,1l39.8,-12.5l-4.3,-1z"/><path d="M396.9,387.8l4.3,1v-5l-4.3,-1z"/><path class="t" d="M396.9,382.8l4.3,1l39.8,-12.5l-4.3,-1z"/><path d="M401.1,387.8l4.3,1v-6.2l-4.3,-1z"/><path class="t" d="M401.1,381.6l4.3,1l39.8,-12.5l-4.3,-1z"/><path d="M405.4,387.7l4.3,1v-7.4l-4.3,-1z"/><path class="t" d="M405.4,380.4l4.3,1l39.8,-12.5l-4.3,-1z"/><path d="M409.7,387.7l4.3,1v-11.8l-4.3,-1z"/><path class="t" d="M409.7,375.9l4.3,1l39.8,-12.5l-4.3,-1z"/><path d="M414,387.7l4.3,1v-16.2l-4.3,-1z"/><path class="t" d="M414,371.5l4.3,1l39.8,-12.5l-4.3,-1z"/><path d="M418.3,386.2l4.3,1v-23.5l-4.3,-1z"/><path class="t" d="M418.3,362.7l4.3,1l39.8,-12.5l-4.3,-1z"/><path d="M422.6,384.8l4.3,1v-26.4l-4.3,-1z"/><path class="t" d="M422.6,358.3l4.3,1l39.8,-12.5l-4.3,-1z"/><path d="M426.9,383.3l4.3,1v-29.3l-4.3,-1z"/><path class="t" d="M426.9,354l4.3,1l39.8,-12.5l-4.3,-1z"/><path d="M431.2,378.5l4.3,1v-39.1l-4.3,-1z"/><path class="t" d="M431.2,339.5l4.3,1l39.8,-12.5l-4.3,-1z"/><path d="M435.4,373.7l4.3,1v-50.8l-4.3,-1z"/><path class="t" d="M435.4,323l4.3,1l39.8,-12.5l-4.3,-1z"/><path d="M439.7,366.8l4.3,1v-58.5l-4.3,-1z"/><path class="t" d="M439.7,308.3l4.3,1l39.8,-12.5l-4.3,-1z"/><path d="M444,360.5l4.3,1v-65.3l-4.3,-1z"/><path class="t" d="M444,295.2l4.3,1l39.8,-12.5l-4.3,-1z"/><path d="M448.3,352.6l4.3,1v-68.6l-4.3,-1z"/><path class="t" d="M448.3,284.1l4.3,1l39.8,-12.5l-4.3,-1z"/><path d="M452.6,346.4l4.3,1v-73.4l-4.3,-1z"/><path class="t" d="M452.6,273l4.3,1l39.8,-12.5l-4.3,-1z"/><path d="M456.9,337.1l4.3,1v-66.8l-4.3,-1z"/><path class="t" d="M456.9,270.3l4.3,1l39.8,-12.5l-4.3,-1z"/><path d="M461.2,333.2l4.3,1v-62.1l-4.3,-1z"/><path class="t" d="M461.2,271.1l4.3,1l39.8,-12.5l-4.3,-1z"/><path d="M465.5,326l4.3,1v-57.8l-4.3,-1z"/><path d="M469.7,269.9l39.8,-12.5v-.7l-39.8,12.5z"/><path class="t" d="M465.5,268.3l4.3,1l39.8,-12.5l-4.3,-1z"/><path d="M469.7,313.7l4.3,1v-43.7l-4.3,-1z"/><path d="M474,271.2l39.8,-12.5v-.4l-39.8,12.5z"/><path class="t" d="M469.7,269.9l4.3,1l39.8,-12.5l-4.3,-1z"/><path d="M474,305.6l4.3,1v-34.4l-4.3,-1z"/><path d="M478.3,272.6l39.8,-12.5v-.4l-39.8,12.5z"/><path class="t" d="M474,271.2l4.3,1l39.8,-12.5l-4.3,-1z"/><path d="M478.3,298.7l4.3,1v-26.1l-4.3,-1z"/><path d="M482.6,275.9l39.8,-12.5v-2.3l-39.8,12.5z"/><path class="t" d="M478.3,272.6l4.3,1l39.8,-12.5l-4.3,-1z"/><path d="M482.6,298.2l4.3,1v-22.3l-4.3,-1z"/><path class="t" d="M482.6,275.9l4.3,1l39.8,-12.5l-4.3,-1z"/><path d="M486.9,294.1l4.3,1v-22.1l-4.3,-1z"/><path d="M491.2,292l39.8,-12.5v-19.1l-39.8,12.5z"/><path class="t" d="M486.9,272l4.3,1l39.8,-12.5l-4.3,-1z"/><path d="M491.2,298.6l4.3,1v-6.7l-4.3,-1z"/><path d="M495.5,296l39.8,-12.5v-3.1l-39.8,12.5z"/><path class="t" d="M491.2,292l4.3,1l39.8,-12.5l-4.3,-1z"/><path d="M495.5,304.8l4.3,1v-8.8l-4.3,-1z"/><path class="t" d="M495.5,296l4.3,1l39.8,-12.5l-4.3,-1z"/><path d="M499.8,295.5l4.3,1v-16l-4.3,-1z"/><path class="t" d="M499.8,279.5l4.3,1l39.8,-12.5l-4.3,-1z"/><path d="M504,287.5l4.3,1v-20.9l-4.3,-1z"/><path class="t" d="M504,266.6l4.3,1l39.8,-12.5l-4.3,-1z"/><path d="M508.3,287.7l4.3,1v-28.3l-4.3,-1z"/><path class="t" d="M508.3,259.4l4.3,1l39.8,-12.5l-4.3,-1z"/><path d="M512.6,287.6l4.3,1v-39.1l-4.3,-1z"/><path d="M516.9,250.2l39.8,-12.5v-.7l-39.8,12.5z"/><path class="t" d="M512.6,248.5l4.3,1l39.8,-12.5l-4.3,-1z"/><path d="M516.9,291.4l4.3,1v-41.2l-4.3,-1z"/><path class="t" d="M516.9,250.2l4.3,1l39.8,-12.5l-4.3,-1z"/><path d="M521.2,267.5l4.3,1v-44.5l-4.3,-1z"/><path class="t" d="M521.2,223.1l4.3,1l39.8,-12.5l-4.3,-1z"/><path d="M525.5,246.7l4.3,1v-37.6l-4.3,-1z"/><path d="M529.8,217.8l39.8,-12.5v-7.7l-39.8,12.5z"/><path class="t" d="M525.5,209.1l4.3,1l39.8,-12.5l-4.3,-1z"/><path d="M529.8,247.1l4.3,1v-29.3l-4.3,-1z"/><path d="M534.1,229l39.8,-12.5v-10.3l-39.8,12.5z"/><path class="t" d="M529.8,217.8l4.3,1l39.8,-12.5l-4.3,-1z"/><path d="M534.1,238.2l4.3,1v-9.2l-4.3,-1z"/><path d="M538.3,233.5l39.8,-12.5v-3.6l-39.8,12.5z"/><path class="t" d="M534.1,229l4.3,1l39.8,-12.5l-4.3,-1z"/><path d="M542.6,238.1l39.8,-12.5v-3.6l-39.8,12.5z"/><path class="t" d="M538.3,233.5l4.3,1l39.8,-12.5l-4.3,-1z"/><path d="M546.9,242.7l39.8,-12.5v-3.6l-39.8,12.5z"/><path class="t" d="M542.6,238.1l4.3,1l39.8,-12.5l-4.3,-1z"/><path d="M551.2,247.2l39.8,-12.5v-3.6l-39.8,12.5z"/><path class="t" d="M546.9,242.7l4.3,1l39.8,-12.5l-4.3,-1z"/><path d="M555.5,251.8l39.8,-12.5v-3.6l-39.8,12.5z"/><path class="t" d="M551.2,247.2l4.3,1l39.8,-12.5l-4.3,-1z"/><path d="M559.8,257.5l39.8,-12.5v-4.8l-39.8,12.5z"/><path class="t" d="M555.5,251.8l4.3,1l39.8,-12.5l-4.3,-1z"/><path d="M564.1,263.3l39.8,-12.5v-4.8l-39.8,12.5z"/><path class="t" d="M559.8,257.5l4.3,1l39.8,-12.5l-4.3,-1z"/><path d="M568.3,269l39.8,-12.5v-4.8l-39.8,12.5z"/><path class="t" d="M564.1,263.3l4.3,1l39.8,-12.5l-4.3,-1z"/><path d="M572.6,279l39.8,-12.5v-9l-39.8,12.5z"/><path class="t" d="M568.3,269l4.3,1l39.8,-12.5l-4.3,-1z"/><path d="M576.9,288.9l39.8,-12.5v-9l-39.8,12.5z"/><path class="t" d="M572.6,279l4.3,1l39.8,-12.5l-4.3,-1z"/><path d="M581.2,298.9l39.8,-12.5v-9l-39.8,12.5z"/><path class="t" d="M576.9,288.9l4.3,1l39.8,-12.5l-4.3,-1z"/><path d="M585.5,308.8l39.8,-12.5v-9l-39.8,12.5z"/><path class="t" d="M581.2,298.9l4.3,1l39.8,-12.5l-4.3,-1z"/><path d="M589.8,318.8l39.8,-12.5v-9l-39.8,12.5z"/><path class="t" d="M585.5,308.8l4.3,1l39.8,-12.5l-4.3,-1z"/><path d="M594.1,328.8l39.8,-12.5v-9l-39.8,12.5z"/><path class="t" d="M589.8,318.8l4.3,1l39.8,-12.5l-4.3,-1z"/><path d="M598.4,338.7l39.8,-12.5v-9l-39.8,12.5z"/><path class="t" d="M594.1,328.8l4.3,1l39.8,-12.5l-4.3,-1z"/><path d="M602.6,348.7l39.8,-12.5v-9l-39.8,12.5z"/><path class="t" d="M598.4,338.7l4.3,1l39.8,-12.5l-4.3,-1z"/><path d="M606.9,355l39.8,-12.5v-5.4l-39.8,12.5z"/><path class="t" d="M602.6,348.7l4.3,1l39.8,-12.5l-4.3,-1z"/><path d="M611.2,361.4l39.8,-12.5v-5.4l-39.8,12.5z"/><path class="t" d="M606.9,355l4.3,1l39.8,-12.5l-4.3,-1z"/><path d="M615.5,367.7l39.8,-12.5v-5.4l-39.8,12.5z"/><path class="t" d="M611.2,361.4l4.3,1l39.8,-12.5l-4.3,-1z"/><path d="M619.8,374.1l39.8,-12.5v-5.4l-39.8,12.5z"/><path class="t" d="M615.5,367.7l4.3,1l39.8,-12.5l-4.3,-1z"/><path d="M624.1,380.1l39.8,-12.5v-5l-39.8,12.5z"/><path class="t" d="M619.8,374.1l4.3,1l39.8,-12.5l-4.3,-1z"/><path d="M628.4,386.1l39.8,-12.5v-5l-39.8,12.5z"/><path class="t" d="M624.1,380.1l4.3,1l39.8,-12.5l-4.3,-1z"/><path d="M632.7,392.1l39.8,-12.5v-5l-39.8,12.5z"/><path class="t" d="M628.4,386.1l4.3,1l39.8,-12.5l-4.3,-1z"/><path d="M636.9,398.1l39.8,-12.5v-5l-39.8,12.5z"/><path class="t" d="M632.7,392.1l4.3,1l39.8,-12.5l-4.3,-1z"/><path d="M641.2,404.1l39.8,-12.5v-5l-39.8,12.5z"/><path class="t" d="M636.9,398.1l4.3,1l39.8,-12.5l-4.3,-1z"/><path d="M645.5,408.7l39.8,-12.5v-3.7l-39.8,12.5z"/><path class="t" d="M641.2,404.1l4.3,1l39.8,-12.5l-4.3,-1z"/><path d="M649.8,413.3l39.8,-12.5v-3.7l-39.8,12.5z"/><path class="t" d="M645.5,408.7l4.3,1l39.8,-12.5l-4.3,-1z"/><path d="M654.1,417.9l39.8,-12.5v-3.7l-39.8,12.5z"/><path class="t" d="M649.8,413.3l4.3,1l39.8,-12.5l-4.3,-1z"/><path d="M658.4,422.5l39.8,-12.5v-3.7l-39.8,12.5z"/><path class="t" d="M654.1,417.9l4.3,1l39.8,-12.5l-4.3,-1z"/><path d="M662.7,427.2l39.8,-12.5v-3.7l-39.8,12.5z"/><path class="t" d="M658.4,422.5l4.3,1l39.8,-12.5l-4.3,-1z"/><path d="M667,431.8l39.8,-12.5v-3.7l-39.8,12.5z"/><path class="t" d="M662.7,427.2l4.3,1l39.8,-12.5l-4.3,-1z"/><path d="M671.2,436.4l39.8,-12.5v-3.7l-39.8,12.5z"/><path class="t" d="M667,431.8l4.3,1l39.8,-12.5l-4.3,-1z"/><path d="M675.5,441l39.8,-12.5v-3.7l-39.8,12.5z"/><path class="t" d="M671.2,436.4l4.3,1l39.8,-12.5l-4.3,-1z"/><path d="M679.8,527.8l39.8,-12.5v-85.9l-39.8,12.5z"/><path class="t" d="M675.5,441l4.3,1l39.8,-12.5l-4.3,-1z"/></g>
<g fill="#e8c518" stroke="#ad9312" stroke-width="0.6" stroke-linejoin="round"><path d="M65.6,411.6l4.3,1v-2.5l-4.3,-1z"/><path class="t" d="M65.6,409.1l4.3,1l39.8,-12.5l-4.3,-1z"/><path d="M69.8,412.3l4.3,1v-2.4l-4.3,-1z"/><path class="t" d="M69.8,409.9l4.3,1l39.8,-12.5l-4.3,-1z"/><path d="M74.1,413.1l4.3,1v-2.3l-4.3,-1z"/><path class="t" d="M74.1,410.8l4.3,1l39.8,-12.5l-4.3,-1z"/><path d="M78.4,413.9l4.3,1v-2.2l-4.3,-1z"/><path class="t" d="M78.4,411.7l4.3,1l39.8,-12.5l-4.3,-1z"/><path d="M82.7,414.7l4.3,1v-2.1l-4.3,-1z"/><path class="t" d="M82.7,412.6l4.3,1l39.8,-12.5l-4.3,-1z"/><path d="M87,415.4l4.3,1v-2l-4.3,-1z"/><path class="t" d="M87,413.4l4.3,1l39.8,-12.5l-4.3,-1z"/><path d="M91.3,416.2l4.3,1v-1.9l-4.3,-1z"/><path class="t" d="M91.3,414.3l4.3,1l39.8,-12.5l-4.3,-1z"/><path d="M95.6,417l4.3,1v-1.8l-4.3,-1z"/><path class="t" d="M95.6,415.2l4.3,1l39.8,-12.5l-4.3,-1z"/><path d="M99.9,417.8l4.3,1v-1.7l-4.3,-1z"/><path class="t" d="M99.9,416.1l4.3,1l39.8,-12.5l-4.3,-1z"/><path d="M104.1,418.5l4.3,1v-1.6l-4.3,-1z"/><path class="t" d="M104.1,416.9l4.3,1l39.8,-12.5l-4.3,-1z"/><path d="M108.4,419.3l4.3,1v-1.5l-4.3,-1z"/><path class="t" d="M108.4,417.8l4.3,1l39.8,-12.5l-4.3,-1z"/><path d="M112.7,420l4.3,1v-1.3l-4.3,-1z"/><path class="t" d="M112.7,418.7l4.3,1l39.8,-12.5l-4.3,-1z"/><path d="M117,420.7l4.3,1v-1.1l-4.3,-1z"/><path class="t" d="M117,419.6l4.3,1l39.8,-12.5l-4.3,-1z"/><path d="M121.3,421.4l4.3,1v-.9l-4.3,-1z"/><path class="t" d="M121.3,420.5l4.3,1l39.8,-12.5l-4.3,-1z"/><path d="M125.6,422.1l4.3,1v-.7l-4.3,-1z"/><path class="t" d="M125.6,421.3l4.3,1l39.8,-12.5l-4.3,-1z"/><path d="M129.9,422.7l4.3,1v-.6l-4.3,-1z"/><path class="t" d="M129.9,422.1l4.3,1l39.8,-12.5l-4.3,-1z"/><path d="M134.2,423.4l4.3,1v-.5l-4.3,-1z"/><path class="t" d="M134.2,422.9l4.3,1l39.8,-12.5l-4.3,-1z"/><path d="M138.4,424.1l4.3,1v-.4l-4.3,-1z"/><path class="t" d="M138.4,423.7l4.3,1l39.8,-12.5l-4.3,-1z"/><path d="M142.7,424.8l4.3,1v-.2l-4.3,-1z"/><path class="t" d="M142.7,424.6l4.3,1l39.8,-12.5l-4.3,-1z"/><path d="M147,425.5l4.3,1v-.1l-4.3,-1z"/><path class="t" d="M147,425.4l4.3,1l39.8,-12.5l-4.3,-1z"/><path class="t" d="M151.3,426.2l4.3,1l39.8,-12.5l-4.3,-1z"/><path class="t" d="M155.6,427l4.3,1l39.8,-12.5l-4.3,-1z"/><path class="t" d="M159.9,427.8l4.3,1l39.8,-12.5l-4.3,-1z"/><path class="t" d="M164.2,428.6l4.3,1l39.8,-12.5l-4.3,-1z"/><path class="t" d="M168.5,429.4l4.3,1l39.8,-12.5l-4.3,-1z"/><path class="t" d="M172.7,430.2l4.3,1l39.8,-12.5l-4.3,-1z"/><path class="t" d="M177,431l4.3,1l39.8,-12.5l-4.3,-1z"/><path class="t" d="M181.3,429.7l4.3,1l39.8,-12.5l-4.3,-1z"/><path d="M185.6,429.6l4.3,1v-1.2l-4.3,-1z"/><path class="t" d="M185.6,428.4l4.3,1l39.8,-12.5l-4.3,-1z"/><path d="M189.9,430l4.3,1v-5.1l-4.3,-1z"/><path class="t" d="M189.9,424.9l4.3,1l39.8,-12.5l-4.3,-1z"/><path d="M194.2,430.3l4.3,1v-9l-4.3,-1z"/><path class="t" d="M194.2,421.3l4.3,1l39.8,-12.5l-4.3,-1z"/><path d="M198.5,430.5l4.3,1v-13.6l-4.3,-1z"/><path class="t" d="M198.5,416.9l4.3,1l39.8,-12.5l-4.3,-1z"/><path d="M202.8,430.7l4.3,1v-16.5l-4.3,-1z"/><path class="t" d="M202.8,414.2l4.3,1l39.8,-12.5l-4.3,-1z"/><path d="M207,430.9l4.3,1v-19.3l-4.3,-1z"/><path class="t" d="M207,411.6l4.3,1l39.8,-12.5l-4.3,-1z"/><path d="M211.3,431.1l4.3,1v-22.2l-4.3,-1z"/><path class="t" d="M211.3,408.9l4.3,1l39.8,-12.5l-4.3,-1z"/><path d="M215.6,431.3l4.3,1v-24.1l-4.3,-1z"/><path class="t" d="M215.6,407.2l4.3,1l39.8,-12.5l-4.3,-1z"/><path d="M219.9,431.5l4.3,1v-26.5l-4.3,-1z"/><path class="t" d="M219.9,405.1l4.3,1l39.8,-12.5l-4.3,-1z"/><path d="M224.2,431.7l4.3,1v-33.4l-4.3,-1z"/><path class="t" d="M224.2,398.3l4.3,1l39.8,-12.5l-4.3,-1z"/><path d="M228.5,431.9l4.3,1v-39.2l-4.3,-1z"/><path class="t" d="M228.5,392.8l4.3,1l39.8,-12.5l-4.3,-1z"/><path d="M232.8,432.1l4.3,1v-46.4l-4.3,-1z"/><path class="t" d="M232.8,385.8l4.3,1l39.8,-12.5l-4.3,-1z"/><path d="M237.1,432.4l4.3,1v-54.4l-4.3,-1z"/><path class="t" d="M237.1,377.9l4.3,1l39.8,-12.5l-4.3,-1z"/><path d="M241.3,432.6l4.3,1v-60.3l-4.3,-1z"/><path class="t" d="M241.3,372.2l4.3,1l39.8,-12.5l-4.3,-1z"/><path d="M245.6,432.8l4.3,1v-64.8l-4.3,-1z"/><path class="t" d="M245.6,368l4.3,1l39.8,-12.5l-4.3,-1z"/><path d="M249.9,433.9l4.3,1v-75.8l-4.3,-1z"/><path class="t" d="M249.9,358.1l4.3,1l39.8,-12.5l-4.3,-1z"/><path d="M254.2,435l4.3,1v-81.4l-4.3,-1z"/><path class="t" d="M254.2,353.7l4.3,1l39.8,-12.5l-4.3,-1z"/><path d="M258.5,436.2l4.3,1v-90.2l-4.3,-1z"/><path class="t" d="M258.5,346l4.3,1l39.8,-12.5l-4.3,-1z"/><path d="M262.8,437.3l4.3,1v-94.3l-4.3,-1z"/><path class="t" d="M262.8,343l4.3,1l39.8,-12.5l-4.3,-1z"/><path d="M267.1,438.4l4.3,1v-94.9l-4.3,-1z"/><path d="M271.4,345.2l39.8,-12.5v-.7l-39.8,12.5z"/><path class="t" d="M267.1,343.6l4.3,1l39.8,-12.5l-4.3,-1z"/><path d="M271.4,439.6l4.3,1v-94.3l-4.3,-1z"/><path d="M275.6,351.2l39.8,-12.5v-5l-39.8,12.5z"/><path class="t" d="M271.4,345.2l4.3,1l39.8,-12.5l-4.3,-1z"/><path d="M275.6,440.7l4.3,1v-89.5l-4.3,-1z"/><path d="M279.9,358.5l39.8,-12.5v-6.3l-39.8,12.5z"/><path class="t" d="M275.6,351.2l4.3,1l39.8,-12.5l-4.3,-1z"/><path d="M279.9,441.8l4.3,1v-83.3l-4.3,-1z"/><path d="M284.2,365.7l39.8,-12.5v-6.3l-39.8,12.5z"/><path class="t" d="M279.9,358.5l4.3,1l39.8,-12.5l-4.3,-1z"/><path d="M284.2,443l4.3,1v-77.2l-4.3,-1z"/><path d="M288.5,371.2l39.8,-12.5v-4.5l-39.8,12.5z"/><path class="t" d="M284.2,365.7l4.3,1l39.8,-12.5l-4.3,-1z"/><path d="M288.5,444.1l4.3,1v-72.9l-4.3,-1z"/><path d="M292.8,374.9l39.8,-12.5v-2.7l-39.8,12.5z"/><path class="t" d="M288.5,371.2l4.3,1l39.8,-12.5l-4.3,-1z"/><path d="M292.8,445.2l4.3,1v-70.4l-4.3,-1z"/><path d="M297.1,377.6l39.8,-12.5v-1.8l-39.8,12.5z"/><path class="t" d="M292.8,374.9l4.3,1l39.8,-12.5l-4.3,-1z"/><path d="M297.1,446.4l4.3,1v-68.8l-4.3,-1z"/><path d="M301.4,380.4l39.8,-12.5v-1.8l-39.8,12.5z"/><path class="t" d="M297.1,377.6l4.3,1l39.8,-12.5l-4.3,-1z"/><path d="M301.4,447.5l4.3,1v-67.1l-4.3,-1z"/><path d="M305.6,382.7l39.8,-12.5v-1.3l-39.8,12.5z"/><path class="t" d="M301.4,380.4l4.3,1l39.8,-12.5l-4.3,-1z"/><path d="M305.6,448.6l4.3,1v-66l-4.3,-1z"/><path d="M309.9,385l39.8,-12.5v-1.3l-39.8,12.5z"/><path class="t" d="M305.6,382.7l4.3,1l39.8,-12.5l-4.3,-1z"/><path d="M309.9,449.8l4.3,1v-64.8l-4.3,-1z"/><path d="M314.2,387.3l39.8,-12.5v-1.3l-39.8,12.5z"/><path class="t" d="M309.9,385l4.3,1l39.8,-12.5l-4.3,-1z"/><path d="M314.2,450.9l4.3,1v-63.6l-4.3,-1z"/><path d="M318.5,389.6l39.8,-12.5v-1.3l-39.8,12.5z"/><path class="t" d="M314.2,387.3l4.3,1l39.8,-12.5l-4.3,-1z"/><path d="M318.5,451.3l4.3,1v-61.7l-4.3,-1z"/><path d="M322.8,391.4l39.8,-12.5v-.9l-39.8,12.5z"/><path class="t" d="M318.5,389.6l4.3,1l39.8,-12.5l-4.3,-1z"/><path d="M322.8,451.7l4.3,1v-60.3l-4.3,-1z"/><path d="M327.1,393.3l39.8,-12.5v-.9l-39.8,12.5z"/><path class="t" d="M322.8,391.4l4.3,1l39.8,-12.5l-4.3,-1z"/><path d="M327.1,452.1l4.3,1v-58.8l-4.3,-1z"/><path d="M331.4,395.1l39.8,-12.5v-.9l-39.8,12.5z"/><path class="t" d="M327.1,393.3l4.3,1l39.8,-12.5l-4.3,-1z"/><path d="M331.4,452.5l4.3,1v-57.3l-4.3,-1z"/><path d="M335.7,396.4l39.8,-12.5v-.3l-39.8,12.5z"/><path class="t" d="M331.4,395.1l4.3,1l39.8,-12.5l-4.3,-1z"/><path d="M335.7,452.9l4.3,1v-56.5l-4.3,-1z"/><path d="M339.9,397.7l39.8,-12.5v-.3l-39.8,12.5z"/><path class="t" d="M335.7,396.4l4.3,1l39.8,-12.5l-4.3,-1z"/><path d="M339.9,453.3l4.3,1v-55.6l-4.3,-1z"/><path d="M344.2,398.9l39.8,-12.5v-.3l-39.8,12.5z"/><path class="t" d="M339.9,397.7l4.3,1l39.8,-12.5l-4.3,-1z"/><path d="M344.2,453.7l4.3,1v-54.8l-4.3,-1z"/><path class="t" d="M344.2,398.9l4.3,1l39.8,-12.5l-4.3,-1z"/><path d="M348.5,454.1l4.3,1v-54.7l-4.3,-1z"/><path class="t" d="M348.5,399.4l4.3,1l39.8,-12.5l-4.3,-1z"/><path d="M352.8,454.5l4.3,1v-54.6l-4.3,-1z"/><path class="t" d="M352.8,399.9l4.3,1l39.8,-12.5l-4.3,-1z"/><path d="M357.1,455.9l4.3,1v-55.6l-4.3,-1z"/><path class="t" d="M357.1,400.3l4.3,1l39.8,-12.5l-4.3,-1z"/><path d="M361.4,457.4l4.3,1v-57.1l-4.3,-1z"/><path class="t" d="M361.4,400.3l4.3,1l39.8,-12.5l-4.3,-1z"/><path d="M365.7,458.9l4.3,1v-58.6l-4.3,-1z"/><path class="t" d="M365.7,400.3l4.3,1l39.8,-12.5l-4.3,-1z"/><path d="M370,460.3l4.3,1v-60.1l-4.3,-1z"/><path class="t" d="M370,400.2l4.3,1l39.8,-12.5l-4.3,-1z"/><path d="M374.2,461.8l4.3,1v-61.6l-4.3,-1z"/><path class="t" d="M374.2,400.2l4.3,1l39.8,-12.5l-4.3,-1z"/><path d="M378.5,463.3l4.3,1v-64.5l-4.3,-1z"/><path class="t" d="M378.5,398.7l4.3,1l39.8,-12.5l-4.3,-1z"/><path d="M382.8,464.8l4.3,1v-67.5l-4.3,-1z"/><path class="t" d="M382.8,397.3l4.3,1l39.8,-12.5l-4.3,-1z"/><path d="M387.1,466.2l4.3,1v-70.4l-4.3,-1z"/><path class="t" d="M387.1,395.9l4.3,1l39.8,-12.5l-4.3,-1z"/><path d="M391.4,466.1l4.3,1v-75.1l-4.3,-1z"/><path class="t" d="M391.4,391.1l4.3,1l39.8,-12.5l-4.3,-1z"/><path d="M395.7,466l4.3,1v-79.7l-4.3,-1z"/><path class="t" d="M395.7,386.2l4.3,1l39.8,-12.5l-4.3,-1z"/><path d="M400,465.9l4.3,1v-86.6l-4.3,-1z"/><path class="t" d="M400,379.3l4.3,1l39.8,-12.5l-4.3,-1z"/><path d="M404.3,465.7l4.3,1v-92.7l-4.3,-1z"/><path class="t" d="M404.3,373l4.3,1l39.8,-12.5l-4.3,-1z"/><path d="M408.5,465.6l4.3,1v-100.4l-4.3,-1z"/><path class="t" d="M408.5,365.2l4.3,1l39.8,-12.5l-4.3,-1z"/><path d="M412.8,465.5l4.3,1v-106.6l-4.3,-1z"/><path class="t" d="M412.8,358.9l4.3,1l39.8,-12.5l-4.3,-1z"/><path d="M417.1,465.4l4.3,1v-115.7l-4.3,-1z"/><path class="t" d="M417.1,349.6l4.3,1l39.8,-12.5l-4.3,-1z"/><path d="M421.4,465.2l4.3,1v-119.5l-4.3,-1z"/><path class="t" d="M421.4,345.7l4.3,1l39.8,-12.5l-4.3,-1z"/><path d="M425.7,463.6l4.3,1v-125.1l-4.3,-1z"/><path class="t" d="M425.7,338.6l4.3,1l39.8,-12.5l-4.3,-1z"/><path d="M430,462l4.3,1v-135.8l-4.3,-1z"/><path class="t" d="M430,326.2l4.3,1l39.8,-12.5l-4.3,-1z"/><path d="M434.3,460.4l4.3,1v-142.2l-4.3,-1z"/><path class="t" d="M434.3,318.2l4.3,1l39.8,-12.5l-4.3,-1z"/><path d="M438.6,458.8l4.3,1v-147.6l-4.3,-1z"/><path class="t" d="M438.6,311.2l4.3,1l39.8,-12.5l-4.3,-1z"/><path d="M442.8,458.2l4.3,1v-147.5l-4.3,-1z"/><path class="t" d="M442.8,310.7l4.3,1l39.8,-12.5l-4.3,-1z"/><path d="M447.1,457.7l4.3,1v-151.1l-4.3,-1z"/><path d="M451.4,311.2l39.8,-12.5v-3.6l-39.8,12.5z"/><path class="t" d="M447.1,306.6l4.3,1l39.8,-12.5l-4.3,-1z"/><path d="M451.4,457.2l4.3,1v-146l-4.3,-1z"/><path d="M455.7,317.3l39.8,-12.5v-5.2l-39.8,12.5z"/><path class="t" d="M451.4,311.2l4.3,1l39.8,-12.5l-4.3,-1z"/><path d="M455.7,453.7l4.3,1v-136.3l-4.3,-1z"/><path class="t" d="M455.7,317.3l4.3,1l39.8,-12.5l-4.3,-1z"/><path d="M460,450.2l4.3,1v-142.2l-4.3,-1z"/><path class="t" d="M460,308l4.3,1l39.8,-12.5l-4.3,-1z"/><path d="M464.3,446.8l4.3,1v-146.8l-4.3,-1z"/><path class="t" d="M464.3,300l4.3,1l39.8,-12.5l-4.3,-1z"/><path d="M468.6,443.3l4.3,1v-143.1l-4.3,-1z"/><path class="t" d="M468.6,300.2l4.3,1l39.8,-12.5l-4.3,-1z"/><path d="M472.9,440.8l4.3,1v-140.7l-4.3,-1z"/><path d="M477.1,303.9l39.8,-12.5v-2.9l-39.8,12.5z"/><path class="t" d="M472.9,300.1l4.3,1l39.8,-12.5l-4.3,-1z"/><path d="M477.1,438.3l4.3,1v-134.3l-4.3,-1z"/><path class="t" d="M477.1,303.9l4.3,1l39.8,-12.5l-4.3,-1z"/><path d="M481.4,435.7l4.3,1v-155.7l-4.3,-1z"/><path class="t" d="M481.4,280.1l4.3,1l39.8,-12.5l-4.3,-1z"/><path d="M485.7,433.2l4.3,1v-174l-4.3,-1z"/><path class="t" d="M485.7,259.2l4.3,1l39.8,-12.5l-4.3,-1z"/><path d="M490,430.6l4.3,1v-171l-4.3,-1z"/><path class="t" d="M490,259.6l4.3,1l39.8,-12.5l-4.3,-1z"/><path d="M494.3,430.2l4.3,1v-179.5l-4.3,-1z"/><path class="t" d="M494.3,250.7l4.3,1l39.8,-12.5l-4.3,-1z"/><path d="M498.6,429.7l4.3,1v-191.3l-4.3,-1z"/><path class="t" d="M498.6,238.3l4.3,1l39.8,-12.5l-4.3,-1z"/><path d="M502.9,429.2l4.3,1v-202l-4.3,-1z"/><path class="t" d="M502.9,227.2l4.3,1l39.8,-12.5l-4.3,-1z"/><path d="M507.2,428.7l4.3,1v-214l-4.3,-1z"/><path class="t" d="M507.2,214.7l4.3,1l39.8,-12.5l-4.3,-1z"/><path d="M511.4,428.2l4.3,1v-226.8l-4.3,-1z"/><path class="t" d="M511.4,201.4l4.3,1l39.8,-12.5l-4.3,-1z"/><path d="M515.7,427.7l4.3,1v-236.5l-4.3,-1z"/><path class="t" d="M515.7,191.2l4.3,1l39.8,-12.5l-4.3,-1z"/><path d="M520,427.2l4.3,1v-255.6l-4.3,-1z"/><path class="t" d="M520,171.6l4.3,1l39.8,-12.5l-4.3,-1z"/><path d="M524.3,427l4.3,1v-264.7l-4.3,-1z"/><path class="t" d="M524.3,162.3l4.3,1l39.8,-12.5l-4.3,-1z"/><path d="M528.6,426.8l4.3,1v-267.6l-4.3,-1z"/><path class="t" d="M528.6,159.2l4.3,1l39.8,-12.5l-4.3,-1z"/><path d="M532.9,426.5l4.3,1v-271.3l-4.3,-1z"/><path d="M537.2,158.2l39.8,-12.5v-2l-39.8,12.5z"/><path class="t" d="M532.9,155.3l4.3,1l39.8,-12.5l-4.3,-1z"/><path d="M537.2,426.3l4.3,1v-268.1l-4.3,-1z"/><path class="t" d="M537.2,158.2l4.3,1l39.8,-12.5l-4.3,-1z"/><path d="M541.5,426l4.3,1v-270.1l-4.3,-1z"/><path d="M545.7,179.5l39.8,-12.5v-22.7l-39.8,12.5z"/><path class="t" d="M541.5,155.9l4.3,1l39.8,-12.5l-4.3,-1z"/><path d="M545.7,425.8l4.3,1v-246.2l-4.3,-1z"/><path d="M550,202.1l39.8,-12.5v-21.6l-39.8,12.5z"/><path class="t" d="M545.7,179.5l4.3,1l39.8,-12.5l-4.3,-1z"/><path d="M550,430.7l4.3,1v-228.6l-4.3,-1z"/><path d="M554.3,224.7l39.8,-12.5v-21.7l-39.8,12.5z"/><path class="t" d="M550,202.1l4.3,1l39.8,-12.5l-4.3,-1z"/><path d="M554.3,435.6l4.3,1v-210.9l-4.3,-1z"/><path d="M558.6,242.1l39.8,-12.5v-16.4l-39.8,12.5z"/><path class="t" d="M554.3,224.7l4.3,1l39.8,-12.5l-4.3,-1z"/><path d="M558.6,439.4l4.3,1v-197.4l-4.3,-1z"/><path d="M562.9,258.4l39.8,-12.5v-15.4l-39.8,12.5z"/><path class="t" d="M558.6,242.1l4.3,1l39.8,-12.5l-4.3,-1z"/><path d="M562.9,443.3l4.3,1v-184.8l-4.3,-1z"/><path d="M567.2,271.5l39.8,-12.5v-12.1l-39.8,12.5z"/><path class="t" d="M562.9,258.4l4.3,1l39.8,-12.5l-4.3,-1z"/><path d="M567.2,447.1l4.3,1v-175.6l-4.3,-1z"/><path d="M571.5,290.9l39.8,-12.5v-18.5l-39.8,12.5z"/><path class="t" d="M567.2,271.5l4.3,1l39.8,-12.5l-4.3,-1z"/><path d="M571.5,450.9l4.3,1v-160l-4.3,-1z"/><path d="M575.7,304.7l39.8,-12.5v-12.9l-39.8,12.5z"/><path class="t" d="M571.5,290.9l4.3,1l39.8,-12.5l-4.3,-1z"/><path d="M575.7,455.3l4.3,1v-150.6l-4.3,-1z"/><path d="M580,317.5l39.8,-12.5v-11.8l-39.8,12.5z"/><path class="t" d="M575.7,304.7l4.3,1l39.8,-12.5l-4.3,-1z"/><path d="M580,459.7l4.3,1v-142.2l-4.3,-1z"/><path d="M584.3,328.1l39.8,-12.5v-9.6l-39.8,12.5z"/><path class="t" d="M580,317.5l4.3,1l39.8,-12.5l-4.3,-1z"/><path d="M584.3,464.1l4.3,1v-136l-4.3,-1z"/><path d="M588.6,333.9l39.8,-12.5v-4.9l-39.8,12.5z"/><path class="t" d="M584.3,328.1l4.3,1l39.8,-12.5l-4.3,-1z"/><path d="M588.6,468.4l4.3,1v-134.5l-4.3,-1z"/><path d="M592.9,340l39.8,-12.5v-5.1l-39.8,12.5z"/><path class="t" d="M588.6,333.9l4.3,1l39.8,-12.5l-4.3,-1z"/><path d="M592.9,470.8l4.3,1v-130.8l-4.3,-1z"/><path d="M597.2,346.5l39.8,-12.5v-5.6l-39.8,12.5z"/><path class="t" d="M592.9,340l4.3,1l39.8,-12.5l-4.3,-1z"/><path d="M597.2,473.1l4.3,1v-126.5l-4.3,-1z"/><path d="M601.5,353.9l39.8,-12.5v-6.4l-39.8,12.5z"/><path class="t" d="M597.2,346.5l4.3,1l39.8,-12.5l-4.3,-1z"/><path d="M601.5,475.4l4.3,1v-121.5l-4.3,-1z"/><path d="M605.8,360.6l39.8,-12.5v-5.7l-39.8,12.5z"/><path class="t" d="M601.5,353.9l4.3,1l39.8,-12.5l-4.3,-1z"/><path d="M605.8,477.7l4.3,1v-117.2l-4.3,-1z"/><path d="M610,365.2l39.8,-12.5v-3.7l-39.8,12.5z"/><path class="t" d="M605.8,360.6l4.3,1l39.8,-12.5l-4.3,-1z"/><path d="M610,480.1l4.3,1v-114.8l-4.3,-1z"/><path d="M614.3,371.5l39.8,-12.5v-5.3l-39.8,12.5z"/><path class="t" d="M610,365.2l4.3,1l39.8,-12.5l-4.3,-1z"/><path d="M614.3,482.4l4.3,1v-110.9l-4.3,-1z"/><path d="M618.6,377l39.8,-12.5v-4.6l-39.8,12.5z"/><path class="t" d="M614.3,371.5l4.3,1l39.8,-12.5l-4.3,-1z"/><path d="M618.6,484.7l4.3,1v-107.7l-4.3,-1z"/><path d="M622.9,380.5l39.8,-12.5v-2.6l-39.8,12.5z"/><path class="t" d="M618.6,377l4.3,1l39.8,-12.5l-4.3,-1z"/><path d="M622.9,487.1l4.3,1v-106.5l-4.3,-1z"/><path d="M627.2,384.4l39.8,-12.5v-2.9l-39.8,12.5z"/><path class="t" d="M622.9,380.5l4.3,1l39.8,-12.5l-4.3,-1z"/><path d="M627.2,489.7l4.3,1v-105.3l-4.3,-1z"/><path d="M631.5,391.5l39.8,-12.5v-6.1l-39.8,12.5z"/><path class="t" d="M627.2,384.4l4.3,1l39.8,-12.5l-4.3,-1z"/><path d="M631.5,492.4l4.3,1v-101l-4.3,-1z"/><path d="M635.8,399.2l39.8,-12.5v-6.8l-39.8,12.5z"/><path class="t" d="M631.5,391.5l4.3,1l39.8,-12.5l-4.3,-1z"/><path d="M635.8,495.1l4.3,1v-95.9l-4.3,-1z"/><path d="M640.1,540.4l39.8,-12.5v-140.2l-39.8,12.5z"/><path class="t" d="M635.8,399.2l4.3,1l39.8,-12.5l-4.3,-1z"/></g>
<g fill="#ffd700" stroke="#bfa000" stroke-width="0.6" stroke-linejoin="round"><path d="M25.8,425l4.3,1v-.9l-4.3,-1z"/><path class="t" d="M25.8,424.1l4.3,1l39.8,-12.5l-4.3,-1z"/><path d="M30.1,426l4.3,1v-1.1l-4.3,-1z"/><path class="t" d="M30.1,424.9l4.3,1l39.8,-12.5l-4.3,-1z"/><path d="M34.4,426.9l4.3,1v-1.3l-4.3,-1z"/><path class="t" d="M34.4,425.6l4.3,1l39.8,-12.5l-4.3,-1z"/><path d="M38.7,427.9l4.3,1v-1.4l-4.3,-1z"/><path class="t" d="M38.7,426.4l4.3,1l39.8,-12.5l-4.3,-1z"/><path d="M42.9,428.8l4.3,1v-1.6l-4.3,-1z"/><path class="t" d="M42.9,427.2l4.3,1l39.8,-12.5l-4.3,-1z"/><path d="M47.2,429.8l4.3,1v-1.8l-4.3,-1z"/><path class="t" d="M47.2,428l4.3,1l39.8,-12.5l-4.3,-1z"/><path d="M51.5,430.7l4.3,1v-2l-4.3,-1z"/><path class="t" d="M51.5,428.7l4.3,1l39.8,-12.5l-4.3,-1z"/><path d="M55.8,431.7l4.3,1v-2.2l-4.3,-1z"/><path class="t" d="M55.8,429.5l4.3,1l39.8,-12.5l-4.3,-1z"/><path d="M60.1,432.6l4.3,1v-2.3l-4.3,-1z"/><path class="t" d="M60.1,430.3l4.3,1l39.8,-12.5l-4.3,-1z"/><path d="M64.4,433.6l4.3,1v-2.5l-4.3,-1z"/><path class="t" d="M64.4,431.1l4.3,1l39.8,-12.5l-4.3,-1z"/><path d="M68.7,434.5l4.3,1v-2.7l-4.3,-1z"/><path class="t" d="M68.7,431.8l4.3,1l39.8,-12.5l-4.3,-1z"/><path d="M73,435.5l4.3,1v-3l-4.3,-1z"/><path class="t" d="M73,432.5l4.3,1l39.8,-12.5l-4.3,-1z"/><path d="M77.2,436.5l4.3,1v-3.2l-4.3,-1z"/><path class="t" d="M77.2,433.2l4.3,1l39.8,-12.5l-4.3,-1z"/><path d="M81.5,437.4l4.3,1v-3.5l-4.3,-1z"/><path class="t" d="M81.5,433.9l4.3,1l39.8,-12.5l-4.3,-1z"/><path d="M85.8,438.4l4.3,1v-3.8l-4.3,-1z"/><path class="t" d="M85.8,434.6l4.3,1l39.8,-12.5l-4.3,-1z"/><path d="M90.1,439.3l4.3,1v-4l-4.3,-1z"/><path class="t" d="M90.1,435.3l4.3,1l39.8,-12.5l-4.3,-1z"/><path d="M94.4,440.3l4.3,1v-4.3l-4.3,-1z"/><path class="t" d="M94.4,436l4.3,1l39.8,-12.5l-4.3,-1z"/><path d="M98.7,441.2l4.3,1v-4.6l-4.3,-1z"/><path class="t" d="M98.7,436.6l4.3,1l39.8,-12.5l-4.3,-1z"/><path d="M103,442.2l4.3,1v-4.9l-4.3,-1z"/><path class="t" d="M103,437.3l4.3,1l39.8,-12.5l-4.3,-1z"/><path d="M107.3,443.1l4.3,1v-5.1l-4.3,-1z"/><path class="t" d="M107.3,438l4.3,1l39.8,-12.5l-4.3,-1z"/><path d="M111.5,444.1l4.3,1v-5.4l-4.3,-1z"/><path class="t" d="M111.5,438.7l4.3,1l39.8,-12.5l-4.3,-1z"/><path d="M115.8,445l4.3,1v-5.7l-4.3,-1z"/><path class="t" d="M115.8,439.4l4.3,1l39.8,-12.5l-4.3,-1z"/><path d="M120.1,446l4.3,1v-5.9l-4.3,-1z"/><path class="t" d="M120.1,440.1l4.3,1l39.8,-12.5l-4.3,-1z"/><path d="M124.4,447l4.3,1v-6.5l-4.3,-1z"/><path class="t" d="M124.4,440.4l4.3,1l39.8,-12.5l-4.3,-1z"/><path d="M128.7,447.9l4.3,1v-7.2l-4.3,-1z"/><path class="t" d="M128.7,440.8l4.3,1l39.8,-12.5l-4.3,-1z"/><path d="M133,448.9l4.3,1v-7.8l-4.3,-1z"/><path class="t" d="M133,441.1l4.3,1l39.8,-12.5l-4.3,-1z"/><path d="M137.3,449.8l4.3,1v-8.4l-4.3,-1z"/><path class="t" d="M137.3,441.4l4.3,1l39.8,-12.5l-4.3,-1z"/><path d="M141.6,450.8l4.3,1v-9l-4.3,-1z"/><path class="t" d="M141.6,441.8l4.3,1l39.8,-12.5l-4.3,-1z"/><path d="M145.8,451.7l4.3,1v-9.6l-4.3,-1z"/><path class="t" d="M145.8,442.1l4.3,1l39.8,-12.5l-4.3,-1z"/><path d="M150.1,452.7l4.3,1v-10.2l-4.3,-1z"/><path class="t" d="M150.1,442.5l4.3,1l39.8,-12.5l-4.3,-1z"/><path d="M154.4,453.6l4.3,1v-10.8l-4.3,-1z"/><path class="t" d="M154.4,442.8l4.3,1l39.8,-12.5l-4.3,-1z"/><path d="M158.7,454.6l4.3,1v-11.6l-4.3,-1z"/><path class="t" d="M158.7,443l4.3,1l39.8,-12.5l-4.3,-1z"/><path d="M163,455.5l4.3,1v-12.3l-4.3,-1z"/><path class="t" d="M163,443.2l4.3,1l39.8,-12.5l-4.3,-1z"/><path d="M167.3,456.5l4.3,1v-13l-4.3,-1z"/><path class="t" d="M167.3,443.4l4.3,1l39.8,-12.5l-4.3,-1z"/><path d="M171.6,457.5l4.3,1v-13.8l-4.3,-1z"/><path class="t" d="M171.6,443.7l4.3,1l39.8,-12.5l-4.3,-1z"/><path d="M175.9,458.4l4.3,1v-14.6l-4.3,-1z"/><path class="t" d="M175.9,443.9l4.3,1l39.8,-12.5l-4.3,-1z"/><path d="M180.1,459.4l4.3,1v-15.3l-4.3,-1z"/><path class="t" d="M180.1,444.1l4.3,1l39.8,-12.5l-4.3,-1z"/><path d="M184.4,460.3l4.3,1v-16.1l-4.3,-1z"/><path class="t" d="M184.4,444.3l4.3,1l39.8,-12.5l-4.3,-1z"/><path d="M188.7,461.3l4.3,1v-16.8l-4.3,-1z"/><path class="t" d="M188.7,444.5l4.3,1l39.8,-12.5l-4.3,-1z"/><path d="M193,462.2l4.3,1v-17.6l-4.3,-1z"/><path class="t" d="M193,444.7l4.3,1l39.8,-12.5l-4.3,-1z"/><path d="M197.3,463.2l4.3,1v-18.3l-4.3,-1z"/><path class="t" d="M197.3,444.9l4.3,1l39.8,-12.5l-4.3,-1z"/><path d="M201.6,464.1l4.3,1v-19.1l-4.3,-1z"/><path class="t" d="M201.6,445.1l4.3,1l39.8,-12.5l-4.3,-1z"/><path d="M205.9,465.1l4.3,1v-19.8l-4.3,-1z"/><path d="M210.2,446.4l39.8,-12.5v-.2l-39.8,12.5z"/><path class="t" d="M205.9,445.3l4.3,1l39.8,-12.5l-4.3,-1z"/><path d="M210.2,466l4.3,1v-19.6l-4.3,-1z"/><path d="M214.4,447.6l39.8,-12.5v-.2l-39.8,12.5z"/><path class="t" d="M210.2,446.4l4.3,1l39.8,-12.5l-4.3,-1z"/><path d="M214.4,467l4.3,1v-19.4l-4.3,-1z"/><path d="M218.7,448.7l39.8,-12.5v-.2l-39.8,12.5z"/><path class="t" d="M214.4,447.6l4.3,1l39.8,-12.5l-4.3,-1z"/><path d="M218.7,468l4.3,1v-19.3l-4.3,-1z"/><path d="M223,449.8l39.8,-12.5v-.2l-39.8,12.5z"/><path class="t" d="M218.7,448.7l4.3,1l39.8,-12.5l-4.3,-1z"/><path d="M223,468.9l4.3,1v-19.1l-4.3,-1z"/><path d="M227.3,451l39.8,-12.5v-.2l-39.8,12.5z"/><path class="t" d="M223,449.8l4.3,1l39.8,-12.5l-4.3,-1z"/><path d="M227.3,469.9l4.3,1v-18.9l-4.3,-1z"/><path d="M231.6,452.1l39.8,-12.5v-.2l-39.8,12.5z"/><path class="t" d="M227.3,451l4.3,1l39.8,-12.5l-4.3,-1z"/><path d="M231.6,470.8l4.3,1v-18.7l-4.3,-1z"/><path d="M235.9,453.2l39.8,-12.5v-.2l-39.8,12.5z"/><path class="t" d="M231.6,452.1l4.3,1l39.8,-12.5l-4.3,-1z"/><path d="M235.9,471.8l4.3,1v-18.5l-4.3,-1z"/><path d="M240.2,454.4l39.8,-12.5v-.2l-39.8,12.5z"/><path class="t" d="M235.9,453.2l4.3,1l39.8,-12.5l-4.3,-1z"/><path d="M240.2,472.7l4.3,1v-18.4l-4.3,-1z"/><path d="M244.5,455.5l39.8,-12.5v-.2l-39.8,12.5z"/><path class="t" d="M240.2,454.4l4.3,1l39.8,-12.5l-4.3,-1z"/><path d="M244.5,473.7l4.3,1v-18.2l-4.3,-1z"/><path d="M248.7,456.6l39.8,-12.5v-.2l-39.8,12.5z"/><path class="t" d="M244.5,455.5l4.3,1l39.8,-12.5l-4.3,-1z"/><path d="M248.7,474.6l4.3,1v-18l-4.3,-1z"/><path d="M253,457.8l39.8,-12.5v-.2l-39.8,12.5z"/><path class="t" d="M248.7,456.6l4.3,1l39.8,-12.5l-4.3,-1z"/><path d="M253,475.6l4.3,1v-17.8l-4.3,-1z"/><path d="M257.3,458.9l39.8,-12.5v-.2l-39.8,12.5z"/><path class="t" d="M253,457.8l4.3,1l39.8,-12.5l-4.3,-1z"/><path d="M257.3,476.5l4.3,1v-17.6l-4.3,-1z"/><path d="M261.6,460l39.8,-12.5v-.2l-39.8,12.5z"/><path class="t" d="M257.3,458.9l4.3,1l39.8,-12.5l-4.3,-1z"/><path d="M261.6,477.5l4.3,1v-17.5l-4.3,-1z"/><path d="M265.9,461.2l39.8,-12.5v-.2l-39.8,12.5z"/><path class="t" d="M261.6,460l4.3,1l39.8,-12.5l-4.3,-1z"/><path d="M265.9,478.5l4.3,1v-17.3l-4.3,-1z"/><path d="M270.2,462.3l39.8,-12.5v-.2l-39.8,12.5z"/><path class="t" d="M265.9,461.2l4.3,1l39.8,-12.5l-4.3,-1z"/><path d="M270.2,479.4l4.3,1v-17.1l-4.3,-1z"/><path d="M274.5,463.4l39.8,-12.5v-.2l-39.8,12.5z"/><path class="t" d="M270.2,462.3l4.3,1l39.8,-12.5l-4.3,-1z"/><path d="M274.5,480.4l4.3,1v-16.9l-4.3,-1z"/><path class="t" d="M274.5,463.4l4.3,1l39.8,-12.5l-4.3,-1z"/><path d="M278.8,481.3l4.3,1v-17.5l-4.3,-1z"/><path class="t" d="M278.8,463.8l4.3,1l39.8,-12.5l-4.3,-1z"/><path d="M283,482.3l4.3,1v-18l-4.3,-1z"/><path class="t" d="M283,464.2l4.3,1l39.8,-12.5l-4.3,-1z"/><path d="M287.3,483.2l4.3,1v-18.6l-4.3,-1z"/><path class="t" d="M287.3,464.6l4.3,1l39.8,-12.5l-4.3,-1z"/><path d="M291.6,484.2l4.3,1v-19.2l-4.3,-1z"/><path class="t" d="M291.6,465l4.3,1l39.8,-12.5l-4.3,-1z"/><path d="M295.9,485.1l4.3,1v-19.7l-4.3,-1z"/><path class="t" d="M295.9,465.4l4.3,1l39.8,-12.5l-4.3,-1z"/><path d="M300.2,486.1l4.3,1v-20.3l-4.3,-1z"/><path class="t" d="M300.2,465.8l4.3,1l39.8,-12.5l-4.3,-1z"/><path d="M304.5,487l4.3,1v-20.8l-4.3,-1z"/><path class="t" d="M304.5,466.2l4.3,1l39.8,-12.5l-4.3,-1z"/><path d="M308.8,488l4.3,1v-21.4l-4.3,-1z"/><path class="t" d="M308.8,466.6l4.3,1l39.8,-12.5l-4.3,-1z"/><path d="M313,489l4.3,1v-22l-4.3,-1z"/><path d="M317.3,468.5l39.8,-12.5v-.5l-39.8,12.5z"/><path class="t" d="M313,467l4.3,1l39.8,-12.5l-4.3,-1z"/><path d="M317.3,489.9l4.3,1v-21.4l-4.3,-1z"/><path d="M321.6,469.9l39.8,-12.5v-.5l-39.8,12.5z"/><path class="t" d="M317.3,468.5l4.3,1l39.8,-12.5l-4.3,-1z"/><path d="M321.6,490.9l4.3,1v-20.9l-4.3,-1z"/><path d="M325.9,471.4l39.8,-12.5v-.5l-39.8,12.5z"/><path class="t" d="M321.6,469.9l4.3,1l39.8,-12.5l-4.3,-1z"/><path d="M325.9,491.8l4.3,1v-20.4l-4.3,-1z"/><path d="M330.2,472.9l39.8,-12.5v-.5l-39.8,12.5z"/><path class="t" d="M325.9,471.4l4.3,1l39.8,-12.5l-4.3,-1z"/><path d="M330.2,492.8l4.3,1v-19.9l-4.3,-1z"/><path d="M334.5,474.4l39.8,-12.5v-.5l-39.8,12.5z"/><path class="t" d="M330.2,472.9l4.3,1l39.8,-12.5l-4.3,-1z"/><path d="M334.5,493.7l4.3,1v-19.4l-4.3,-1z"/><path d="M338.8,475.8l39.8,-12.5v-.5l-39.8,12.5z"/><path class="t" d="M334.5,474.4l4.3,1l39.8,-12.5l-4.3,-1z"/><path d="M338.8,494.7l4.3,1v-18.9l-4.3,-1z"/><path d="M343.1,477.3l39.8,-12.5v-.5l-39.8,12.5z"/><path class="t" d="M338.8,475.8l4.3,1l39.8,-12.5l-4.3,-1z"/><path d="M343.1,495.6l4.3,1v-18.3l-4.3,-1z"/><path d="M347.3,478.8l39.8,-12.5v-.5l-39.8,12.5z"/><path class="t" d="M343.1,477.3l4.3,1l39.8,-12.5l-4.3,-1z"/><path d="M347.3,496.6l4.3,1v-17.8l-4.3,-1z"/><path class="t" d="M347.3,478.8l4.3,1l39.8,-12.5l-4.3,-1z"/><path d="M351.6,497.5l4.3,1v-18.9l-4.3,-1z"/><path class="t" d="M351.6,478.6l4.3,1l39.8,-12.5l-4.3,-1z"/><path d="M355.9,498.5l4.3,1v-20l-4.3,-1z"/><path class="t" d="M355.9,478.5l4.3,1l39.8,-12.5l-4.3,-1z"/><path d="M360.2,499.5l4.3,1v-21.1l-4.3,-1z"/><path class="t" d="M360.2,478.4l4.3,1l39.8,-12.5l-4.3,-1z"/><path d="M364.5,500.4l4.3,1v-22.1l-4.3,-1z"/><path class="t" d="M364.5,478.3l4.3,1l39.8,-12.5l-4.3,-1z"/><path d="M368.8,501.4l4.3,1v-23.2l-4.3,-1z"/><path class="t" d="M368.8,478.1l4.3,1l39.8,-12.5l-4.3,-1z"/><path d="M373.1,502.3l4.3,1v-24.3l-4.3,-1z"/><path class="t" d="M373.1,478l4.3,1l39.8,-12.5l-4.3,-1z"/><path d="M377.4,503.3l4.3,1v-25.4l-4.3,-1z"/><path class="t" d="M377.4,477.9l4.3,1l39.8,-12.5l-4.3,-1z"/><path d="M381.6,504.2l4.3,1v-26.5l-4.3,-1z"/><path class="t" d="M381.6,477.8l4.3,1l39.8,-12.5l-4.3,-1z"/><path d="M385.9,505.2l4.3,1v-29l-4.3,-1z"/><path class="t" d="M385.9,476.2l4.3,1l39.8,-12.5l-4.3,-1z"/><path d="M390.2,506.1l4.3,1v-31.6l-4.3,-1z"/><path class="t" d="M390.2,474.5l4.3,1l39.8,-12.5l-4.3,-1z"/><path d="M394.5,507.1l4.3,1v-34.2l-4.3,-1z"/><path class="t" d="M394.5,472.9l4.3,1l39.8,-12.5l-4.3,-1z"/><path d="M398.8,508l4.3,1v-36.7l-4.3,-1z"/><path class="t" d="M398.8,471.3l4.3,1l39.8,-12.5l-4.3,-1z"/><path d="M403.1,509l4.3,1v-38.2l-4.3,-1z"/><path class="t" d="M403.1,470.8l4.3,1l39.8,-12.5l-4.3,-1z"/><path d="M407.4,510l4.3,1v-39.7l-4.3,-1z"/><path class="t" d="M407.4,470.2l4.3,1l39.8,-12.5l-4.3,-1z"/><path d="M411.7,510.9l4.3,1v-41.2l-4.3,-1z"/><path class="t" d="M411.7,469.7l4.3,1l39.8,-12.5l-4.3,-1z"/><path d="M415.9,511.9l4.3,1v-45.6l-4.3,-1z"/><path class="t" d="M415.9,466.2l4.3,1l39.8,-12.5l-4.3,-1z"/><path d="M420.2,512.8l4.3,1v-50l-4.3,-1z"/><path class="t" d="M420.2,462.8l4.3,1l39.8,-12.5l-4.3,-1z"/><path d="M424.5,513.8l4.3,1v-54.4l-4.3,-1z"/><path class="t" d="M424.5,459.3l4.3,1l39.8,-12.5l-4.3,-1z"/><path d="M428.8,514.7l4.3,1v-58.9l-4.3,-1z"/><path class="t" d="M428.8,455.9l4.3,1l39.8,-12.5l-4.3,-1z"/><path d="M433.1,515.7l4.3,1v-62.4l-4.3,-1z"/><path class="t" d="M433.1,453.3l4.3,1l39.8,-12.5l-4.3,-1z"/><path d="M437.4,516.6l4.3,1v-65.8l-4.3,-1z"/><path class="t" d="M437.4,450.8l4.3,1l39.8,-12.5l-4.3,-1z"/><path d="M441.7,517.6l4.3,1v-69.3l-4.3,-1z"/><path class="t" d="M441.7,448.3l4.3,1l39.8,-12.5l-4.3,-1z"/><path d="M446,518.5l4.3,1v-72.8l-4.3,-1z"/><path class="t" d="M446,445.7l4.3,1l39.8,-12.5l-4.3,-1z"/><path d="M450.2,519.5l4.3,1v-76.3l-4.3,-1z"/><path class="t" d="M450.2,443.2l4.3,1l39.8,-12.5l-4.3,-1z"/><path d="M454.5,520.5l4.3,1v-77.8l-4.3,-1z"/><path class="t" d="M454.5,442.7l4.3,1l39.8,-12.5l-4.3,-1z"/><path d="M458.8,521.4l4.3,1v-79.2l-4.3,-1z"/><path class="t" d="M458.8,442.2l4.3,1l39.8,-12.5l-4.3,-1z"/><path d="M463.1,522.4l4.3,1v-80.6l-4.3,-1z"/><path class="t" d="M463.1,441.7l4.3,1l39.8,-12.5l-4.3,-1z"/><path d="M467.4,523.3l4.3,1v-82.1l-4.3,-1z"/><path class="t" d="M467.4,441.2l4.3,1l39.8,-12.5l-4.3,-1z"/><path d="M471.7,524.3l4.3,1v-83.5l-4.3,-1z"/><path class="t" d="M471.7,440.7l4.3,1l39.8,-12.5l-4.3,-1z"/><path d="M476,525.2l4.3,1v-85l-4.3,-1z"/><path class="t" d="M476,440.3l4.3,1l39.8,-12.5l-4.3,-1z"/><path d="M480.3,526.2l4.3,1v-86.4l-4.3,-1z"/><path class="t" d="M480.3,439.8l4.3,1l39.8,-12.5l-4.3,-1z"/><path d="M484.5,527.1l4.3,1v-87.6l-4.3,-1z"/><path class="t" d="M484.5,439.5l4.3,1l39.8,-12.5l-4.3,-1z"/><path d="M488.8,528.1l4.3,1v-88.8l-4.3,-1z"/><path class="t" d="M488.8,439.3l4.3,1l39.8,-12.5l-4.3,-1z"/><path d="M493.1,529l4.3,1v-90l-4.3,-1z"/><path class="t" d="M493.1,439l4.3,1l39.8,-12.5l-4.3,-1z"/><path d="M497.4,530l4.3,1v-91.2l-4.3,-1z"/><path class="t" d="M497.4,438.8l4.3,1l39.8,-12.5l-4.3,-1z"/><path d="M501.7,530.9l4.3,1v-92.4l-4.3,-1z"/><path class="t" d="M501.7,438.5l4.3,1l39.8,-12.5l-4.3,-1z"/><path d="M506,531.9l4.3,1v-93.6l-4.3,-1z"/><path d="M510.3,443.2l39.8,-12.5v-4l-39.8,12.5z"/><path class="t" d="M506,438.3l4.3,1l39.8,-12.5l-4.3,-1z"/><path d="M510.3,532.9l4.3,1v-89.6l-4.3,-1z"/><path d="M514.6,448.1l39.8,-12.5v-4l-39.8,12.5z"/><path class="t" d="M510.3,443.2l4.3,1l39.8,-12.5l-4.3,-1z"/><path d="M514.6,533.8l4.3,1v-85.7l-4.3,-1z"/><path d="M518.8,452l39.8,-12.5v-2.9l-39.8,12.5z"/><path class="t" d="M514.6,448.1l4.3,1l39.8,-12.5l-4.3,-1z"/><path d="M518.8,534.8l4.3,1v-82.8l-4.3,-1z"/><path d="M523.1,455.8l39.8,-12.5v-2.9l-39.8,12.5z"/><path class="t" d="M518.8,452l4.3,1l39.8,-12.5l-4.3,-1z"/><path d="M523.1,535.7l4.3,1v-79.9l-4.3,-1z"/><path d="M527.4,459.6l39.8,-12.5v-2.9l-39.8,12.5z"/><path class="t" d="M523.1,455.8l4.3,1l39.8,-12.5l-4.3,-1z"/><path d="M527.4,536.7l4.3,1v-77l-4.3,-1z"/><path d="M531.7,463.5l39.8,-12.5v-2.9l-39.8,12.5z"/><path class="t" d="M527.4,459.6l4.3,1l39.8,-12.5l-4.3,-1z"/><path d="M531.7,537.6l4.3,1v-74.2l-4.3,-1z"/><path d="M536,467.8l39.8,-12.5v-3.4l-39.8,12.5z"/><path class="t" d="M531.7,463.5l4.3,1l39.8,-12.5l-4.3,-1z"/><path d="M536,538.6l4.3,1v-70.7l-4.3,-1z"/><path d="M540.3,472.2l39.8,-12.5v-3.4l-39.8,12.5z"/><path class="t" d="M536,467.8l4.3,1l39.8,-12.5l-4.3,-1z"/><path d="M540.3,539.5l4.3,1v-67.3l-4.3,-1z"/><path d="M544.6,476.6l39.8,-12.5v-3.4l-39.8,12.5z"/><path class="t" d="M540.3,472.2l4.3,1l39.8,-12.5l-4.3,-1z"/><path d="M544.6,540.5l4.3,1v-63.9l-4.3,-1z"/><path d="M548.9,481l39.8,-12.5v-3.4l-39.8,12.5z"/><path class="t" d="M544.6,476.6l4.3,1l39.8,-12.5l-4.3,-1z"/><path d="M548.9,541.4l4.3,1v-60.5l-4.3,-1z"/><path d="M553.1,483.3l39.8,-12.5v-1.4l-39.8,12.5z"/><path class="t" d="M548.9,481l4.3,1l39.8,-12.5l-4.3,-1z"/><path d="M553.1,542.4l4.3,1v-59.1l-4.3,-1z"/><path d="M557.4,485.6l39.8,-12.5v-1.4l-39.8,12.5z"/><path class="t" d="M553.1,483.3l4.3,1l39.8,-12.5l-4.3,-1z"/><path d="M557.4,543.4l4.3,1v-57.7l-4.3,-1z"/><path d="M561.7,487.9l39.8,-12.5v-1.4l-39.8,12.5z"/><path class="t" d="M557.4,485.6l4.3,1l39.8,-12.5l-4.3,-1z"/><path d="M561.7,544.3l4.3,1v-56.4l-4.3,-1z"/><path d="M566,490.3l39.8,-12.5v-1.4l-39.8,12.5z"/><path class="t" d="M561.7,487.9l4.3,1l39.8,-12.5l-4.3,-1z"/><path d="M566,545.3l4.3,1v-55l-4.3,-1z"/><path d="M570.3,492.6l39.8,-12.5v-1.4l-39.8,12.5z"/><path class="t" d="M566,490.3l4.3,1l39.8,-12.5l-4.3,-1z"/><path d="M570.3,546.2l4.3,1v-53.6l-4.3,-1z"/><path d="M574.6,494.9l39.8,-12.5v-1.4l-39.8,12.5z"/><path class="t" d="M570.3,492.6l4.3,1l39.8,-12.5l-4.3,-1z"/><path d="M574.6,547.2l4.3,1v-52.2l-4.3,-1z"/><path d="M578.9,497.3l39.8,-12.5v-1.4l-39.8,12.5z"/><path class="t" d="M574.6,494.9l4.3,1l39.8,-12.5l-4.3,-1z"/><path d="M578.9,548.1l4.3,1v-50.9l-4.3,-1z"/><path d="M583.1,499.6l39.8,-12.5v-1.4l-39.8,12.5z"/><path class="t" d="M578.9,497.3l4.3,1l39.8,-12.5l-4.3,-1z"/><path d="M583.1,549.1l4.3,1v-49.5l-4.3,-1z"/><path d="M587.4,502.3l39.8,-12.5v-1.7l-39.8,12.5z"/><path class="t" d="M583.1,499.6l4.3,1l39.8,-12.5l-4.3,-1z"/><path d="M587.4,550l4.3,1v-47.8l-4.3,-1z"/><path d="M591.7,505l39.8,-12.5v-1.7l-39.8,12.5z"/><path class="t" d="M587.4,502.3l4.3,1l39.8,-12.5l-4.3,-1z"/><path d="M591.7,551l4.3,1v-46l-4.3,-1z"/><path d="M596,507.7l39.8,-12.5v-1.7l-39.8,12.5z"/><path class="t" d="M591.7,505l4.3,1l39.8,-12.5l-4.3,-1z"/><path d="M596,551.9l4.3,1v-44.3l-4.3,-1z"/><path d="M600.3,552.9l39.8,-12.5v-44.3l-39.8,12.5z"/><path class="t" d="M596,507.7l4.3,1l39.8,-12.5l-4.3,-1z"/></g>
<rect x="614.0" y="521.2" width="12.4" height="6.4" fill="rgba(255,255,255,0.45)"/>
<text x="620.2" y="526.7" text-anchor="middle" class="vl">246</text>
<rect x="653.7" y="460.7" width="12.4" height="6.4" fill="rgba(255,255,255,0.45)"/>
<text x="659.9" y="466.2" text-anchor="middle" class="vl">779</text>
<rect x="693.5" y="475.3" width="12.4" height="6.4" fill="rgba(255,255,255,0.45)"/>
<text x="699.7" y="480.8" text-anchor="middle" class="vl">477</text>
<rect x="733.3" y="459.6" width="12.4" height="6.4" fill="rgba(255,255,255,0.45)"/>
<text x="739.5" y="465.1" text-anchor="middle" class="vl">513</text>
<rect x="773.0" y="440.7" width="12.4" height="6.4" fill="rgba(255,255,255,0.45)"/>
<text x="779.2" y="446.2" text-anchor="middle" class="vl">584</text>
<rect x="812.8" y="441.8" width="12.4" height="6.4" fill="rgba(255,255,255,0.45)"/>
<text x="819.0" y="447.3" text-anchor="middle" class="vl">432</text>
<rect x="852.5" y="440.3" width="12.4" height="6.4" fill="rgba(255,255,255,0.45)"/>
<text x="858.7" y="445.8" text-anchor="middle" class="vl">310</text>
<rect x="892.3" y="438.6" width="12.4" height="6.4" fill="rgba(255,255,255,0.45)"/>
<text x="898.5" y="444.1" text-anchor="middle" class="vl">189</text>
<rect x="932.1" y="431.1" width="12.4" height="6.4" fill="rgba(255,255,255,0.45)"/>
<text x="938.3" y="436.6" text-anchor="middle" class="vl">133</text>
<rect x="971.8" y="414.9" width="12.4" height="6.4" fill="rgba(255,255,255,0.45)"/>
<text x="978.0" y="420.4" text-anchor="middle" class="vl">174</text>
<text x="632.0" y="554.8" text-anchor="middle" class="al">0-4</text>
<text x="672.9" y="542.4" text-anchor="middle" class="al">5-14</text>
<text x="714.9" y="530.0" text-anchor="middle" class="al">15-24</text>
<text x="756.1" y="517.2" text-anchor="middle" class="al">25-34</text>
<text x="796.6" y="504.8" text-anchor="middle" class="al">35-44</text>
<text x="836.2" y="492.4" text-anchor="middle" class="al">45-54</text>
<text x="876.3" y="479.5" text-anchor="middle" class="al">55-64</text>
<text x="915.5" y="467.1" text-anchor="middle" class="al">65-74</text>
<text x="955.5" y="454.3" text-anchor="middle" class="al">75-84</text>
<text x="991.6" y="441.5" text-anchor="middle" class="al">85+</text>
<line x1="37.2" y1="429.8" x2="40.6" y2="428.8" stroke="#5a6a6a" stroke-width="0.7"/>
<text x="34.4" y="433.0" text-anchor="end" class="dl">4.8.2021</text>
<line x1="66.6" y1="436.3" x2="70.0" y2="435.3" stroke="#5a6a6a" stroke-width="0.7"/>
<text x="63.8" y="439.5" text-anchor="end" class="dl">11.8.2021</text>
<line x1="96.0" y1="442.9" x2="99.4" y2="441.9" stroke="#5a6a6a" stroke-width="0.7"/>
<text x="93.2" y="446.1" text-anchor="end" class="dl">18.8.2021</text>
<line x1="125.3" y1="449.4" x2="128.7" y2="448.4" stroke="#5a6a6a" stroke-width="0.7"/>
<text x="122.5" y="452.6" text-anchor="end" class="dl">25.8.2021</text>
<line x1="154.7" y1="455.9" x2="158.1" y2="454.9" stroke="#5a6a6a" stroke-width="0.7"/>
<text x="151.9" y="459.1" text-anchor="end" class="dl">1.9.2021</text>
<line x1="184.1" y1="462.5" x2="187.5" y2="461.5" stroke="#5a6a6a" stroke-width="0.7"/>
<text x="181.3" y="465.7" text-anchor="end" class="dl">8.9.2021</text>
<line x1="213.5" y1="469.0" x2="216.9" y2="468.0" stroke="#5a6a6a" stroke-width="0.7"/>
<text x="210.7" y="472.2" text-anchor="end" class="dl">15.9.2021</text>
<line x1="242.9" y1="475.5" x2="246.3" y2="474.5" stroke="#5a6a6a" stroke-width="0.7"/>
<text x="240.1" y="478.7" text-anchor="end" class="dl">22.9.2021</text>
<line x1="272.2" y1="482.1" x2="275.6" y2="481.1" stroke="#5a6a6a" stroke-width="0.7"/>
<text x="269.4" y="485.3" text-anchor="end" class="dl">29.9.2021</text>
<line x1="301.6" y1="488.6" x2="305.0" y2="487.6" stroke="#5a6a6a" stroke-width="0.7"/>
<text x="298.8" y="491.8" text-anchor="end" class="dl">6.10.2021</text>
<line x1="331.0" y1="495.1" x2="334.4" y2="494.1" stroke="#5a6a6a" stroke-width="0.7"/>
<text x="328.2" y="498.3" text-anchor="end" class="dl">13.10.2021</text>
<line x1="360.4" y1="501.7" x2="363.8" y2="500.7" stroke="#5a6a6a" stroke-width="0.7"/>
<text x="357.6" y="504.9" text-anchor="end" class="dl">20.10.2021</text>
<line x1="389.8" y1="508.2" x2="393.2" y2="507.2" stroke="#5a6a6a" stroke-width="0.7"/>
<text x="387.0" y="511.4" text-anchor="end" class="dl">27.10.2021</text>
<line x1="419.1" y1="514.7" x2="422.5" y2="513.7" stroke="#5a6a6a" stroke-width="0.7"/>
<text x="416.3" y="517.9" text-anchor="end" class="dl">3.11.2021</text>
<line x1="448.5" y1="521.2" x2="451.9" y2="520.2" stroke="#5a6a6a" stroke-width="0.7"/>
<text x="445.7" y="524.4" text-anchor="end" class="dl">10.11.2021</text>
<line x1="477.9" y1="527.8" x2="481.3" y2="526.8" stroke="#5a6a6a" stroke-width="0.7"/>
<text x="475.1" y="531.0" text-anchor="end" class="dl">17.11.2021</text>
<line x1="507.3" y1="534.3" x2="510.7" y2="533.3" stroke="#5a6a6a" stroke-width="0.7"/>
<text x="504.5" y="537.5" text-anchor="end" class="dl">24.11.2021</text>
<line x1="536.7" y1="540.8" x2="540.1" y2="539.8" stroke="#5a6a6a" stroke-width="0.7"/>
<text x="533.9" y="544.0" text-anchor="end" class="dl">1.12.2021</text>
<line x1="566.0" y1="547.4" x2="569.4" y2="546.4" stroke="#5a6a6a" stroke-width="0.7"/>
<text x="563.2" y="550.6" text-anchor="end" class="dl">8.12.2021</text>
<line x1="595.4" y1="553.9" x2="598.8" y2="552.9" stroke="#5a6a6a" stroke-width="0.7"/>
<text x="592.6" y="557.1" text-anchor="end" class="dl">15.12.2021</text>
<text x="22.8" y="410.1" text-anchor="end" class="yl">100</text>
<text x="22.8" y="392.1" text-anchor="end" class="yl">200</text>
<text x="22.8" y="374.1" text-anchor="end" class="yl">300</text>
<text x="22.8" y="356.1" text-anchor="end" class="yl">400</text>
<text x="22.8" y="338.1" text-anchor="end" class="yl">500</text>
<text x="22.8" y="320.1" text-anchor="end" class="yl">600</text>
<text x="22.8" y="302.1" text-anchor="end" class="yl">700</text>
<text x="22.8" y="284.1" text-anchor="end" class="yl">800</text>
<text x="22.8" y="266.1" text-anchor="end" class="yl">900</text>
<text x="22.8" y="248.1" text-anchor="end" class="yl">1000</text>
<text x="22.8" y="230.1" text-anchor="end" class="yl">1100</text>
<text x="22.8" y="212.1" text-anchor="end" class="yl">1200</text>
<text x="22.8" y="194.1" text-anchor="end" class="yl">1300</text>
<text x="22.8" y="176.1" text-anchor="end" class="yl">1400</text>
<text x="22.8" y="158.1" text-anchor="end" class="yl">1500</text>
<text x="22.8" y="140.1" text-anchor="end" class="yl">1600</text>
<text x="22.8" y="122.1" text-anchor="end" class="yl">1700</text>
<text x="22.8" y="104.1" text-anchor="end" class="yl">1800</text>
<text transform="translate(18.4,95) rotate(90)" text-anchor="end" class="yt">7d/100k</text>
<text transform="translate(12.2,95) rotate(90)" text-anchor="end" class="yt">incidenca</text>
</svg></body></html>
